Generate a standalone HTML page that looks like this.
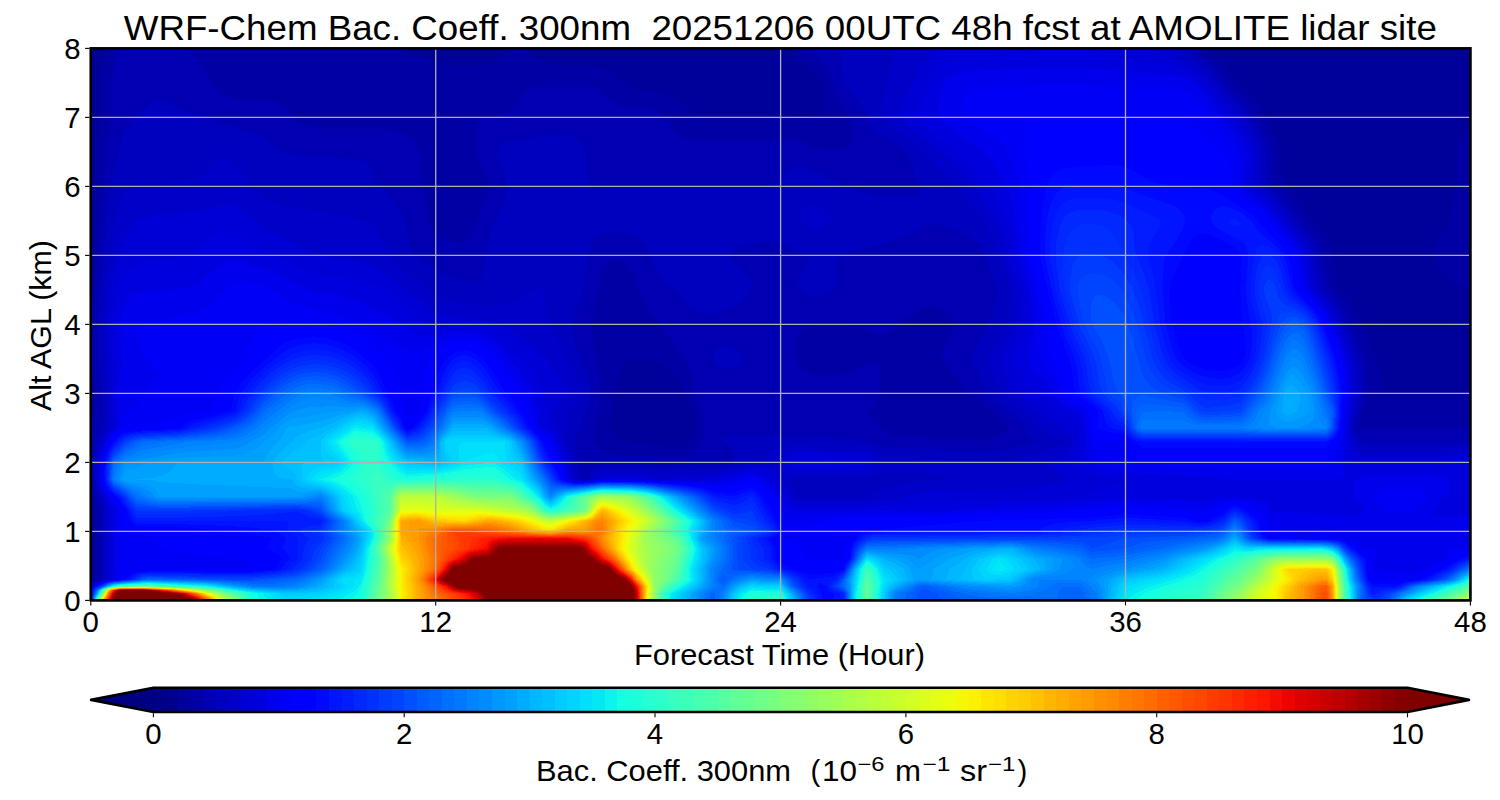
<!DOCTYPE html>
<html><head><meta charset="utf-8"><title>WRF-Chem Bac. Coeff. 300nm</title>
<style>
html,body{margin:0;padding:0;background:#fff;}
body{width:1500px;height:800px;overflow:hidden;}
svg{display:block;}
text{font-family:"Liberation Sans",sans-serif;fill:#000;}
</style></head>
<body>
<svg width="1500" height="800" viewBox="0 0 1500 800">
<rect x="0" y="0" width="1500" height="800" fill="#fff"/>
<g shape-rendering="crispEdges">
<rect x="90.8" y="48.4" width="1379.6" height="552.0" fill="#000080"/>
<path fill="#000084" d="M96.5 600.4l1373.9 0 0-552-1379.6 0 0 552z"/>
<path fill="#00008d" d="M96.5 600.4l1373.9 0 0-552-1379.6 0 0 552z"/>
<path fill="#00009b" d="M96.5 600.4l1373.9 0 0-552-1379.6 0 0 552z"/>
<path fill="#0000a4" d="M96.5 600.4l1373.9 0 0-208.1-74.7-.4-5.8-1-5.7-3.7-5.8-12.9-1.5-8.5-7-24.2-4.8-10.3-3.9-7-6.7-17.1-1.6-3.5-5.2-6.9-3.8-3.7-5.4-6.7-1.5-3.4-5.7-34.5-1.9-6.9-1.6-3.4-3.8-7-14.6-14.8-9.9-16.2-13-16.3-2.2-4.4-1.9-6.9-4.4-27.6-2.2-6.9-4.5-10.3-7.8-13.6-3.4-7.2-4.3-6.9-6.5-6.9-8.8-6.7-5.8-6-8.6-14.9-3-3.4-3.8-3.5-11-6.9-4.4-3.4-410.1 0 2.3 6.9 2.2 3.4 5.3 5.6 11.6 8.2 5.4 6.9 1.3 3.5 1.1 6.9 .2 6.9-.7 10.3-.8 3.5-.9 1.7-2 1.7-3.7 1.7-5.8 .7-40.2-1.8-57.5-.1-11.5-.7-5.7-1.5-5.8-3.3-11.5-9.7-5.7-3.4-5.8-2.2-11.5-1.9-17.2-1.3-5.8-1.5-5.7-3-13.7-13.4-3.5-2.4-5.8-2.4-11.5-1.8-28.7-.4-11.5-1.2-5.8-1.5-7.6-4.1-7.4-6.9-2-3.4-21.4 0-2.4 3.4-5.2 5.5-5.7 3.9-2.3 1-3.5 1.4-5.7 1.2-17.3 .8-17.2-.5-11.5-2.2-10.5-4.2-20-10.3-301.9 0-3 31-.7 38-5.5 82.8-3.3 64.3 0 232.4 3.8 13.8 0 69-3.8 1.1 0 19.6zM657 445.2l-32.8-3.5-4.6-2.2-5.7-4.6-4.6-7 1.7-17.3 5.2-17.2 2.3-17.2 1.8-7 5.1-7.5 5.7-2.3 11.5-.6 5.8 .6 5.7 1.4 5.8 2.5 5.7 3.5 5.8 4.8 5.7 5.9 5.8 9.1 3.7 10.2 7.5 13.8 2.6 17.3-3.4 6.9-4.7 5.6-5.7 4.8-5.8 1.5-17.2-1.3zM1470.4 290.4l0-163.6-6.5 7.8-5 9.3-1.4 4.5-1.6 10.4-.7 31-1.2 10.4-2.5 13.8-4.1 10.1-10.4 17.5-2.7 6.9-.9 6.9 1.3 6.9 1.6 3.4 5.4 7.6 5.7 4.7 5.8 3.4 16.6 8.5z"/>
<path fill="#0000b2" d="M96.5 600.4l1373.9 0 0-172.5-115 0 4.5-3.5 .9-13.8 .4-1.2 3-2.2 1.7-3.4 1.5-7 .5-3.4-.2-10.4-2.1-20.7-2.5-10.3-3.5-10.4-13.8-31-4-6.9-10.9-13.8-3.4-6.9-.9-3.5-3-24.1-1.9-6.9-2.7-6.9-1.9-3.4-5-7-8.4-8.9-3.5-4.9-10.6-17.2-9.4-10.4-5.1-6.8-1.7-7-1-20.7-2-10.3-2.5-6.9-3.4-6.9-14.2-24.2-5.4-6.9-10.2-9.2-5.7-6.1-7.8-12.3-5.6-6.9-4.1-3.4-11.3-7.7-6.1-6.1-384.3 0 2.5 3.5 8.5 7.8 5.8 6.9 4.1 9.4 3.8 13.8 2.5 6.9 4 6.9 7 10.3 2.7 6.9 .9 6.9 .2 6.9-.3 6.9-.8 3.5-1.1 1.7-2.4 1.7-3.4 1.2-5.7 .9-11.5-.2-5.8-1-5.7-1.8-13.1-6-4.2-1.4-5.7-1.2-5.8-.2-17.2 1.4-17.2 .4-51.8-.2-11.5-1.1-5.7-1.9-5.8-3.6-4.8-6-6.6-10.3-5.8-4.7-5.8-2.2-5.7-.9-17.3-1.2-5.7-1-5.8-1.8-9.4-5.5-7.8-6.8-5.7-3.8-5.8-1.8-11.5-1-34.5-.1-11.5 .9-5.7 2.1-3.9 3.6-7.6 11.9-5.8 5.4-5.7 2.1-19.7 4.8-5.8 3.5-2 3.4-.6 6.9 0 10.3 1.3 13.8 2.1 6.9 8 17.3 1.3 6.9-.3 3.4-1.6 5.1-7 15.6-4.5 14.7-5.7 12.3-5.8 4.8-5.7 .7-5.8-1.2-5.7-2-5.8-2.9-5.7-4.6-5.6-8-3-10.3-4.3-24.2-1-10.3-.6-20.7-1.2-6.9-3.2-6.9-2.9-3.5-4-3.4-5.9-3.5-8.5-3.2-11.5-2-11.5-.6-51.8-.2-11.5-1.6-5.7-2.2-5.8-3.8-11.5-11.9-5.7-4.4-5.8-2.5-5.7-1.3-5.8-.5-22.9-1.1-11.5-2.5-5.8-2.6-6-4.4-5.5-7-11.5-19.2-12.8-15.2-69.7 0-3.7 16.8-2.6 17.7-.9 34.5-4.2 34.5-4.9 51.7-3.3 51.8-3.8 37.9-2.2 31.1-.7 27.6 .2 13.8 4.1 27.6-.4 10.4-1.4 13.8-.5 3.4-2.4 6.9 0 51.7 1.8 10.4 5.9 20.7 0 69-7.7 2.3 0 18.4zM624.2 455.5l-10.3-1.7-5.7-1.8-5.8-2.5-5.7-4.3-2.9-3.5 .6-13.8 7.1-34.5-1.5-13.8-5.5-24.2-4-27.6 .4-7 3.4-13.6 3.9-20.8 4.2-15.3 5.8-8.7 5.7-2.4 5.7 0 5.8 2.5 5.7 7.3 5.8 13.7 4.5 13.3 5.1 10.4 18.1 24.1 14.1 17.2 6.5 10.4 3.3 6.9 2.4 6.9 1.8 10.3 .7 10.4 1 2.5 3.7 4.4 1.3 3.5 5.3 24.1-2 10.3-2.6 6.9-2.1 3.5-3.6 3.4-5.8 3-5.7 1.6-5.8 .6-51.7-1.6zM981.8 441.7l-86.2-6.4-5.8-1.9-10-5.5-1.5-2.5-7-7.8-3.6-7 4.2-3.4 3-3.4 3.4-5.3 2.2-5.1 .5-10.4-.3-10.3-1.3-6.9-1.1-2.5-5.7-.9-5.8 1.8-17.2 7.4-11.5 3.3-5.8 .6-11.5 .1-11.5-1.9-7-4.5-2.9-3.4-1.8-3.5-1.1-3.4-.9-6.9-.1-10.4 .8-6.9 1.5-2.8 5.8-2.9 5.7-1.1 11.5-.8 17.3-.2 17.2 1.1 16.5 3.3 6.5 2.1 5.8 .5 5.7-2.5 11.5-7.5 17.3-13.9 5.7-3.6 5.8-1.1 5.7 1 5.8 2.3 5.7 3.7 4.4 5.2 1.7 3.5 .4 3.4-.3 3.4-1.2 3.5-5 10.1-4.6 7.1-1.2 3.5-.5 3.4 1.2 3.5 2.2 3.4 8.6 9.2 14.7 21.9 19.8 13.7 6.7 3.5 8.1 10.4 3.4 3.4 4.8 3.5-5.7 4.6-5.8 3.3-5.7 2.4-11.5 3.5z"/>
<path fill="#0000bf" d="M96.5 600.4l1373.9 0 0-158.7-109.2 0-1.4-3.5-2.6-3.4-1.8-1.2-1.8-5.7 1.8-9.4 1.8-4.4 5.8-20.7-.9-13.8-2.9-20.7-5.4-17.3-12.2-27.6-6-10.3-8.9-11.2-3.5-6.1-2.1-6.9-3.1-24.1-3.7-10.4-1.7-3.4-4.8-6.9-11.8-13.8-11-17.3-5.9-6.9-7.1-6.9-2.9-3.4-1.8-3.5-1.1-6.9 .6-17.2-1.2-10.4-2.4-6.9-3.2-6.9-12.5-20.7-7.7-10.3-10.8-10.7-5.6-6.6-6.8-10.3-4.9-6-5-4.4-14.4-10.3-6.2-6.9-346.6 0 1.9 10.3 2.1 20.7 1 3.5 3.9 6.9 9.3 10.3 3.4 4.7 3.1 5.7 4.5 10.3 4.4 6.9 3.3 3.5 4.4 3.4 14.8 8.6 5.7 4.1 4.5 4.6 2.3 3.4 5.5 17.3 5.7 13.8 .5 3.5-1.2 3.8-5.8 3.1-11.5 .5-11.5-.7-17.2-2.5-17.3-3.7-11.5-4.3-17.2-9.6-5.8-2.7-11.5-3.9-5.7-1.4-5.8-.6-5.7 1-5.8 3.2-11.4 9.3-5.8 2.9-5.7 1.4-5.8 .5-138 .2-17.2-.6-5.7-1-5.2-1.9-3.1-3.4-.9-3.5-.9-17.2-1.4-7.8-2.8-6-2.7-3.5-6-4-5.8-1.7-5.7-.7-11.5-.1-11.5 1.3-28.8 4.7-5.7 1.7-3.4 2.3-2.4 2.4-1.4 4.5 .1 3.4 1.3 4.9 4.2 8.9 3.7 10.4 .8 6.9-.8 6.9-3.7 10.3-9.9 21.1-6 23.8-3.4 20.7-2 6.9-3.4 3.4-2.5 1.4-5.7 .6-11.9-2-11.1-3.9-5.8-2.8-21.6-14-4.1-3.4-3-3.4-3.1-7-5.1-24.1-4-10.4-5-8.3-4.8-5.5-14.6-13.8-2.4-3.4-1.2-3.5-2.5-10.3-2.5-3.5-6.5-2.1-7.4-1.3-44.4-2.8-17.2-2.2-5.8-1.9-5.7-2.8-17-11-7.4-3.5-27.3-8.2-17.3-6.2-19.4-6.3-16.5-6.9-4.3-2.7-3-.7-2.8-2-5.7-1-5.8 .6-2.7 2.4-3 1-1.8 2.4-4 2.3-.6 1.2-5.1 4.1-2 2.8-3.8 3.6-5.7 8.9-5.8 15.5-.6 3-5.1 24.6-6.2 37.5-3.9 44.9-3.8 34.5-2.2 34.5 .8 41.4 3.8 27.6 1 34.5-4 3.5-2.4 3.4-1.4 3.4-2 10.4-1.5 13.8 1 17.2 .6 3.5 1.9 6.9 3 6.9 3.8 13.8 0 69-5.8 1-5.7 2.5 0 17.2zM581.3 479.6l-2.9-10.3-2.3-20.7-1.5-6.9 3.2-10.3 11-27.6 2.3-10.4-.8-6.9-1.6-6.9-10.7-27.6-5.8-20.7-.6-6.9 1.5-6.9 6.3-14.7 2.9-9.5 1.8-10.3 2.5-24.2 2.3-10.3 3.3-6.9 4.5-4.7 5.7-2.8 5.8-1.2 5.7-.4 11.5 .5 5.7 1.1 5.8 2.5 5.7 4.7 2.8 3.7 5.1 10.4 3.6 10.3 5.8 11.6 5.7 6.6 10.3 6 4.2 3.4 10.7 13.9 3.6 3 5.7 2.6 5.8 .9 5.7-.2 5.8-1 5.7-1.8 5.8-2.3 9.1-4.7 9.4-6.9 3.1-3.5 1.8-3.4 .5-3.5-.6-3.4-3.7-6.9-6.3-6.9-11.7-10.4-1.8-3.4 1.3-3.5 5.2-3.4 9.6-3.5 7.1-1.7 11.5-2.1 5.7-.3 5.8 .4 5.7 1.4 5.7 2.2 13.1 7 4.9 3.5 3.1 3.4 .3 3.5-7.4 13.8-2.1 6.9 .1 3.4 1.4 3.5 3.9 4 5.7 2.5 5.8 .5 5.7-.9 7.3-2.7 5.1-3.4 2.9-3.5 1.3-3.4 .3-3.5-2.6-13.8 .3-3.4 2.8-3.5 5.5-3.4 7.7-3.5 10.3-3.4 33.9-8.3 11.5-4.8 17.2-9.6 5.8-1.5 5.7 .1 5.8 1.3 17.2 5.7 5.7 2.3 5.8 3.1 5.7 4.5 5.8 6.9 2 3.7 3.7 8.9 3.4 11.8 5.3 13.8 1.1 6.9-1 6.9-3 12.4-2.7 8.4-3.1 6.6-8.5 14-4.5 10.4-1 6.9 1.2 6.9 2.8 6.9 10.2 20.7 7.3 6.9 15.1 10.3 14.8 17.3 2.9 6.9 3.3 3.4 2.4 1.5 5.8 2-28.8 6.9-28.7 2.9-97.7-4.5-17.3-5.3-28.7-3.5-17.3-1.3-40.2-2.1-51.7 0-5.8 3.4 0 3.5 5.8 3.5 2.4 3.4 2.3 6.9 1 6.9-11.5 2-57.5 1.4-28.7-.9-34.5 0-6.6 .9-4.9 3-2.2 4-1.4 6.8-2.1 .3zM723.1 368.6l5.8 0 5.7-1.6 2.6-1.2 4.8-3.5 1.8-3.4-.7-3.5-2.7-3.4-5.8-3.7-5.7-2-5.8-.4-5.7 2-.8 .6-2.4 3.5-1 3.4 .2 3.5 1.5 3.4 2.9 3.5z"/>
<path fill="#0000c8" d="M96.5 600.4l1373.9 0 0-153.5-28.7 1.7-80.5 0-6.3-10.4-1.4-3.4-1.7-6.9 .9-6.9 6.3-27.6-2.2-24.2-2.7-13.8-2.1-6.9-4-10.3-12.6-27.6-4.4-6.9-10.1-12.9-2.2-4.4-1.9-6.9-2.6-20.7-3.1-10.3-6.3-10.3-12.6-15.3-11.5-17.1-4.8-5.6-11-10.4-2.7-3.4-1.5-3.5-.7-3.4 1.6-20.7-.4-6.9-.7-3.5-4.4-10.3-14.9-24.1-5.5-7-13-13.8-11-15.4-4.7-5.3-6.8-5.4-12.4-8.4-8.5-6.9-3.2-3.4-281.4 0-4.9 23.4-4.4 14.5-2.4 10.4-.7 6.9 0 6.9 1.8 6.9 2 3.4 3.7 4.1 18.1 13.2 8.5 6.9 6.7 6.9 12.7 15.7 17.2 14.9 5.8 7.1 9.2 14 13.8 14.9 5.7 8.6 5.8 12.5 8.4 26.1 8.1 20.7 1.3 6.9-.2 6.9-1.7 10.4-2.3 10.4-2.7 6.8-13.2 24.2-1.6 6.9 .1 3.4 1.5 6.9 7.7 20.7 1.7 3.5 4.4 3.9 5.7 4.3 9.5 5.6 4.7 3.4 14.6 17.3 12.3 6.9 16.4 6.9-15.7 6.9-13 4.9-28.8 8.9-126.4-5.1-5.8-3-5.7-4-5.8-2.7-69-2.4-5.7 .2-5.8 1-15.3 5.6-7.6 4.6-5.8 5.8-17.2 2.7-17.3 3.4-11.5 1.4-46 2.6-28.7-2.7-34.5 0-5.7 2.1-.9 .9-2.7 3.4-1.6 3.4-6.3 .7-11.5-.7-.5-17.2-2.4-10.4-4.4-10.3-.6-13.8 1.9-10.3 2.5-7 9.2-6.8 1.9-3.5 2.4-6.9-2-6.9-2.3-5.3-8.4-12-4-6.9-10.6-23.1-8.1-14.8-2-6.9-1.3-24.2-1.3-3.4-4.5-2.2-3 2.2-2.8 .7-3.7 2.7-13 6.9-9.5 3.5-8.3 1.5-11.5 .3-11.5-1.1-23-3.6-11.5-3.3-5.7-2.8-5.7-3.8-13.1-11.4-17.1-13.8-7.4-6.9-5.3-6.9-8.9-19.9-3.1-4.2-3.6-3.5-6.4-3.4-9.9-2.7-69-11.7-11.5-3.2-5.7-2.7-5.8-3.7-8.4-7.1-6.4-6.9-8.1-12.7-5.8-7-5.7-3.5-5.8-1.1-1.7 .2-4 .8-4.9 2.6-3.3 3.5-4.6 6.9-3.4 3.4-6.8 3.1-11.5 1.6-40.3 3.1-5.7 1.3-5.8 2.8-5.7 5.4-5.8 10.1-4 14-1.7 8.1-3 26.4-3.4 20.7-2.6 20.7-1.8 24.2-.2 17.2 1.3 31.1 2.8 27.6 1.1 34.5-3.4 3.5-6.1 10.3-1.8 6.9-2.2 13.8 .6 17.2 2.8 10.4 1.6 3.4 2.8 3.5 2.9 13.8 0 69-8.7 1.6-5.7 3 0 16.1zM797.8 496.9l-2.6-6.9-4.3-6.9-3.1-3.5 4.3-1.7 5.7-.7 69-.4 5.8-.9 11.5-4 28.7 1.2 17.3 1.4 11.5 1.7 11.4 3.4-34.4 2.3-23 3.1-11.5 2.8-5.8 2-5.7 2.9-5.8 4.2-69 0zM809.3 226.6l5.8 .9 5.7-.9 5.9-2.3 3.5-3.4-.3-3.5-2.7-3.4-6.4-5.3-5.7-3.2-5.8-.4-5.7 4.2-.9 1.2-1.6 3.5-.6 3.4 1 3.5 3.2 3.4z"/>
<path fill="#0000d6" d="M96.5 600.4l1373.9 0 0-148.4-28.7 3.5-80.5 0-4-3.5-2-3.4-3.4-10.4-1.8-10.3 .6-6.9 4.7-27.6-2.4-27.6-1.4-6.9-3.1-10.4-7-17.2-7.8-17.3-4-6.8-10.7-13.9-4.2-6.9-1.8-6.9-2.6-20.7-2-6.9-3.4-6.9-4.9-6.8-11.3-13.9-12.2-17.2-6.7-6.9-11.3-10.4-2.5-3.4-1.3-3.5-.5-3.4 2.2-17.3 .3-6.9-1.2-6.9-2.9-6.9-17.7-27.6-15.6-17.2-12.5-17.3-6.6-6.2-17.2-10.7-11.5-5.7-5.8-1.9-25.6-6.5-196.5 0-7.8 4.8-5.7 4.3-7.7 8.1-6 10.4-13.3 27.6-2.4 6.9-.1 3.4 1 3.5 2.3 3.4 3.5 3.5 25.7 20.7 32.7 31 5.8 6.9 15.9 21.5 5.8 8.8 2.1 4.2 5.2 13.8 8.1 31.1 7.8 20.7 1.7 6.9 .7 6.9-.5 17.2-1.4 10.4-2.3 6.9-8.7 17.2-2.8 6.9-.6 6.9 1.4 6.9 6.5 18.1 4.5 6.1 12.2 6.9 5 3.4 7.1 6.7 21.5 17.5 7.2 3.5 3 3.4 2.8 6.9-2.2 6.9-3.6 6.9-19.1 6.9 5.9 6.9 3.6 3.5 9.6 6.8-11.5 3.9-17.2 4.8-51.8 2-63.2 1.4-23 5.9-34.5 3.9-69 0-5.7-2.3-1.9-2.3-3.9-8.1-8.9-9.2-.7-6.8-1.6-3.5-6-2.1-17.2-.7-40.3 8.4-46 4.4-5.7-.4-11.5-2.5-11.5-1.7-34.5 0-5.7 3.6-.9 1.3-10.6 1.1-11.5-.6-1.8-.5-1.8-13.8-4.1-13.8-4.2-10.3-1.5-6.9-1.4-3.4-2.5-3.5-3.9-17.3 5.6-6.9 11.5-10.3-26.7-38-7-6.9-17.3-13.7-8.2-5.7-5.7-3-11.5-3.7-17.3-3-28.7-3.3-5.8-1.4-5.7-2.4-11.5-7.5-34.5-28.5-11.5-8-5.7-2.9-11.5-3.4-40.3-6.5-12.3-3.6-7.2-3.4-11.5-6.9-20.7-10.9-4.5-2.9-7-5.5-11.5-10.5-5.7-4.1-5.8-2.4-5.7-.8-5.8 .6-23 5.3-40.2 4.9-17.3 3-5.7 2.1-5.8 4.6-5.7 11.4-3.3 12.1-8.2 25.6-3.4 19.2-2.4 22-.4 16 3.2 62.1 .1 34.5-5.6 6.9-4.8 10.4-2.1 6.8-1.6 10.4 .2 17.2 .7 3.5 2.4 6.9 4.4 6.9 3.5 13.8 0 69-11.5 2.3-2.6 1.2-3.1 2.2 0 15zM786.3 470.5l5.8 1.4 5.7 .4 69-1.3 5.8-3 2.4-2.2 2.6-3.4-5-5-5.8-3.9-57.5-2.4-11.5-.2-5.7 1-6 3.6-3.3 3.4-2.2 3.5 1 3.4 2.6 3.5z"/>
<path fill="#0000df" d="M96.5 600.4l1373.9 0 0-143.2-17.2 2.8-11.5 2.4-86.3 0-2.3-3.5-2.4-6.9-2-13.8-.5-10.3 .4-6.9 3.4-27.6-2.2-27.6-2.3-10.4-2.2-6.9-9.9-24.1-4.9-10.4-6.7-10.3-8.6-10.4-4-6.9-1.9-6.9-2.6-20.7-2.3-6.9-1.6-3.4-4.6-6.9-11.7-14.5-12.2-16.6-6.4-6.9-12.1-10.3-3.2-3.5-2.2-3.4-1.2-3.5-.4-3.4 2.8-20.7-.4-6.9-1-3.5-3.3-6.9-15.9-24.1-15.4-17.3-9.9-13.8-5.5-6.3-5.7-4.4-11.5-5.9-5.8-2.2-11.5-2.9-40.2-4.8-23-3.9-16.5-4.1-11.2-3.4-25.5 0-18.1 3.5-14.9 2-51.8 5.4-11.4 2.6-5.8 2.4-7.2 4.8-4.3 4.4-4.2 5.9-3.2 6.9-8.1 20.7-1 3.5-.2 3.4 .9 3.5 2.2 3.4 3.3 3.5 29.9 24.1 11.7 10.4 10.2 10.3 8 10.4 9.3 13.8 4.4 7.4 4.6 9.8 2.3 6.9 2.6 10.4 4.8 27.6 9.2 27.6 1.7 6.9 1 6.9 1.2 20.7-.7 10.3-3.1 10.4-5.7 13.8-1.6 6.9 1 6.9 3 6.9 4.3 6.9 6.3 6.9 20.9 16.6 3.9 4.1 24.8 18.4 .7 2.3-1.4 20.7-1.2 6.9-2.4 6.9 3 3.4 7.1 5.2 5.7 2.6 5.8 1.7 28.7 4.3-5.7 3.3-17.3 7.6-20.1 6.4-43.1 2.5-86.3 2.1-28.7 0-23 2.6-34.5 2-69 0-5.7-1.1-1.3-1.2-3-3.4-7.2-10.4-9.6-10.4-2.4-3.4-5.2-3.6-5.8-1.8-5.7-1-17.3 3.8-23 6.2-46 .5-63.2-.7-17.2 1.5-11.5-.5-3.6-1-1.2-6.8-1.9-7-9.7-27.6-1.8-3.4-2.7-3.4-5-3.5-1.9-6.9-1.8-10.4-.4-10.3-1-6.9-6.9-17.2-4.5-7-15.1-15.2-9.7-12.4-7.6-6.3-5.7-3-5.8-2.1-11.5-2.5-11.5-1.3-23 .2-5.7-.4-5.7-1.5-7.1-3.7-38.9-29.7-5.8-4.1-5.7-3.2-5.8-2.2-5.7-1.6-40.3-5.6-11.5-2.3-5.7-1.7-11.5-4.7-21.7-10.5-12.1-6.9-17.9-13.2-5.8-2.9-5.7-1.1-5.8 1-5.7 2.7-23 16.6-7.5 3.8-9.8 3.1-5.7 1.2-28.8 4.8-5.7 1.5-5.8 2.7-5.7 5.5-5.8 11.2-4.6 21.8-1.9 17.2 1.8 41.4-1 62.1-5.8 6.9-3.8 6.9-3.6 10.3-2.2 10.4-.1 17.2 .9 3.5 4.8 10.3 2.6 3.5 1.9 6.9 2.9 6.9 0 69-9.1 1.4-5.8 1.6-5.7 3.9 0 13.8zM792.1 466l5.7 1.3 11.5 0 57.5-2 3.6-2.9-3.6-3-57.5-2.6-11.5-.2-5.7 1.9-4.3 3.9 4.1 3.4z"/>
<path fill="#0000ed" d="M96.5 600.4l1373.9 0 0-84.5-28.7 0-5.8-2.2-3.8-3 5.6-6.9 4-6.9 5.7 0 1.4-3.5 0-13.8-7.1-2.4-11.5-2.8-5.8-.5-40.2 0-17.3 2.9-11.5 2.8 0 17.3 9.6 13.8-3.8 3-5.8 2.2-86.2-5.2-1.3-6.9-2.6-3.4-1.8-.9-5.8-1.1-23-1-34.5 2.6-17.2-.9-57.5-.2-86.2 5.5-46 2.4-40.3 3.9-160.9 0-5.8-4.8-8.2-12.5-9.3-10.3-8.7-6.9-8.2-3.1-28.8 7.4-5.7 1.1-5.8 .3-80.5-1.9-28.7 0-17.2 1.5-11.5-.4-5.4-1.5-2.7-10.3-3-6.9-4.5-13.8-4.7-10.4-2.7-3.5-4.1-3.3-7.4-3.5-1.1-13.8-1.4-6.9-5.9-17.3-2.9-6.9-4.3-6.8-13.2-15.6-8.5-12.1-3.1-3.4-5.6-4.7-5.8-3.2-5.7-2.2-5.8-1.6-11.5-1.5-11.5 .6-22.9 4.3-5.8-.2-5.7-1.6-5.8-3.1-11.5-7.5-28.7-16.4-11.5-5.8-17.3-5.5-34.5-7.1-11.5-4.4-17.2-9-11.5-5.1-23-8-5.7-1.5-5.8-.8-5.7 .6-5.8 2.2-8.3 5.6-14.7 12.3-5.7 3.6-3.3 1.3-8.2 2.2-5.8 .6-28.7 1.1-5.8 .5-5.7 1.3-5.8 3.4-5.7 8.5-4 13.5-1.2 6.9-.1 10.3 1.8 31.1-2.8 20.7-2 27.6-.3 13.8-6.4 6.9-4.2 6.9-2.6 6.9-3.6 13.8-.3 17.2 4 10.4 2 3.4 3.1 3.5 2.3 6.9 3.9 6.9 0 69-6.9 .6-5.7 1.2-5.8 1.8-4.7 3.3-1 1.5 0 12.3zM1200.2 476.4l40.3 3.2 97.7 0 5.7-3.4 0-13.8 1.2-20.7 .9-6.9 .5-13.8 2.7-27.6-2-27.6-2.5-10.4-3.6-10.3-11.6-27.6-6.2-10.3-11.4-13.9-4.1-6.9-1.8-6.9-2.9-20.7-2.4-6.9-1.8-3.4-4.8-6.9-24.6-31.1-6-5.8-13.5-11.4-3-3.4-2-3.5-1.2-3.5-.3-6.9 2.1-13.8 .4-6.9-.5-3.4-3.1-6.9-18.8-27.6-15.6-17.3-7.8-10.8-2.7-3-3-3-5.8-3.6-5.7-2.3-11.5-2.7-57.5-4.1-40.2-3.7-17.3-.2-80.5 4-11.5 1.1-5.7 1.3-5.8 2.3-5.5 4-4.5 6.9-2.3 6.9-3.1 13.8-.2 6.9 1.3 3.5 2.4 3.4 3.6 3.5 28.9 20.7 8.5 6.9 5.4 5.2 4.5 5.1 4.8 6.9 5.8 10.4 4.9 10.3 3 8.2 3.1 12.5 2.1 13.8 3.6 31.1 9.5 31 4.8 31.1 .5 6.9-.3 6.9-5.4 24.1 0 3.5 .7 3.4 1.6 3.5 4.8 6.9 15.3 16.4 7.6 11.2 3.3 3.5 5.4 3.4 10.8 3.4 1.6 1.2 4.2 9.2 1.6 6.9 0 13.8 .7 6.9 1.2 6.9 2.4 6.9 7.2 4.3 28.7 6.1 71.9 3.4z"/>
<path fill="#0000f6" d="M96.5 600.4l1373.9 0 0-51.8-23 0-1 3.5 0 6.9-4.7 2.6-5.8 1.3-4.6 3-2.8 3.5-4.1 1.1-5.7 .4-5.8 1.3-40.2-2.6 3.3-3.7 .5-10.3 0-3.5-3.8-3.5-11.5 0-1.1-3.4-2.8-3.4-1.9-1.1-5.7-1.6-8.4-.8-12.2-3.5-8.2-.9-51.7-2.5 0-10.4-1.3-3.4-2-3.4-6.1-7-5.5-3.4-8.1-2.7-5.7-1.2-5.8-.5-5.8 1-17.2 4.8-5.7 3.1-5.8 1.1-6.2-2.2-11-2.3-57.5-2.1-34.5 3.1-74.7 5.1-63.3 2.4-86.2 .8-34.5 1.3-25.8 2.1-20.2 3.4-1.6-10.3-11.5-17.3-6.2-6.8-3.8-3.5-5.6-4-5.7-2.7-23 6.1-11.5 1.7-23-1.7-51.8-1.9-40.2-.2-17.2 1.5-11.5-.3-5.8-1.5-1.4-.5-3.3-10.3-3.2-6.9-3.6-10.5-4.5-10.2-2.4-3.5-3.5-3.4-4.5-3.4-2.3-1.2-2.4-2.3-1.9-10.3-4.8-13.8-8.2-17-25.2-34.8-3.5-3.7-5.8-4.5-5.7-3.1-7.6-2.5-9.7-1.5-5.7 .2-5.8 .9-5.7 1.8-23 11.3-5.7 1.6-5.8-.1-5.7-1.9-5.8-3.1-25.5-16.1-9-4.5-40.2-15.7-28.8-6.1-5.7-2.3-4.2-2.5-13.1-9.5-5.7-3.3-11.5-3.9-11.5-1.7-5.7 0-5.8 1-5.7 2.6-5.8 4.8-11.5 13.7-5.7 4.4-5.8 2.8-11.5 3.2-39.4 6.7-6.6 2.5-4.1 4.3-1.1 3.5 0 3.4 1.5 6.9 3.7 12.4 3.6 4.9 2.2 4.3 3.3 2.6 2.4 3.9 4.2 3 .9 3.5-2.6 3.4-2.5 1.1-1.1 2.3-4.6 4-1.5 2.9-2.7 3.5-1.6 .6-5.7 5.7-6.8 10.9-4.7 4.1-5.8 6.3 0 6.9-5.7 5.5-3.7 4.8-3.8 7-1.3 3.4-3.5 13.8-.5 17.2 4 10.4 2.3 3.4 3.5 3.5 3 7.3 1.9 3 3.3 3.5 0 69-11 .9-5.7 1.4-5.8 2-3.8 2.6-1.9 3 0 10.8zM1384.2 510.7l28.7 0 3.2-3.5 8.3-5.8 3.8-4.5-1.7-3.5-2.1-2.8-5.7-2.3-34.5 0-5.8 4.3-3.8 4.3 7.2 10.3zM1125.5 465.8l115 2.4 86.2 0 2.9-2.4 6.2-6.9 3.2-6.9 2.2-10.3 1.6-3.5 1.4-6.8 .8-20.8 1.4-6.8 .9-10.4-1.8-20.7-2.5-13.8-3.2-10.4-9.7-24.1-7.2-13.8-5.2-6.9-9.1-10.4-4.2-6.9-1.8-6.9-2.9-20.7-1.7-4.9-2.9-5.4-27.3-34.5-4.3-4.5-19.2-16.2-4.7-6.9-1.2-3.5-.6-6.9 1.1-13.8-.1-6.9-2.6-6.9-11-13.8-7.7-12.5-3.7-4.7-25.1-25-5.7-3.3-5.8-1.5-5.7-.8-97.7-1.8-69 .9-23 1.7-11.5 2.4-4.3 3.2-1.5 1.8-1.9 5.1-1.6 6.9 0 3.5 1.1 3.4 2.4 3.5 4.4 3.4 24.4 15.2 5.7 4.9 3.8 4.1 2.5 3.4 5.2 9.7 6.6 17.9 2.4 10.4 1.8 13.8 2.9 51.7 2.2 10.4 7.2 24.1 6.8 34.6 1 10.3-.8 20.7 1 6.9 1.4 3.4 10.9 17.3 2.6 4.6 3.5 9.2 2.3 3.4 3.2 3.5 4.8 3.5 15.2 6.8 1.7 7 1.3 13.8 1.4 6.8 3.3 10.4 3.6 6.9 8.6 3.4 5.7 3.5 14.4 3.4z"/>
<path fill="#0000ff" d="M96.5 600.4l1373.9 0 0-49.7-11.5 1.9-5.3 3-2.4 3.4-13.5 6.9-4.1 3.5-3.4 1.6-11.5 3.5-3 1.7-2.8 3.5-40.2 0-2.3-10.3 2.3-10.4-1.5-3.4-4.3-3.5-5.7-1.4-2.4-2.1-3.4-4.6-3.9-2.2-7.6-2.3-5.7-.7-15.9-.5-53.1-3.5-2.5-3.4-.8-10.4-2.4-3.9-2.7-2.9-9.6-7-6.3-3.4-4.4-1.5-5.8-.9-5.7 1.6-5.8 3.5-5.7 2-11.5 5.4-5.8 .9-17.2-4.1-28.8-2.3-28.7-1.6-34.5 3.9-46 2.1-92 3.4-86.2 1.4-11.5 .7-28.7 2.7-40.3 10.4-6.2-20.7-8.8-13.8-9.3-10.3-4.4-3.5-5.7-3.4-17.3 5.2-5.7 1-11.5 .9-23-3.1-51.8-2.6-40.2-.3-17.2 1.5-11.5-.2-9-2.5-3.7-10.3-3.5-6.9-7-17.2-1.9-3.5-6.2-6.9-3.2-2.3-4.8-4.6-3-10.3-9.9-20.8-28.3-40.6-5.8-5.8-5.7-4-5.8-2.7-5.7-1.7-5.8-.7-5.7 .3-5.8 1.4-5.7 2.5-4.8 3-7.9 6.9-5.4 6.9-2 3.5-1.1 3.4-3.1 24.2-1.4 6.9-.9 10.3-2.1 2.4-5.8 2.3-2.5 2.3-3.2 10.3-1-10.3-.6-3.5-1.4-3.5-.8-6.8-2.9-10.4-3.6-17.2-2.3-7-1.7-3.4-2.6-3.4-9.6-10.4-6.9-6.9-6.9-5.7-5.7-3.6-5.8-2.7-11.5-4.2-17.2-4.6-11.5-1.7-11.5-.3-17.3 .9-11.5 1.8-5.7 1.6-5.8 2.6-5.7 4.1-3.9 4.9-7.8 17.2-5.5 6.4-11.7 10.9-5.3 6.9-3.4 6.9-3.5 10.3-7.4 13.8-3.2 .9-17.3 1.5-5.1 1.1-6.4 3.1-17.2 4.8-5.8 2.4-5.7 3.5-23 1.3-5.8 1-5.7 6-5.8 8.8-2.8 7-1.7 6.9-.7 3.5-.5 17.2 1 3.5 3 6.9 2.6 3.4 4 3.5 3.4 6.9 5.3 6.9 1.1 10.3 .9 3.5 1.9 3.4 5.5 2.4 12.4 1.1 16.4 14.3 4.6 2.9 6.9 2.2 11.5 2.5 17.2 2.3 49.1 3.4-1 10.4-99.8 .3-17.3 .6-5.7 1.3-1.3 1.2-1.8 3.4-.7 3.5-13.5 1.2-8 2.3-3.5 1.4-2.8 2-2.6 3.4-.3 10.4zM803.6 559l0-10.4-11.5-6.8-11.5-3.1-.2-.4 5.7-3.5 .2-3.4 5.8 2.9 17.2 1 34.5 .3 5.8 1.1 1.3 1.6-1.3 2.8-3.9 4.1-1.9 3.4 0 10.4-40.2 0zM1142.7 459.4l184 0 4.4-3.9 2.4-3.5 1.7-3.4 2.3-6.9 2.7-3.5 1.5-3.4 1.5-6.9 .1-17.3 2.2-17.2-2.3-20.7-2.6-13.8-4.7-13.8-6.7-17.3-4.7-10.3-6.9-10.3-12.4-13.9-4-6.9-1.8-6.9-2.4-17.2-2-6.9-1.6-3.5-6.9-9.7-23-27.6-5.8-5.3-15.8-12.6-6.2-6.8-2-3.5-2.2-6.9-2.5-18.6-3.1-5.6-2.7-3.1-10.4-7.2-3.9-3.5-8.7-11.9-5.7-5.3-5.8-2.3-5.7-1.2-57.5-4.2-74.7 .8-11.5 .9-5.8 1.3-3.1 1.2-3.6 3.5-1 3.4-.5 10.4 .3 10.3 3 24.2 .9 13.8-.4 51.8 .4 13.7 1.1 6.9 6.7 24.2 8.9 38 3.4 24.1 2.3 10.3 8.5 20.8 5 17.2 2.8 3.4 4.1 3.5 13 6.9 4.5 3.4 .9 7 .3 10.3 1.9 6.9 3.9 6.9 28.7 0 1.2 6.9 1.2 3.4 2.4 3.5 7.7 3.4z"/>
<path fill="#0000ff" d="M96.5 600.4l1373.9 0 0-47.6-9.6 2.8-4.8 3.4-7 3.4-11.3 7-7.5 3.6-8.3 3.2-5 3.5-21.2 2.3-23 0-1.9-2.3-2.6-10.3 1.6-10.4-2.9-3.4-5.7-2.8-7.9-7.6-5.9-3.4-9.2-2.3-5.8-.5-63.2-.7-5-6.9-1.7-10.4-2.7-3.4-4-3.4-10.4-7-4.9-2.6-5.8-1.3-5.7 2.4-2.4 1.5-3.4 3.5-10 3.5-7.2 4.3-5.8 1.2-5.7-2.3-11.5-3.2-57.5-3.5-34.5 3.5-23 .9-92 3.2-109.2 2.7-40.2 10.4 23 1.9 2.4 1.5 1.8 3.5-2.4 3.5-1.8 5.5-1.1 1.3-1.9 10.4-2.2 3.4-.6 2.4-2 1.1-3.7 3.5-34.5 0-11.5-6.9-11.9-3.5 0-10.4-3.2-6.8-2.4-3.5 7.3-3.5 2.3-3.4-2.4-6.9-4.2-10.3-10.4-17.3-6.1-6.9-9.2-6.8-17.3 5.5-5.7 .6-11.5 .2-17.3-3.8-23-2.2-28.7-1.8-17.3-.5-28.7-.1-17.2 1.6-11.5-.1-10.8-3-4-10.3-3.9-6.9-4.2-10.4-3.5-6.8-4.4-7-10.9-10.3-3.8-10.3-4.4-7-5.5-10.3-13.6-18.1-8.1-13-7.6-10.3-7.3-6.7-5.8-3.4-5.7-2.1-5.8-.9-5.7 .5-5.8 1.8-5.7 3.5-7.3 7.3-4.2 6.9-2.6 6.9-4.6 20.7-2.4 6.9-1.7 10.3-5.9 6.5-4.8 3.9-2.4 3.4-1.5 3.5-2.8 1.4-1.4-1.4-2.1-10.3-1.4-3.5-2.8-3.5-1.7-6.8-2.9-7-2.1-3.4-7.4-20.7-4.2-6.9-12.9-13.8-7.1-6.5-5.8-3.8-11.5-5.2-17.2-4.6-11.5-1.2-5.8 0-11.5 .9-11.5 2.2-5.7 2.1-4.5 2.3-4.8 3.4-3.4 3.5-10.3 12.5-16.3 15.1-8.8 10.3-5.6 10.4-3 10.4-3.5 6.8-14.5 3.9-11.5 1.5-5.9 1.6-6.1 3.4-3.3 3.4-2 3.5-40.2 1.7-11.5 1.1-5.8 1.8-5.2 5.7-4.8 7-3 6.8-2.7 10.4-.6 17.2 2.5 7 4.7 6.8 4.5 3.5 1.8 3.5 7.3 10.3 2.2 10.3 2.4 3.5 2.4 1.9 5.8 2.1 51.3 2.9 11.9 3.8 13.2 3.1 15.6 5.1 23 5.5 11.4 6.1 11.3 4-5.7 3.4-3.5 3.5-2.3 3.5-11.2 1.1-103.5 0-11.5 .7-5.8 1.1-1.4 .5-4.2 3.4-1.7 3.5-15.7 1.5-6.5 2-6.9 3.4-3 3.4-.8 10.4zM1142.7 453.5l184 0 3.9-4.9 3.3-6.9 4.3-4.1 1.5-2.8 2.1-6.9 .5-17.3 1.3-17.2-3.1-24.2-3.3-13.8-10.4-27.6-4.7-10.3-6.9-10-13.3-14.2-4-6.9-1.7-6.9-2.6-17.2-2.2-6.9-4.9-8.1-23-27.1-6.1-6.2-18.1-13.8-7.8-6.9-5.4-6.9-2.9-5.8-5.7-8.2-5.8-3.3-11.5-2.1-28.7-2.4-11.5-2.3-5.8-2.3-5.7-3.1-11.5-7.9-5.8-3.3-5.7-2.2-5.7-1.1-5.8-.3-11.5 .5-17.2 1.9-17.3 2-11.5 2.2-5.7 2.2-5.2 4.4-2.1 3.5-2.4 6.9-2.4 13.8-2.9 31-1.4 31.1 .5 13.8 11.6 48.3 4.8 17.3 4.7 20.6 9.5 27.6 5 24.2 3.3 3.4 11.5 7 8.8 6.8-.2 17.3 2.9 6.9 11.5 2 17.2 1.4 4.8 3.5 3.6 6.9 4.1 3.4zM1215.2 362.3l-9.2-1.9-4.4-1.5-5.8-3.5-3-3.4-4.1-8.3-5.7-15.9-1.8-10.3-.8-13.8 .3-10.4 1.8-6.9 7.4-13.8 4.6-13.6 1.7-3.6 4-5.7 2.1-1.2 3.7-1.6 5.7 0 5.8 1.3 8 3.7 4.3 3.5 1.8 3.4 .8 3.5-.3 6.9-2.5 20.7 .3 24.1 1 10.4 4.4 17.2 1.1 6.9 0 3.5-1.7 5-1.9 1.9-3.8 2.3-5.8 1.3-5.7 .1z"/>
<path fill="#0008ff" d="M96.5 600.4l1373.9 0 0-45.5-5.7 1.9-11.5 5.5-11.3 7.1-20.9 10.3-13.8 1.6-11.5 3-23 0-3.9-4.6-1.9-7.4-.4-2.9 .4-10.4-5.7-4.1-2.6-2.8-8.7-6.9-5.7-3.4-6-1.7-11.5-.9-57.5-.4-2.5-.5-5-6.9-2.6-10.4-1.4-1.6-6.6-5.2-10.2-7-6.2-1.9-5.7 3.1-5.8 4.9-10 4.3-5.1 3.4-2.1 .7-5.8 .5-7.2-1.2-10-3.4-57.5-3.4-34.5 3.4-112.1 3.4-60.3 4.9-57.5 6.1-3.7 2.8-.7 3.5-3.2 3.5-1.8 3.4-1.1 3.4-1.1 10.4-3.8 3.4-1.9 7.2-11.5 3.4-23 1.3-15.8-4.9-5.5-3.5-7.4-2.8-4.2-4.1 0-10.4-5.6-10.3 7.6-3.5 3.6-3.4-2.9-6.9-4.2-8.3-5.8-9-5.7-10.3-5.8-6-5.7-4.3-17.3 5.9-5.7 .2-11.5-.6-17.3-5-23-2.8-28.7-2.1-17.3-.6-28.7-.1-17.2 1.6-11.5 0-5.8-1.2-6.7-2.3-2.7-6.9-6-10.3-9.3-20.7-9.2-10.3-4.4-3.5-4.6-10.3-5.3-7-6.4-10.3-8.9-10.4-15.9-24.1-6.1-6.9-6.5-4.9-5.7-2.6-5.8-1-5.7 .7-5.8 2.4-6.3 5.4-4.8 6.9-3 6.9-5.8 20.7-3.6 6.9-2.9 10.3-1.9 3.5-9.7 10.3-2.2 3.5-5.7 2.8-2.7-2.8-3.2-10.3-2.2-3.5-3.7-3.5-1.5-6.8-1.5-3.5-4.9-6.9-7.1-17.2-4.4-7-6.2-6.9-14.4-12.5-5.7-3.6-5.8-2.8-5.7-2.1-11.5-3-11.5-1.1-11.5 .6-11.5 2.3-5.8 2.2-5.7 3.4-3.5 2.8-10.8 10.4-15.9 13.8-9.2 10.3-6.8 10.4-3.6 17.2-24.9 6.7-11.5 2.3-5.8 2.3-3.5 2.5-3.2 3.5-4.8 1.1-34.5 1.4-17.2 1.9-5.8 2.5-8.4 10.4-3.3 6.8-3 10.4-.8 17.2 2.8 7 2.2 3.4 3 3.4 5 3.5 4.1 6.9 5.1 6.9 2 6.9 1.6 3.4 3.9 3.5 3.1 1.5 51.3 1.9 34.9 2.5 9.9 1 18.9 3.7 22.5 3.2-4.8 3.5-1.7 3.4-.9 3.4 7.8 3.5 4.6 3.5 3.1 3.4-3.1 3.4-4.6 6.8-22.9 2.4-103.5-.2-11.5 1.1-5.8 1.8-2.7 1.9-2.4 3.5-17.9 1.8-5.2 1.7-6.3 2.7-4.3 4.1-1.4 10.4zM1142.7 447.6l184 0 3.6-5.9 5.2-3.5 2.4-3.4 2.6-6.9 1.4-34.5-3-20.7-4.1-17.3-10.1-27.6-4.9-10.3-4.7-6.9-5.7-6.2-7.9-7.6-5.3-6.9-2.5-6.9-3.7-20.7-2.4-6.9-2-3.5-4.9-6.3-13.9-14.4-9.1-11-5.7-5.5-11.5-8.2-23-14.2-5.8-2.3-5.7-.9-11.5-.6-34.5-4.5-5.8-1.7-5.7-2.4-17.3-10.1-5.7-2.5-5.7-1.5-5.8-.7-11.5 .2-28.7 2-11.5 2-5.8 2.6-5.7 6.2-4.6 11.7-3 13.8-2.2 17.3-1.5 24.1 .3 10.4 9.3 41.4 10.6 37.9 10.4 27.6 2.1 10.4 1.8 13.8 1.6 6.9 15.4 11.2 7.3 6 .3 7-.9 6.8-.9 3.5 11.5 3.9 17.2 3 3 3.4 6.6 3.5 1.9 2.9 1 .6zM1204.8 369.2l-10.3-3.6-5.8-3.3-5.7-5.8-2.4-4.5-3.4-9-5.7-21.7-1.7-28 1.1-10.3 2.1-6.9 15.7-32 5.8-7.5 5.7-3.2 5.8 .3 5.7 2 19.9 9.3 4.9 3.5 2.8 3.4 1.6 3.5 .8 6.9-1.6 31 1.4 17.3 3.3 24.2 1 13.7-.8 6.9-1.3 3.5-3.2 4.8-5.8 4.4-5.7 2.2-5.8 .8-5.7 0-11.5-1.5z"/>
<path fill="#0014ff" d="M96.5 600.4l726.5 0-1.8-6.9-1.7-3.5-3.9-3.4 3.9-3.4 1.3-.4 5.8 3.7 .7 3.5 5 3.1 1.7 .4 0 6.9 636.4 0 0-43.5-14.2 5.5-10.1 7-8.3 3.4-12.8 6.9-17.8 2.4-4 1.1-7.5 3.4-23 0-5.8-6.9-2.8-20.7-2.9-2.1-4.6-4.8-5-3.5-3.6-3.4-4.1-2.5-5.7-2-11.5-1-57.5-.5-5-.9-5.1-6.9-3.3-10.4-8.4-6.8-6.9-4.8-5.8-2.1-5.7 3.7-5.8 4.9-10 5.1-7.2 2.3-5.8 .4-17.2-2.7-57.5-3.4-34.5 3.4-23 1.2-11.5 1.3-5.7 1.2-5.8 2.1-2 1.1-3.7 3.5-86.3 0-80.4 1.3-5.8 .7-3.9 1.4-1.8 1.4-1.4 2.1-4.2 3.5-2.2 3.4-1.4 3.4-1.6 10.4-3.3 3.4-3.2 8.3-11.5 5.9-23 2.6-11.6-6.4-5.6-2-6.3-1.4-5.2-2.5-7.5-7.9 0-10.4-4-7.2-2.8-3.1 8.9-3.5 4.6-3.4-3.4-6.9-9.2-13.8-7.6-13.8-7.7-6.8-17.3 6.2-5.7-.1-11.5-1.5-17.3-6.1-11-2-12-1.5-28.7-2.4-17.3-.7-28.7-.1-17.2 1.6-11.5 .1-11.5-2.7-2.7-1.3-4.7-10.3-4.9-6.9-5-10.7-3.7-10-7.8-9.1-6.2-4.7-5.4-10.3-6.1-7-5.3-7.9-9-9.3-16.2-24.2-3.5-4.2-5.8-5.3-5.7-3.2-5.8-1.2-5.7 .9-4.9 2.7-6.4 6.9-5.2 10.4-5.4 17.2-4.1 6.9-2.7 5.9-1.4 4.4-3.9 7-9.1 10.3-8.6 4.1-4.1-4.1-1.7-5.4-2.5-4.9-5.5-7-2.4-6.8-4.1-7-3.4-3.4-3-6.9-5.5-10.3-8.1-9.7-11.5-9.5-11.5-6.9-5.7-2.4-11.5-3.3-11.5-1.1-11.5 .9-11.5 3.2-5.8 3-5.7 4-18.6 14.8-10.7 10.4-10.2 13.8-2.8 6.9-1.8 10.3-1.9 1.5-40.2 11-5.8 3.1-1.9 1.7-9.6 2.2-34.5 1.4-17.2 2.4-5.8 3.2-6.8 8.1-3.7 6.8-3.3 10.4-.8 17.2 1.3 3.5 4 6.9 3.6 3.6 5.2 3.3 4.1 6.9 5.3 6.9 2.6 6.9 2.3 3.4 3.5 2.5 51.7 1 40.3 1.5 26.4 1.9 19.5 2.9 5.8 3 5.8 4.5-3.9 10.3 3.9 3.5 3.9 6.9-4 3.5-5.7 6.9-5.8 1.2-17.2 1.6-5.7 .6-23 .1-80.5-.7-7.1 .6-4.4 1-5.6 2.4-3.4 3.5-19.8 2.1-4.3 1.4-7.2 3.4-3.8 3.4-1.7 10.4zM1142.7 441.7l184 0 6.6-3.5 3-3.4 2.9-6.9 1-17.3-.1-17.2-2.7-17.2-3.8-17.3-11.1-31.1-5-10.3-8.1-10.1-11.5-10.6-3.1-3.5-2-3.4-2.4-6.9-4-20.7-3-6.9-2.1-3.5-6.3-6.9-13-10.3-3.4-3.5-7.4-10.3-5-4.6-5.7-3.9-5.8-2.9-5.7-2-5.8-.8-5.7 1.4-3.4 2.4-2.4 3.5-.9 3.4 .7 3.5 2 3.4 3.6 3.5 4.9 3.4 20.6 10.4 3.6 4.5 1.6 5.8 .3 6.9-2.2 31.1 1.3 13.8 4.3 24.1 .2 17.3-1.1 10.3-1 3.5-3.4 6.6-5.7 6.8-5.8 3.6-5.7 1.9-5.8 .8-5.7 0-11.5-1.5-5.8-1.6-11.5-5.8-5.7-4-5.8-6-2.4-4.3-2.7-6.9-6.5-24.1-3.2-34.5 .5-20.7 1.8-10.4 3.6-6.9 8.9-13.2 5.8-10.9 2-6.9-.3-3.5-1.7-3.4-2.8-3.5-3-2.5-5.7-3.2-23-7.3-17.3-7.3-11.4-3.7-5.8-1-11.5-.6-23 .1-11.5 1.1-5.7 1.9-5.8 4.6-2.5 4.1-3.2 7.1-2.7 10.2-1.7 10.3-1.6 17.3-.3 10.3 1.3 10.4 8.4 37.9 10.4 34.5 8.9 20.7 2.2 6.9 4.3 27.6 1 3.5 13.6 10.4 7.9 6.8 2.9 10.4 2.9 4.6 2.8 2.3 14.4 3.4 2.2 3.5 3.9 3.4 5.4 2.6 5.7 .9z"/>
<path fill="#001cff" d="M96.5 600.4l723 0-2.1-6.9-3.1-3.5-6-3.4-1.6-3.4-7-7-7.6-3.6-5.8-2-6.8-1.2-9.4-10.4 0-10.4-1-1.7-5.1-5.1-2.7-3.5 7.8-2.2 5.8-2.7 2.7-2-2.7-5.2-9.3-12-9.8-17.3-3.9-3.4-9.4 3.4-7.9 3.9-17.2-3.4-11.5-5.4-5.8-2-11.5-2.5-11.5-1.6-28.7-2.8-17.3-.7-28.7-.2-17.2 1.7-11.5 .2-11.5-2.4-4.4-2.1-5.1-10.3-5.3-6.9-2.5-5.3-4.2-11.9-1.5-3.5-2.4-3.5-6.9-6.8-4.9-3.5-6.2-10.3-6.7-7-7.4-9.2-8.9-8-8.4-13.5-8.5-10.7-3-3-5.7-3.9-5.8-1.4-5.7 1.2-5.8 4.4-2.2 2.7-5.8 10.4-5.1 13.8-6 10.4-4.9 10.3-4.7 7.5-5.7 6.3-5.8 3.5-5.7 2-5.4-5.5-2.9-6.9-7.4-10.4-2.8-6.8-1.9-3.5-6.5-6.9-5.7-10.4-4.6-6.8-6.6-7-8-6.3-5.7-3.6-11.5-5.5-11.5-3.4-11.5-1.1-11.5 1.2-11.5 3.7-11.5 6.7-11.6 8.3-8.1 7-6.4 6.8-5.1 6.9-6.4 10.4-3.4 10.3-5 3.8-34.4 10-8 3.5-15.1 3.3-34.5 1.4-5.7 .5-11.5 2.3-4.5 2.8-7 7.6-3.6 6.2-3.5 10.4-1 17.2 2.3 5.2 3.5 5.2 2.3 2.4 7 4.5 4.3 6.9 5.4 6.9 3.4 6.9 2.9 3.4 149.4 .1 2.2 3.4 0 6.9 9.6 6.9-.1 20.7-5.9 4.6-5.7 5.8-11.6 2.4-10.6 1-18.1 1.2-97.7-1-5.8 .5-8.4 2.7-4.3 3.5-16 1.4-5.8 1-3.3 1.1-8.2 3.8-3.3 3-2 10.4zM843.8 600.4l626.6 0 0-41.4-5.7 1.5-5.8 2.2-9.6 6.7-8.1 3.4-12.2 6.9-21.8 3.2-11.5 4.6-11.5 .9-8.6 1.6-2.9 3.5-.4-3.5-1.5-3.4-3.9-4.6-1-2.3-2.1-13.8-.9-3.5-1.7-3.4-5.8-6.3-5.7-3.8-3.5-3.7-6.6-3.4-7.2-1.3-11.5-.6-51.7-.3-7.5-1.3-5.1-6.9-4.2-10.4-3.7-3.4-8.2-6-5.8-2.3-7.1 4.9-4.4 4.3-5 2.5-10.8 3.5-7.2 .8-17.2-1.7-57.5-2.6-46 4.7-12.5 2.2-10.5 3.5-17.2 1.4-86.3 .2-80.4 1.1-3.8 .7-2 .6-5.7 3.7-3.5 2.7-2.3 2.7-2.1 4.1-2.1 10.4-4.8 6.9-1 3.5-1.5 2.5-2 .9-12.8 10.4-.5 3.4 2.4 3.4 9.4 3.5 0 6.9zM1137 439.4l5.7 1 184 .2 4.4-2.4 3.6-3.4 3.3-6.9 1.2-17.3-.6-13.8-3.9-24.1-2.5-10.4-3.2-10.3-8.6-24.2-3.2-6.8-2-3.5-5.8-7.1-15.6-13.6-2.7-3.5-3.1-6.9-4.7-20.7-2.4-6.9-5.9-7.7-5.8-4.2-5.7-2-5.8 2-2.2 5-.8 3.5-2.7 15.7-1.5 11.9 0 10.3 1.7 10.4 4.2 17.3 .9 6.8-1.7 24.2-1.5 6.9-2.1 5.3-5.8 9.5-5.7 6.5-5.8 3.3-5.7 1.7-5.8 .6-11.5-.3-5.7-.9-5.8-1.6-5.7-3.1-11.5-7.4-5.8-4.8-4.7-5.4-2.2-3.4-2.9-6.9-2.1-6.9-5.1-20.7-6.1-44.9-5.9-24.1 .2-6.9 1-3.5 3.2-6.8 7.2-10.4 1.2-3.5-.8-3.4-3.6-3.5-6.7-3.4-24-10.4-6.1-2.2-11.5-2.6-17.3-.9-17.2 .7-6 1.6-5.5 3.3-3 3.6-3.8 6.9-2.8 10.3-2.7 20.7-.3 6.9 .5 6.9 5.5 31.1 2.7 10.3 9.6 31.1 11.9 27.6 1.5 6.9 2.3 17.2 1.5 6.9 1.1 3.5 13 10.4 7.4 6.8 3.3 7 2.6 3.4 4.3 3.4 8.6 3.5 1.7 3.5 2.7 3.4 4.7 3.4zM1234.7 226.1l5.8-1.2 .2-.6-2.4-3.4-3.6-2-5.7 1.1-.5 .9 .5 1.1 2 2.3z"/>
<path fill="#0028ff" d="M96.5 600.4l720.4 0-3.2-6.9-8.8-6.9-4.2-6.9-2.9-2.3-8.7-4.6-12.9-3.4-7.1-7.9-4.8-2.5 0-10.4-3.3-3.4-4.7-6.9 12.8-3.6 6.3-3.3-5.1-6.9-4-3.5-2.6-3.4-11.8-20.6-5.8 3.6-11.5 5-17.2-5.2-11.5-6.7-5.8-2.3-11.5-2.8-11.5-1.9-23-2.6-17.2-1.1-34.5-.4-17.2 1.7-11.5 .3-11.5-2.1-6-2.9-5.5-10.3-5.8-6.9-7.2-20.7-2.5-3.5-7.3-6.8-5.2-3.5-4.1-6.9-2.8-3.4-7.4-7-5.9-6.8-11.4-10.4-6.7-10.4-8.5-10.1-5.7-4.2-5.8-1.3-5.7 1.4-5.8 4.5-5.7 9.8-4.5 10.3-8.2 13.8-5.3 10.4-5 7.2-2.9 3.1-4.8 3.5-9.5 3.4-6.7-6.9-3.5-6.9-7.1-9.8-3.1-7.4-2.4-3.5-7.3-6.9-9.1-13.8-6.8-7-11.5-8.1-11.5-5.3-11.5-3.3-11.5-1.1-11.5 1.3-11.5 3.7-11.5 6.3-9.4 6.6-11.2 10.3-5.5 6.9-7.1 10.4-4.8 10.3-8 6-11.5 3.2-23.9 8.1-16.9 3.5-5.2 .9-34.5 1.4-8.3 1.1-8.9 2.2-5.8 4.7-5.7 6.2-2.4 4.1-3.7 10.4-.9 13.8-.2 3.4 3.5 7 3.7 4.5 8.7 5.8 4.4 6.9 5.7 6.9 4.2 6.9 46 0 51.7-1.4 36.7-2 26.5-3 11.5 6 11.5 1.8 2.3 2-2.3 3.5-11.5 1.9-5.7 2-4.3 3 10.5 6.9-3 3.5-1.7 3.4-1.2 3.4-1.2 10.4-4.9 5.4-5.5 5-17.5 3.6-22.9 2.1-103.5-1.2-5.8 .6-5.7 1.9-5.1 3.3-17.9 1.6-5.8 1.1-11.5 5.1-2.8 2.5-2.3 10.4zM849.6 600.4l620.8 0 0-40.4-5.7 1.7-5.8 2.6-6.9 5.1-10.3 4.8-9.4 5.5-22.8 3.5-2.3 .6-5.8 2.9-5.7 1.8-11.5 1.7-11.5 4.9-1.5-1.6-.7-3.5-1.7-3.4-1.9-2.3-2-4.6-2.5-13.8-2.7-6.9-4.3-4.7-5.7-4.1-5.3-5-6.2-3.2-5.8-1-11.5-.6-51.7-.3-10.1-1.8-5-6.9-4.4-10.4-9.2-7.5-5.8-2.3-5.7 4-5.8 5.8-11.5 4.1-5.7 1.3-5.8 .4-74.7-2.3-34.5 3.4-23 4.2-28.7 2.2-86.3 .3-80.4 .9-5.8 1.9-5.7 3.3-4.6 4.5-2 3.4-1.2 3.5-1.4 6.9-4.7 6.9-3.2 6.9-4.5 3.4-1.4 2.1-5.5 4.9-2.1 3.4 3.8 3.4 9.5 3.4 .1 7zM1142.7 439.2l184 .2 2.2-1.2 4.2-3.4 2.3-3.4 1.6-3.5 1.1-17.3-1.7-17.2-3.1-17.2-3.4-13.9-13.1-37.9-1.8-3.4-5.6-7.5-5.7-5.3-10.7-8-3.5-3.4-3.9-6.9-4.9-18.7-3.7-8.9-2-3.7-5.8-4.2-5.7 .6-2.7 3.8-3.1 7.7-2 9.6-1.2 10.3 .2 6.9 2.1 10.4 4.9 17.3 .4 3.4-.1 6.9-2.7 20.7-1.6 7.5-5.7 12.8-5.8 8.7-5.7 7.3-5.8 2.7-5.7 1.4-5.8 .6-11.5-.2-11.5-2.2-23-16.2-5.6-5.2-2.9-3.4-4.2-6.9-2.6-6.9-6.3-24.2-7.1-39.7-3.7-12-8.5-20.7-1.5-6.9-1.5-13.8-1.7-6.9-1.9-3.5-3-3.4-4.5-3.5-6.4-3.4-7.5-2.6-11.5-1.6-17.3 .2-5.7 1-5.8 2.5-3.9 3.9-1.8 2.5-1.8 4.4-4 18.1-.9 13 .9 10.2 2.9 20.8 2.2 10.4 9.5 31 2.8 6.9 8.2 17.3 2.6 6.9 1.5 6.9 2.4 17.2 3.1 10.4 16.6 14.4 2.7 2.8 4.6 7 4.2 3.4 5.7 3.1 1.4 3.8 4.3 6.1 5.8 4 1.2 .2z"/>
<path fill="#0030ff" d="M96.5 600.4l717.8 0-4.2-6.9-3.1-3.5-4.6-3.4-4.6-6.9-12-6.9-12.9-3.4-3.8-4.2-6.5-2.8-5.3-3.4 0-10.4-2.4-3.4-3.6-6.9 17.8-5 3.7-1.9-3.7-4.7-7.6-5.7-9.6-17.1-7.5 3.3-9.8 3.1-17.2-6.9-5.8-3.4-3.3-3.1-6.6-3.5-11.4-3.4-13.2-2.5-28.7-3.4-17.3-.9-28.7-.2-17.2 1.7-11.5 .4-11.5-1.8-5.8-2.2-1.8-1.5-3.9-7.4-7.2-9.8-7.2-20.7-2.7-3.5-5.9-5.5-7.2-4.8-4.3-6.6-3.2-3.7-8.3-7-5.8-6.2-5.7-4.9-6.1-6.1-5.4-7.4-5.8-6.6-5.7-4.2-5.8-1.2-5.7 1.5-5.8 4.5-7.2 13.4-6.7 10.4-9 16.4-2.9 4.2-2.9 3.5-5.7 4.6-5.8 2.3-5.7 1.4-8.1-8.3-1.7-3.5-7.5-10.9-5.7-10.8-5.5-5.9-4.7-3.4-7.1-9.8-7.5-7.4-9.7-7-11.5-5.3-11.5-3.2-11.5-.9-11.5 1.3-11.5 3.6-9 4.5-8.3 5.4-9.5 8.4-6.1 6.9-10 13.9-3.5 6.8-5.3 4.5-5.8 3.6-27.8 9.2-23.9 4.5-5.8 1-34.5 1.4-5.7 .7-11.5 3.1-3.8 3.1-7.7 8.3-2.8 5.5-2.4 6.9-1.1 17.2 1.6 3.5 4.7 6.7 5.7 3.4 4.7 3.7 4.6 6.9 5.9 6.9 2.1 3.5 46 0 58.9-3.5 56-1.1 7.9 1.1 5.1 3.5 10 2.7 4.6 4.1-4.6 6.9-10.7 3.5 10.9 6.9-5.4 3.5-3.5 3.4-2.3 3.4-2.4 10.4-9.4 10.4-11.7 2.8-11.5 2-22.9 2-23 .1-80.5-1.6-5.8 .7-5.7 2.3-3.1 2-19.9 1.8-5.8 1.2-11.5 5.2-2.3 2.1-2.6 10.4zM849.6 600.4l620.8 0 0-39.3-5.7 1.9-5.8 2.8-4.6 3.6-12.6 6.4-6.3 3.9-16.7 2.3-11.5 2.6-5.8 3-17.2 4.4-3.5 1.5-2.3 2.5-5.7 .7-2.9-3.2-5.9-13.8-1.8-10.3-3.8-10.4-3.2-3.4-5.4-4.2-6.6-6.2-4.9-2.6-11.5-1.6-57.5-.4-12.6-2.3-4.6-6.4-5-10.9-6.5-5.5-5.8-2.5-5.7 4.3-5.8 5.7-5.7 2.5-5.8 1.4-11.5 1.5-17.2 .4-57.5-.9-34.5 3.5-17.2 2.4-34.5 1.9-166.7 1.2-5.8 2.1-5 2.8-3.7 3.4-2.8 4.4-2.6 9.4-4.7 6.9-3.3 6.9-.9 1.3-2.8 2.1-2.9 4.3-3.1 2.7-2.6 3.4 5.1 3.4 6.3 2.5 .7 1 0 6.9zM1257.7 438.3l69-.1 5.7-4.4 3.5-5.9 1.2-17.3-1.2-10.3-3.3-17.3-5.9-23.9-10.6-31.3-3.6-6.8-3.1-4.3-5.7-5.4-16.1-11.1-2.9-3.4-1.8-3.5-7.9-22.9-5.8-5.5-5.7 4-2.6 7.2-1.7 6.9-.5 6.9 .3 3.4 1.6 6.9 5.6 17.3 .6 3.5 0 6.8-3.4 20.7-2.3 10.4-3.4 9.2-5.7 11.3-11.5 16.5-5.8 1.9-11.5 2-11.5 .5-5.7-.4-5.8-2.1-5.7-4-8.3-7.3-10.6-6.9-7.9-6.9-5.4-6.9-3.5-6.9-2.4-6.9-5.4-20.7-8.3-37.5-3.9-10.8-3.2-6.9-11.4-20.7-6.7-13.8-4.1-6.9-5.1-5.4-5.8-3.1-5.7-1.5-5.8-.5-5.7 .1-5.8 .9-5.7 2.7-2.7 3.3-3.1 4.8-3.9 12.5-1.2 6.9-.2 6.9 1.1 20.7 2.4 13.8 9.4 31 11.5 24.2 2.5 6.9 1.5 6.9 2.6 17.2 3.4 10.4 15.2 13.8 7.5 9 5.7 4.1 2.9 7.6 2.3 3.5 3.6 3.4 2.7 1.7 5.7 1.4 112.1 .3z"/>
<path fill="#003cff" d="M96.5 600.4l715.2 0-3.9-6.9-3.1-3.5-4.4-3.4-2.5-3.8-2.8-3.1-5-3.5-6.9-3.4-8.2-1.9-15.2-5-5.9-3.5-3.5-3.4 0-10.4-4-10.3 23.7-6.9-13.2-10.4-4.9-10.2-5.8 1.9-11.5 1.3-17.2-7.7-5.8-3.6-6.1-5.8-5.4-2.7-11.5-3.5-17.2-3.2-23-3-23-1-23-.2-17.2 1.8-11.5 .5-11.5-1.5-5.8-1.8-3.4-2.7-3.8-6.8-4.3-5.6-2.9-4.8-7.1-20.7-1.5-1.8-5.7-5.7-9.4-6.3-4.9-6.9-3-3.1-9.4-7.3-18-17.2-7.1-8.1-5.7-3.5-5.8-.8-5.7 1.4-5.8 3.8-4.2 7.2-7.3 10.4-11.4 20.3-2.9 3.8-3.6 3.5-5 3.4-11.5 2.8-9.4-9.7-7.9-12.2-6.8-11.9-4.7-5.1-7.7-5.3-3.8-5-5.7-5.9-5.8-4.8-5.7-4-11.5-5.4-11.5-3.1-11.5-1-5.8 .4-11.5 2.3-11.5 4.9-7.1 4.4-8.7 6.8-6.6 6.9-8.7 10.4-6.5 10.3-8.3 6.9-5.8 3.3-20.5 7.1-8.2 1.8-28.8 4.8-34.5 1.5-5.7 .7-11.5 3.4-11.5 11.9-1.8 3.5-2.5 6.9-1.2 17.2 1.7 3.5 3.8 5.4 5.7 3.4 6.3 5 5.2 7.5 5.8 6.3 46 0 114.9-2.3 5.8 .5 5.7 1.4 5.8 2.7 5.7 1.8 6.9 6.2-4 6.9-2.9 3.5 4.4 6.9-4.4 5.6-5.2 4.7-3.5 10.4-9.3 10.4-10.7 3.1-11.5 2.1-28.7 2.8-23 0-80.5-1.8-5 .6-7.7 3.5-21.8 2-6.2 1.5-11.1 5.2-1.8 1.6-2.9 10.4zM849.6 600.4l620.8 0 0-38.3-9.1 3.8-5 3.5-18.3 10.3-25.1 4-5.7 1.7-5.8 3-16.7 5.1-3.6 3.4-2.7 3.5-5.7-2.1-1.8-1.4-2.5-3.4-5.5-13.8-1.9-10.3-4.1-10.4-15-13.8-3.7-1.9-11.5-1.9-57.5-.4-15.1-2.7-2.1-3-7.4-14.3-4.1-3.5-5.8-2.8-3.8 2.9-7.7 7.3-5.7 2.7-11.5 1.9-23 1.9-57.5 0-46 4.4-34.5 1.3-172.4 1.2-5.8 1.9-2.8 1.6-4.3 3.4-2.6 3.4-1.8 3.7-1.9 6.7-4.5 6.9-3.4 6.9-1.7 2.5-4.2 4.4-1.5 2.9-3.7 4 5.6 3.4 3.8 1.6 1.3 1.9 0 6.9zM1137 435.1l5.7 1.6 97.8 0 28.7 .8 57.5-.4 3.2-2.3 2.5-2.8 2.5-4.1 1.1-17.3-1-6.8-8.3-36.4-11.5-36.1-5.2-10.3-6.3-6.6-5.7-3.7-14.3-7-5.3-6.9-3.4-11.7-5.8-6.4-3.4 4.3-1.5 3.4-.5 3.5 1.6 6.9 5.4 13.8 1.1 6.9-.3 6.9-7.4 34.5-6.5 16.6-5.7 10.6-11.5 16.2-11.5 3.1-11.5 1.6-11.5 .9-5.8-3.5-17.2-14.8-11.5-6.3-4.9-3.7-3.5-3.4-5.4-7-3.6-6.9-2.6-6.9-9.4-37.9-5.1-17.5-5.8-13.6-5.7-9.7-5.7-7.6-5.8-5.9-5.7-4.3-5.8-2.8-5.7-1.5-5.8-.6-5.7 .4-5.8 1.8-5.7 5.9-2.2 7.1-1.7 10.3-.1 6.9 .9 6.9 8.8 32.3 9.7 19.5 4.5 10.3 2.7 10.4 2.9 17.2 2 6.9 1.3 3.5 11.4 10.4 3.2 3.4 2.6 3.9 5.7 5.5 2.3 4.4 2 6.9 2.7 3.5 4.1 3.4z"/>
<path fill="#0044ff" d="M96.5 600.4l712.7 0-3.2-6.9-3.3-3.5-4.4-3.4-2.6-3.4-3.6-3.5-4.3-3.5-7.2-3.4-11.5-2.3-15.3-1.1-5.8-3.5-2.9-3.5-1.8-3.4 0-10.4-2-10.3 4.8-2 18.6-4.9-7.1-5.1-5.7-5.3-5.8-1.9-11.5-1.4-17.2-8.4-5.8-4-9-8.4-2.5-1.2-5.7-2.3-13.1-3.4-32.9-5-17.3-1-28.7-.3-17.2 1.8-11.5 .5-11.5-1.1-6.7-1.8-4-3.5-10.9-17.2-7.2-20.7-3-3.5-3.9-3.4-10.3-6.9-5.8-7.3-5.7-5-7.3-5-10-10.2-8.8-7-2.7-2.9-5.7-2.2-5.8-.6-5.7 1.2-5.8 2.8-11.5 15.9-11.4 20.3-3.4 3.5-2.4 2.2-5.7 3.5-11.5 1.8-10.8-11-15.1-24.1-2.9-3.2-10.9-7.2-6.3-6.4-5.8-4.7-5.7-4.1-11.5-5.8-11.5-3.2-11.5-.9-11.5 1.2-5.8 1.5-5.7 2.1-11.5 6.4-8.7 7-9.9 10.3-5.7 7-4.6 6.8-3.3 3.5-4.3 3.5-9.5 5.2-17.2 6.1-11.5 2.5-28.8 4.2-34.5 1.5-7.1 1.1-10.1 3.5-5.8 6.9-5.7 5.5-2.2 4.8-1.3 3.5-1.2 17.2 4.7 7.7 5.7 3.2 5.8 4.4 11.5 13.3 23 1.1 23 0 114.9-2 5.8 .4 5.7 1 11.5 4.1 9.2 8.2-3.4 6.9-2.5 3.5 5.1 6.9-8 10.3-4.4 10.4-9.4 10.4-9.6 3.5-11.5 2.2-11.5 1.5-22.9 1.9-23 .1-80.5-2.2-5.8 .9-4.9 2.4-23.8 2.3-5.8 1.3-11.5 5.5-1.3 1.2-2.5 6.9-.7 3.5zM849.6 600.4l524.5 0-5.4-3.5-1.8-3.4-1.9-6.9-3.1-6.9-2-10.3-4.5-10.4-14.7-13.8-2.5-1.3-5.8-1.4-5.7-.6-57.5-.5-17.2-3-9.7-17.4-1.8-1.6-5.8-2.9-11.5 10.4-5.7 2.7-34.5 4.1-57.5 1.1-34.5 3.5-5.7 .1-212.7 1.4-6.4 2-4.8 3.4-3 3.4-1.9 3.5-2.3 6.9-4.5 6.9-3.5 6.9-2.4 3.6-3.1 3.3-1.6 3.5-2.8 3.4 7.5 4 1.9 2.9 0 6.9zM1384.2 600.4l86.2 0 0-37.3-6.7 2.8-23.3 13.8-22.3 3.5-10.9 3-5.8 3-12.6 4.3-4.4 3.4-3.1 3.5zM1142.7 435.4l97.8 0 28.7 1 28.8 0 28.7-.4 1.6-1.2 3.4-3.4 2.2-3.5 1.1-17.3-2.1-10.3-2.3-6.9-7.8-31.1-8.9-27.6-4.5-10.6-5.7-6.5-5.7-3.5-5.8-2-5.7-.7-5.8 1.8-.7 .8-2.8 7-5.9 20.6-4.3 17.3-3.5 10.6-5.8 13-4.2 7.4-10.1 13.8-2.9 5-7.2 1.9-27.3 1.9-6-1.9-2.8-3.4-7.1-6.9-7.1-5.8-11.5-4.6-6.3-3.4-4.6-3.5-3.5-3.4-5.1-6.9-3.5-6.9-2.5-6.9-9-34.7-4.6-13.6-6.9-14.9-5.7-8.7-5.8-6.1-5.7-4-5.8-2.3-5.7-1-5.8 .1-5.7 1.6-1.1 .8-4.7 4.7-1.7 5.6 0 7 1.3 6.8 4.6 20.8 1.6 5 10.2 19.1 4.4 10.3 8.4 37.2 .3 .8 8.5 6.9 3.1 3.5 3.4 6.8 3 3.5 1.9 3.5 2.7 10.3 5.8 5.7 3.5 1.2z"/>
<path fill="#0050ff" d="M96.5 600.4l711.1 0-3.5-6.9-3-3.5-4.9-3.4-5.7-6.9-4.7-3.5-5.2-2.5-11.5-2-31-2.3-.8-10.4 .2-10.4-1-10.3 3.9-2.3 3.2-1.2 14.8-3.4-6.5-5.2-17.3-4.7-11.5-7.1-5.7-2.5-5.8-3.9-11.9-11.1-8.8-3.5-13.7-3.4-28.8-4.5-17.3-1.1-28.7-.3-17.2 1.8-11.5 .6-11.5-.8-5.8-1-3.6-1.6-2.1-2.1-11.5-18.6-7.2-20.7-7.4-6.9-10.6-6.9-3.6-4.5-5.7-5.4-11-7.4-6-6.8-3.8-3.5-8-5.4-5.7-1-5.8-.2-5.7 .7-5.8 1.4-5.7 7-5.3 7.8-9.6 17.3-6.2 6.9-1.9 1.7-5.7 2.9-11.5 .9-12.1-12.4-12.8-20.7-3.9-4.7-14.9-9.1-13.2-10.4-6.4-3.8-11.5-4.7-11.5-2.1-5.7-.2-11.5 1.2-5.8 1.6-5.7 2.2-11.5 6.7-5.8 4.5-11.5 11.2-8.6 11-6.9 7-5.1 3.4-8.1 3.9-17.2 5.9-5.8 1.3-34.5 4.6-34.5 1.5-5.7 .9-7.9 2.6-3.6 2.6-5.8 6.6-5.7 5.3-2.6 6.2-1.3 17.2 3.9 6.4 5.7 3.1 5.9 4.3 11.4 12.3 23 2.2 137.9-1.8 11.9 1.1 5.4 1.2 5.7 2.3 5.8 5.9 5.7 4.4-2.9 6.9-2.1 3.5 5.8 6.9-7.8 10.3-4.5 11.1-8.7 9.7-14.3 5.2-5.7 1-17.3 2.3-22.9 1.8-23 0-46-1.8-34.5-.7-5.8 1.1-3 1.4-25.7 2.5-5.8 1.4-12.3 6.4-2.8 6.9-.7 3.5zM849.6 600.4l520.2 0-3.2-3.5-2.5-10.3-3.2-6.9-2.2-10.3-3.3-7.8-1.4-2.6-14.5-13.8-7.1-2.2-5.7-.7-57.5-.4-17.2-2.8-2-.8-7.3-13.8-2.2-3-5.8-3.2-11.5 10.5-5.7 3-34.5 4.2-57.5 2.3-34.5 10.3-2.4-3.4-3.3-2.1-5.8-1.4-17.2-.7-51.8-1.5-137.9 1.8-5.8 1.3-3.7 2.6-3.4 3.4-2.1 3.5-2.6 6.9-4.6 6.9-5.6 10.3-3 3.5-1.3 3.5-2.2 3.4 5.5 3.1 2.4 3.8 0 6.9zM1384.2 600.4l86.2 0 0-36.2-5.7 2.5-21.8 13-30 5.1-4.9 1.8-6.6 3.4-9.5 3.5-7.7 6.9zM1257.7 434.9l40.3 .4 28.7-.5 3.7-3.4 2.5-3.5 1-17.3-1.5-6.6-3.9-10.6-7.6-29.2-10.7-32.9-1.6-3.5-4.9-6.6-5.7-3.6-5.8-1.2-5.7 1.2-3.4 3.4-2.4 3.7-2.6 6.6-3.6 10.3-5.7 20.7-5.3 14.4-4.5 9.8-3.7 6.9-8.2 10.4-4.4 6.8-2.2 2.3-11.9 1.2-22.6 1.1-5.8-1.3-4.7-3.3-6.8-6.8-5.7-4.9-20.1-5.5-6.8-3.4-4.7-3.5-3.3-3.5-4.6-6.8-2.9-7-9.4-35.3-5.7-15.8-5.7-9.1-5.8-6.7-5.7-4.6-5.8-2.5-5.7 0-2 1.6-2.3 3.4-1 3.5-.7 6.9 .1 6.9 .6 3.5 2.8 6.8 6.3 10.4 5 10.3 5 17.3 3.6 17.2 4.8 10.4 4 3.4 2.5 4.1 2.4 9.7 3 7 1.8 10.3 3.3 3.5 1 .8 5.7 2 97.8 0 14.3 .6z"/>
<path fill="#005cff" d="M96.5 600.4l709.5 0-3.4-6.9-3.2-3.5-5.3-3.4-5.3-6.9-4.6-3.5-3.6-1.7-28.7-3-17.3-.4-2.9-1.7 1.3-10.4 .4-10.4-1.4-10.3 2.6-2.8 5.8-2.4 11.5-1.7-17.3-4.7-5.3-5.7-5.1-3.4-12.6-6.9-6.7-6.9-8-6.9-9.5-3.5-10.3-2.6-28.7-4.9-17.3-1.1-28.7-.4-28.7 2.6-17.3-1.1-5.7-2.3-13-21.2-7.2-20.7-2.8-3-5-3.9-10.8-6.9-7.2-7.5-11.5-7.9-11.5-11.3-5.8-2.9-11.5-.9-11.5 1.8-8.6 11.4-9.6 17.3-5.4 6.9-5.1 4.6-5.7 2.3-11.5 0-7.3-6.9-6.2-6.9-10.6-17.3-4.7-6.2-11.5-7.2-8-3.8-9.2-6.5-11.5-6.4-11.5-3.4-11.5-1.1-11.5 1.3-11.5 4-5.8 3.2-5.7 3.8-5.8 4.6-11.5 10.7-8.3 10.5-3.5 3.5-5.4 3.9-5.5 2.9-11.7 4.8-11.5 3.6-11.5 1.8-28.8 3.2-34.5 1.5-5.7 1-4.3 1.4-7.2 5.2-5.8 6.3-5.7 5.1-1.7 4.1-1.4 17.2 3.1 5.1 5.7 3.1 7.9 5.6 9.4 9.8 11.5 2.2 11.5 1.2 23 0 114.9-1.6 11.5 .7 11.5 2.2 1.8 2.8 3.3 3.5 8.7 6.8-4 10.4 6.4 6.9-7.8 10.3-4.5 10.4-3.9 5.8-4 4.6-19 6.9-17.2 2.3-28.7 2.5-103.5-3-6.8 1.6-27.7 2.7-5.8 1.5-11.5 5.9-3.3 7.1-.8 3.5zM849.6 600.4l67.5 0 0-6.9 5.1-3.5 2.1-2.1 5.8 3.2 6.6 2.4 2.8 3.4 4.2 3.5 421.8 0-1.1-3.5-1.3-10.3-3.2-6.9-2.3-10.3-2.9-7-2.1-3.4-2.9-2.5-3.5-4.4-7.9-6.9-5.9-1.7-5.7-.8-57.5-.3-17.2-2.6-3.8-1.5-7.7-14.2-5.8-4.1-11.5 10.8-5.7 3.3-34.5 4.2-28.8 2.5-17.2 3.4-5.8 1.8-5.7 2.6-34.5 3.5-5.7-4.3-5.8-2.8-17.2-1.6-46-2.7-143.7 2-5.8 1.1-5.7 4.8-2.5 3.5-2.8 6.9-4.7 6.9-5.4 10.3-2.8 3.5-2.7 6.9 3.6 2 3 4.9 0 6.9zM1389.9 600.4l80.5 0 0-35.2-11.5 5.9-13.5 8.6-26.7 4.4-9.2 2.5-6.3 3.4-8.6 3.5-7.6 6.9zM1142.7 432.9l97.8 0 28.7 1.4 57.5-.7 5.1-5.7 1-13.8-.4-5.4-2.5-4.9-2.5-7-6.5-24.2-11.5-36.2-2.3-5.1-3.4-5.8-5.7-4-5.8-.5-5.7 3.2-2.5 3.6-3.3 6.3-2.9 7.5-9.9 31.1-8.9 20.7-8.4 10.4-4.8 6.8-5.3 5.5-34.5 1.8-5.8-1.1-5.7-3.2-11.5-10.4-40.3-7.9-5.7 1.1-.5 .4-2.2 3.5-1.1 3.5-1.1 6.8 1.3 7 .7 10.3 2.9 2.9 1.4 .6z"/>
<path fill="#0064ff" d="M96.5 600.4l707.9 0-3-6.9-3.6-3.5-5.7-3.4-1.9-3.4-3-3.5-6.6-4.4-28.7-2.6-17.3 1.1-5.7-.3-1.4-.7-.5-3.4 2.7-10.4 .8-10.4-2.9-10.3 2.3-3.5 4.1-3.4-5.1-4.3-3.5-6.1-13.8-8.3-9.3-8.9-8.3-6.9-16.9-5.3-23-4.4-11.5-1.3-17.2-.9-23-.2-28.7 2.7-17.3-.3-5.7-.9-14.4-23.9-7.2-20.7-7.2-6.1-12.2-7.7-7.1-6.9-14.1-10.4-6.8-6.7-5.8-2.3-11.5-.7-11.5 1.6-8.5 11.6-9.5 17.3-6 6.8-4.7 4-5.7 1.5-11.5-.1-8.8-8.8-6-6.9-10.6-17.3-3.4-4.5-11.5-7-13.8-5.7-14.9-8.9-5.8-2.1-5.7-1.4-11.5-1.1-5.8 .2-5.7 1-11.5 4.4-5.8 3.4-5.7 3.8-11.5 10.5-5.8 4.3-5.7 7.5-6.3 6-5.5 3.4-16.9 7.4-11.5 2.9-11.5 1.5-28.8 2.7-34.5 1.5-6.4 1.3-5.1 4.4-5.7 3.4-5.8 6-5.7 4.8-.9 2.1-1.5 17.2 2.4 3.9 5.7 2.9 5.8 3.9 4.2 3.1 7.3 7.4 5.7 1.6 11.5 2.1 5.8 .7 23 0 114.9-1.4 11.5 .3 11.5 1.1 3.6 5.5 2.2 2.3 10.3 8-3 10.4 7 6.9-7.8 10.3-5 10.4-6.9 10.4-23.4 8.6-28.7 3.6-17.2 .8-40.3-2.1-63.2-1.4-3.8 .8-30.7 2.9-5.8 1.6-11.3 5.8-3.2 6.9-.9 3.5zM723.1 583.2l-2.5-3.5 2.5-5.7 3.4 2.2 .2 3.5-3.6 3.5zM849.6 600.4l61.9 0 0-6.9 5.4-3.5 3.3-3.4 4.1-.8 6.8 .8 7.3 3.4 12.3 3.5 5.6 3.4 8.5 3.5 114.7 0 0-6.9 0 6.9 281.7 0 1.1-3.5 .3-3.4-.5-6.9-3.3-6.9-2.3-10.3-1.4-3.5-1.5-3.5-2.5-3.4-9.2-10.4-3.7-2.8-5.8-1.8-5.7-.8-57.5-.4-17.2-2.3-5.6-2.2-5.9-11.5-5.8-4.9-11.5 11.1-5.7 3.4-46 6-17.3 3.5-10 2.7-18.7 3.5-34.5 3.5-5.7-4.1-5.8-3.2-5.7-1.1-17-2-46.3-3.8-114.9 2.7-23 .1-5.8 .8-4.3 3.6-2.8 3.5-3.2 6.9-6.7 10.4-3.2 6.8-2.7 3.5-1.7 6.9 1.6 .9 2 2.5 1.6 3.5 0 6.9zM1389.9 600.4l80.5 0 0-34.2-12.6 6.6-10.1 6.9-29 4.9-7.6 2-6.1 3.4-8.1 3.5-4.2 3.4-2.8 3.5zM1142.7 431.7l97.8 0 28.7 1.5 28.8 0 28.7-.7 4.1-4.6 0-17.3-4.5-10.3-5.4-19.3-11.5-36-5.7-13.8-5.7-5-5.8 .1-5.7 5.2-5.8 11.3-10 29.9-8.5 20.7-15.8 20.7-5.9 5.1-34.5 1.2-5.8-.8-5.7-2.4-4.6-3.1-6.9-6.7-28.8-3-11.5-.3-5.7 5.2-.9 4.8-.5 6.9 0 6.9 1.4 1.4 4.9 2.1z"/>
<path fill="#0070ff" d="M96.5 600.4l613.6 0 0-6.9 1.5-1.1 3.7 1.1-1.3 6.9 89 0-2.9-6.9-3.7-3.5-5.3-3.4-2.1-3.4-3.2-3.5-5.2-3.6-28.7-2.2-11.5 1.2-5.8 1.4-8.9 6.7-2.6 3.4-3.4-3.4-1.6-3.5 2.2-6.9 3.7-6.9 2.3-6.9 1.3-10.4-2.5-6.8-1.9-3.5 3.5-6.9-2.3-3.5-2.8-6.9-10-6.4-11.8-10.8-8.6-6.9-14.1-4.5-17.2-3.6-11.5-1.9-17.3-1.4-28.7-.3-28.7 2.8-11.5 .1-11.5 .8-12.2-19.6-3.6-6.9-7.2-20.7-5.8-4.8-14.5-9-7.7-6.9-9.8-6.9-8.2-7.7-5.8-1.6-5.7-.5-5.8 0-11.5 1.3-8.4 12-8.8 16.4-7.2 7.7-4.3 2.8-5.7 1.3-11.5-.3-16.1-17.6-12.7-20-11.5-7-17.2-6.1-11.5-6.3-5.8-2.2-5.7-1.3-11.5-1.2-5.8 .1-5.7 1-5.8 2.2-11.5 6.2-16.7 13.9-6.3 4.3-5.7 7.6-5.7 4.8-17.3 8.7-11.5 3.1-11.5 1.7-34.5 2.6-35.2 1.7-9.8 6.9-6.7 3.4-5.8 5.8-5.7 4.6-1.6 17.2 1.6 2.6 13.6 7.8 9.4 8.3 11.5 3.5 11.5 2 160.9-1.4 5.8 8.8 5.7 5.1 6.9 4.7-2.1 10.4 7.4 6.9-7.5 10.3-5.6 10.4-7.1 10.4-3.5 1.9-23 8.4-23 4.1-22.9 0-11.5-1.3-34.5-2-57.5-.8-34.5 3.2-5.8 1.6-11 5.5-3.3 6.9-.9 3.5zM849.6 600.4l56.3 0 0-6.9 6.8-3.5 3.7-3.4 2.2-.8 5.7-.9 15.2 1.7 13.5 4.6 23 5 17.3 2.5 17.2 1.6 46 .1 1.4-6.9 4.4-6.9 17.2 0 2.1 3.4 3.7 3.5 0 6.9 275.1 0 .8-6.9 0-6.9-3.4-6.9-3.5-13.8-1.7-3.5-5.3-6.8-6.2-7-2.9-2.2-5.8-1.9-11.5-1.2-51.7-.1-17.2-2-7-2.9-4.5-8.9-5.8-5.4-11.5 11.3-5.7 3.2-11.5 1.2-28.8 4.8-15.2 4.1-20.5 3.5-16 3.5-34.5 3.4-11.5-7.4-5.7-1.3-17.3-2.9-46-5.1-63.2 1.4-51.7 1.9-23 .1-5.8 .5-6 5.9-3.5 6.9-6.8 10.4-3 6.8-2.5 3.5-1 6.9 2.6 3.4 1.4 3.5 0 6.9zM1395.7 600.4l74.7 0 0-33.1-11.5 5.8-9.5 6.6-30.7 5.4-6 1.5-5.9 3.4-7.8 3.5-7.4 6.9zM1257.7 431.5l11.5 .6 28.8 0 28.7-.7 3.1-3.5-.1-6.9-1-6.9-3.8-10.3-9.7-32.8-5.8-17.2-5.7-14.6-5.7-6.8-5.8 .4-5.7 6.5-5.8 12.1-8.5 24.8-6.9 17.2-1.9 3.4-8.7 10.4-4.7 6.9-2.8 3.5-4.5 3.4-2.2 1.2-34.5 .7-5.8-.5-5.7-1.6-5.8-2.9-5.7-5.8-17.3-1-11.5 0-11.5 1-3.3 5.5-1.3 3.4-1.1 6.9 5.7 2.5 97.8 0 14.3 1z"/>
<path fill="#0078ff" d="M96.5 600.4l610.7 0 0-6.9 4.4-3 2.5-.5 3.3-2.3 .7-1.1-1.6-3.4-.9-3.5 .5-3.5 1.6-6.8 2.2-3.5 3.1-6.9 1.7-10.4-3.4-6.8-2.5-3.5 1.5-6.9-2.5-10.4-6.2-4.4-14.4-12.8-8.8-6.9-11.3-3.7-23-5-23-2.3-28.7-.4-5.7 .4-11.5 1.6-28.8 2.1-5.7 2-15.7-25.8-9-24.1-9.3-6.9-11.6-6.9-6.2-5.4-11.7-8.4-5.5-5.1-11.5-1.3-5.8 0-11.5 1-5.7 8-6.3 11.2-2.6 3.5-2.6 6.4-3.6 3.9-4.7 3.5-3.2 1.6-5.7 1-11.5-.5-17.5-19.4-11.3-18.3-11.5-6.9-5.7-2-11.5-2.7-11.5-5.5-5.8-2.2-11.5-2.2-5.7-.4-5.8 .1-5.7 1.1-9.9 4.5-30.4 23.3-3.4 4.3-3.8 3.4-11.2 7-7.7 3.4-8.3 2.2-8.4 1.2-14.6 1.3-41.7 2.2-21.6 3.9-11 6.4-6.2 2.6-8.6 7.8-2.9 8.6-.8 8.6 .8 1.3 16.3 9.1 9 6.9 9.2 3.2 11.5 2.3 137.9-.9 11.5-.4 11.5-1.4 3.2 4.1 3.9 6.9 8.3 6.9 5.3 3.4-1.1 10.4 6.8 6.9-3.4 6.4-5.2 7.4-3.8 6.9-7.5 10.4-6.5 3.6-18.1 6.7-4.9 2.3-23 4.6-22.9-1.4-11.5-1.8-23-1.9-23-.8-46-.7-34.5 3.1-5.8 1.7-10.7 5.2-1.2 3.5-2.1 3.4-1 3.5zM723.1 600.4l78.8 0-3.1-6.9-3.8-3.5-4.9-3.4-5.5-6.9-4-2.8-11.5-.1-17.2-1.8-11.5 1.9-5.8 2.3-5.7 3.5-9.2 10.8-1.6 6.9zM849.6 600.4l50.7 0 0-6.9 6.8-2.6 6.2-4.3 5.3-2 5.7-.7 23.6 2.7 10.9 3.3 5.7 1.2 23.5 2.4 22.5 3.4 17.3-1.8 11.5-2.7 5.4-2.4 6.1-4.7 5.7-1.9 5.8-.2 17.2 0 5.8 3.4 5.7 6.9 0 6.9 268.7 0 .5-13.8-3.5-6.9-2-10.3-1.3-3.5-6.9-10.3-6.3-7-2-1.5-5.8-2.1-11.5-1.3-51.7 0-17.2-1.8-5.8-1.9-2.5-1.7-3.2-6.2-5.8-6.1-11.5 11.6-5.7 2.2-30.6 5.4-21.2 5.2-26.2 5.2-14 3.4-17.2 2.1-17.3 3.1-5.7-5.8-5.8-3.4-5.7-1.6-23-4.7-17.3-2-11.5-2.3-11.5-1.2-63.2 1.7-51.7 2.2-28.8 .3-5.7 5.8-3 5.8-7 10.4-2.7 6.8-2.3 3.5-.6 6.9 3.1 6.9 0 6.9zM1395.7 600.4l74.7 0 0-32.1-11.5 5.9-7.7 5.5-36.6 6.9-6 3.4-7.6 3.5-4.5 3.4-3.3 3.5zM1142.7 429.2l97.8 0 28.7 1.9 28.8 0 28.7-.9 2-2.3-.5-6.9-1.5-6.3-3.3-7.5-3.6-13.8-4.6-14.5-11.4-30.4-5.8-8.2-5.8 .2-5.7 6.7-5.8 12.9-8.4 22.9-5.8 13.8-3 4.9-8.3 8.9-3.7 7-5.3 4.8-5.7 2.6-34.5 .4-10.9-1-6.4-1.5-5.7-3.4-40.3 .1-2.8 8.3z"/>
<path fill="#0084ff" d="M96.5 600.4l607.7 0 0-6.9 9.5-6.9-.4-6.9 .7-10.3 5.7-10.4 2-10.4-4.1-6.8-3.1-3.5 .9-6.9-.4-10.4-29.2-24.1-10.9-3.5-20.8-4.6-11.5-1.6-17.2-1.1-23-.2-17.2 2-23 1.8-5.8 1.1-5.7 3.4-15.5-24.9-3.2-6.9-7.6-20.7-9.7-6.9-12.1-6.9-8.6-6.9-9.8-6.9-2.5-2.5-17.3-.6-11.5 .8-5.7 8.3-4.3 7.8-3 3.5-1.9 3.4-2.3 6.9-3.8 3.5-7.7 3.9-5.7 .7-11.5-.6-19-21.3-9.8-16.3-5.7-3.8-5.8-3.3-5.7-1.9-11.5-1.4-5.8-1.8-11.5-4.8-11.5-2.2-11.5-.7-6.9 1.7-10.3 6.6-28.8 22.2-2 2.2-9 7-6.2 3.4-5.7 2.4-5.8 1.6-11.5 1.3-34.5 1.6-46 8.4-11.5 5.3-5.7 1.8-5.8 5.2-5.7 17.2 20 10.4 10.5 6.9 15.5 4.1 137.9-.6 11.5-.9 5.8-.9 5.7-1.7 5.3 6.9 3.6 6.9 8.4 6.8 5.7 3.5-.2 10.4 6.3 6.9-3.3 6.9-8.5 13.8-7.9 10.4-9.4 5.3-13.4 5-9.6 4.6-11.4 2.3-5.8 .4-28.7-.4-11.5-2.2-17.3-1.8-28.7-1.5-46-.9-33.4 3-6.9 1.9-10.4 4.9-1.1 3.5-2.2 3.4-1.1 3.5zM723.1 600.4l77.6 0-3.2-6.9-8.4-6.9-5.6-6.9-2.9-2-11.5 .4-17.2-1.9-11.5 2.4-5.8 2.4-3.6 2.2-3.8 3.4-2.3 3.4-4.3 10.4zM849.6 600.4l45.7 0 .3-7.1 9.1-3.3 8.1-4.6 5.8-2 5.7-.4 32 3.6 8.2 2.2 5.8 .7 40.2 3.9 5.8-.5 15-2.9 8-3.4 0-6.9 40.2 0 6.9 3.5 4.6 3.4 2.9 3.4 2.9 3.5 0 6.9 262.1 0 .4-13.8-3.6-6.9-1.7-10.3-1.4-3.5-4.4-6.9-5.5-6.9-4.5-4.4-5.8-2.3-11.5-1.3-51.7 .1-17.2-1.6-5.8-1.7-3.9-2.6-1.8-3.6-5.8-6.6-10 10.2-7.2 2.8-40.3 8.7-17.2 4.5-22 4.7-12.5 3.4-20.7 3.5-13.8 3.4-6.1-3.4-2.7-3.5-1.6-3.4-6.8-2.5-17.9-4.4-22.4-3.8-11.5-2.8-11.5-1.4-63.2 1.9-51.7 2.6-28.8 0-3.8 3.5-1.9 2.6-2.2 4.3-5 6.9-2.1 3.5-2.2 6.2-2.4 4.1-.3 6.9 2.3 6.9 0 6.9zM1395.7 600.4l74.7 0 0-31-7.5 3.4-10 6.9-5.5 1.5-30.8 5.4-15.2 7.8-3.4 2.5-3.1 3.5zM1246.2 428.4l23 1.6 28.8 0 28.7-1 1-1.1-1-7.4-2.6-2.9-1.6-3.5-7.3-27.6-11.5-28.9-5.7-8.7-5.8-.3-5.7 6.8-17.3 42.4-3.4 6-2.3 2.8-4.8 4-2.9 7-2.1 3.4-3.7 3.4-3.8 1.9-5.7 1.6z"/>
<path fill="#008cff" d="M96.5 600.4l604.8 0 0-6.9 8.9-6.9 .9-6.9-.2-10.3 5.6-10.4 2.3-10.4-5-6.8-3.7-3.5 1.5-6.9 .7-10.4-20.1-17.2-9.1-6.9-11.2-3.5-23.5-5.1-17.3-1.6-28.7-.4-40.2 4.2-5.8 1.5-2.7 1.4-3 3.5-8.1-13.8-5-6.9-4-6.9-10.9-27.6-12.3-8.3-10.2-5.5-7-5.5-7.9-4.8-3.6-2.9-17.3-.4-11.5 .6-8 13-3.5 3.5-2.1 3.4-1.5 3.4-2.1 7.6-5.7 3.6-5.8 2-5.7 .4-11.5-.7-20.4-23.2-8.4-13.9-3.9-3.4-7.6-4.3-5.7-1.7-11.5-.3-3.1-.5-14.2-3.6-11.5-1.6-11.5-.8-5.7 2-5.8 3.3-5.7 2.5-28.8 22.3-5.7 5-5.7 3.5-11.5 4.5-17.3 2.6-34.5 3.4-11.5 1.6-34.5 6.1-11.5 3.9-5.7 1.3-2.9 2.6-5.7 17.2 8.6 4.6 6.4 2.4 10.8 5 6.9 5.3 10.4 2.8 137.9-.5 11.5-1.2 11.5-2.7 2.6 1.6 2.6 3.5 5.4 10.3 6.7 5.4 7.5 4.9 1.3 10.4 5.6 6.9-2.9 6.9-5.8 10-2.4 3.8-8.3 10.4-12.3 7.1-8.7 3.2-6.2 3.5-7.9 3.4-11.7 1-11.5 .3-22.9-.8-34.5-4.5-23-1.2-46-.9-31.8 2.7-8.5 2.2-5.7 2.2-4.4 2.4-1.1 3.5-2.3 3.4-1.1 3.5zM728.9 600.4l70.7 0-3.3-6.9-8.2-6.9-5.8-6.9-1.7-1.2-11.5 .8-17.2-1.9-11.5 2.8-6.8 3-4.3 3.4-2.6 3.4-2 3.5-1.6 6.9zM855.3 600.4l38.4 0 0-6.9 1.9-1.6 5.7-2.1 11.5-5.8 5.8-1.8 5.7-.2 11.5 1.1 28.7 3.5 46 4.5 7.4-1.1 9.9-2.6 2.2-.8 1.3-6.9 2.2-1.2 18.7-2.3 15.8-3.9 6.5-2.9-2.5-10.4-15.5-4.2-23-4.6-3.5-1.6-8-1.9-11.5-1.7-86.2 3.3-6.3 .3-5.2 1.4-5.7 .7-11.5 .5-28.8-1.5-5.3 5.9-1.8 3.4-7.3 10.4-2.2 6.8-1.9 3.5 0 6.9 1.4 6.9 0 6.9zM1102.5 600.4l255.7 0 .1-13.8-3.4-6.9-1.6-10.3-5.9-10.4-5.4-6.9-3.8-3.8-5.8-2.4-11.5-1.4-51.7 .1-17.2-1.3-5.8-1.5-5.2-3.5-6.3-8.1-7.8 8.1-3.7 2.2-5.7 1.9-17.3 4.7-23.9 5-16.3 4.9-9.6 2-24.9 6.9-17.2 3.5-10.2 3.4-5.9 3.4-4.1 3.5 5.2 3.5 3.5 3.4 2.8 6.9-.4 6.9zM1401.4 600.4l69 0 0-30.3-5.7 2.7-11.5 7.3-11.5 2.7-23 3.8-17.3 8.9-5.2 4.9zM1257.7 428.1l11.5 .9 28.8 0 28.7-1.1-5.2-3.5-.6-1-1.8-5.8-.8-7-3.4-17.2-11.2-25.7-5.7-9.5-5.8-1-5.7 7.5-5.6 11.5-11.2 27.6-2.2 3.4-3.3 3.4-4 10.4-2.5 4-2.9 2.9z"/>
<path fill="#0098ff" d="M96.5 600.4l601.9 0 0-6.9 9.1-6.9 1.6-6.9-.3-10.3 4.7-10.4 2.4-10.4-4.3-5.3-5.8-5 2.2-3.5 1.3-3.4 .9-10.4-20.5-17.2-9-6.9-20.8-5.8-11.5-2.4-17.3-1.6-28.7-.5-40.2 4.7-6.2 2.1-5.3 4.6-1.6-1.1-5.8-10.3-5.3-7-4.6-7.4-12.4-30.5-10.6-7-11.5-5.9-5.7-4.5-11.5-6.5-28.8 .1-6 10-6.3 6.9-3 6.9-1.9 8.3-4.8 2-6.7 1.7-5.7 .2-11.5-.9-4.6-4.4-5-6.9-12.3-13.8-6.9-11.4-6.8-5.9-4.7-2.6-5.7-1.6-11.5 1-17.3-1.3-23 1.2-17.2 4.1-21.1 16.5-7.6 6.9-5.2 3.4-7.8 3.5-4.3 3-5.7 2.8-5.8 1.4-57.5 4.2-51.7 9.3-5.8 17.2 5.8 3.1 17.2 5 5.8 2.8 3.6 2.9 2.7 3.5 5.2 1.4 137.9-.2 5.8-.5 17.2-3.8 5.8 4 3.6 6 3 6.9 14.2 10.3 2.2 9.1 5.5 8.2-4.2 10.3-6.2 10.4-8.7 10.4-11.5 6.8-7.7 3.5-12.9 6.9-6.1 1.1-11.5 .9-11.5 0-22.9-1-34.2-4.4-17.6-1.2-51.7-1.2-30.1 2.4-4.4 .5-5.8 2-5.7 2.1-4.1 2.2-1.1 3.5-2.3 3.4-1.2 3.5zM728.9 600.4l69.5 0-3.4-6.9-7.9-6.9-6.5-7.3-11.5 1.1-17.2-1.9-11.5 3.1-5.8 2.5-3.3 2.5-5 6.9-1.7 6.9zM855.3 600.4l36.8 0 0-6.9 3.5-3.1 15.7-7.2 7.3-2.2 23 1.6 22.9 2.7 23.5 1.3 22.5 2.2 10.2-2.2 5.4-3.4 1.9-3.5 5.5-2.9 17.3-3.5 8.6-3.9 3.3-10.4-29.2-6.7-8.2-3.7-14.8-2.7-69.2 2.7-11.2 4-11.5 6-5.8-2.4-5.7-1.2-40.3-4.3-4.4 4.9-9.3 13.8-2.1 6.8-1.6 3.5 .9 20.7zM1102.5 600.4l254.9 0-.1-13.8-3.2-6.9-1.5-10.3-5.9-10.4-5.3-6.9-3.8-3.5-5.2-2.2-11.5-1.5-51.7 .1-17.2-1-5.8-1.3-1.8-.9-5-3.5-4.7-6-5.7 6.1-5.8 3.4-5.7 1.9-17.3 5.4-23 4.8-17.2 5.9-34.5 9.6-11.5 2.1-11.5 4.3-5.7 3.9 2.4 3.5 3.3 10.3-1 6.9zM1401.4 600.4l69 0 0-29.5-5.7 2.8-9.1 6-2.4 1-5.8 1.5-25.9 4.4-20.1 10-4 3.8zM1275 427.9l23 0 11.4-4.3 2.6-2.6 1.5-3.4 1.3-7-3.3-17.2-7.8-16.1-5.7-9-5.8-1.4-5.7 5.6-5.8 11.8-6.9 19.5-3.9 6.8-.7 13.8z"/>
<path fill="#00a0ff" d="M96.5 600.4l599 0 0-6.9 9.2-6.9 1.5-3.4 1-3.5-.6-10.3 4.3-10.4 2.1-10.4-10.1-10.3 4-6.9 1.4-10.4-29.9-24.1-18.5-5.3-11.5-2.4-17.3-1.7-28.7-.5-34.5 3.9-5.7 1.2-5.8 2.4-5.7 4.6-3.2-2.2-5.6-10.3-2.7-3.9-3.2-3.1-2.6-4.1-4.5-9.7-7-18.5-2.8-5.6-8.7-5.7-10.2-4.6-7-5.1-5.8-3-5.7-2.3-28.8 0-4 6.9-7.5 7.6-1.4 2.7-1.4 3.5-1.1 6.9-1.8 5.5-11.5 1.9-17.2-1.1-5.8-5.4-5.4-7.8-12.2-13.8-6.6-10.3-4.5-4.2-4.1-2.8-1.7-.9-5.7-1.4-5.8 .8-5.7 1.4-11.5 .9-11.5 1.6-34.5 5.8-5.8 2.9-7.6 6.2-5.4 6.9-4.2 3.6-5.7 3.3-2.6 3.5-3.2 2.9-5.7 3.3-5.8 2.1-5.7 1.4-5.8 .7-57.5 2.2-28.7 4.6-5.8 3.4-5.7 2.4-11.5 2.8-2.9 8.6 2.9 1.6 17.2 2.5 8.8 2.9 4.6 3.4 2.4 3.4 1.5 3.5 137.9 0 11.5-3.2 11.5-1.5 7.7 4.7 3.8 6.9 2.7 6.9 14.1 10.3 2.3 6.9 6.1 10.4-3.5 10.3-4.4 7.5-1.8 2.9-8.9 10.4-29.1 17.2-12 2.2-11.5 .7-34.4-1.3-34.5-4.6-11.5-1-51.8-1.5-11.5 .2-28.7 2.7-11.5 4-3.8 2-1.2 3.5-2.2 3.4-1.3 3.5zM728.9 600.4l68.3 0-3.5-6.9-7.4-6.6-5.7-6.6-11.5 1.1-17.2-1.7-11.5 3.2-7 3.7-5.5 6.9-1.9 6.9zM855.3 600.4l35.2 0 0-6.9 3.5-3.5 13.4-6.8 11.2-3.5 23 1.8 22.9 2.5 17.3 1.1 28.7 1.4 5.8-1.1 4.8-2.2 3.6-3.5 8.8-4.7 11.5-2.7 7.2-2.9 1.1-10.4-19.8-4.5-12.8-5.9-10.2-1.7-45.8 1.7-5.9 1.4-11.5 3.4-11.5 4.5-17.2 11.1-7-6.6-5.3-3.4-5-1.4-34.5-5.8-3.4 3.8-9.6 13.8-3.4 10.3 .5 20.7zM1108.3 600.4l248.4 0-.3-13.8-3-6.9-1.6-10.3-5.9-10.4-5.2-6.9-4.2-3.5-4.1-1.7-11.5-1.6-51.7 .2-17.2-.8-5.8-1.1-3.6-1.8-5-3.5-2.9-3.7-3.5 3.7-8 4.8-17.2 5.9-27.5 6.6-9.9 3.4-8.6 4.2-22 6.2-18.2 3.3-9.6 3.5-6.3 3.5 0 6.9 1.5 6.9-1.5 6.9zM1401.4 600.4l69 0 0-28.7-8.6 4.5-4.8 3.5-3.8 1.5-5.8 1.5-23 3.9-17.2 7.9-5.8 3.2-2.9 2.7zM1286.5 422.2l11.5-2.6 5.7-3.2 3-2.3 2.9-3.5-1.2-10.3-1.5-6.9-8.9-15.3-5.8-3.5-5.7 5.4-4.8 9.9-1.5 3.5-2.2 10.4-2.3 6.8 1.2 3.5 2.2 3.5 4.5 3.4z"/>
<path fill="#00acff" d="M96.5 600.4l595.9 0 .1-6.9 9.5-6.9 3.2-6.9-.7-10.3 4.3-10.4 1.3-10.4-10-10.3 4.4-6.9 1.9-10.4-30.4-24.1-16.1-4.7-11.5-2.5-17.3-1.8-28.7-.5-34.5 4.1-5.7 1.4-5.8 2.8-5.7 4.5-4.7-3.3-5.4-10.3-7.2-7.9-4.7-9.4-6.8-18.2-3.4-5.9-1.4-3.5-6.7-4.5-11.5-4.7-6.5-4.6-5-2.3-5.7-1.2-28.8 0-2 3.5-9.8 10.3-1.6 3.5-1.3 10.3-2.5 6.3-11.5 0-17.2-1.5-5.6-4.8-2.9-3.4-4.2-6.9-12.3-13.8-3.8-6.5-3.4-3.8-2.3-2.2-5.8-3.7-5.7-1.5-11.5 3-5.8 1-23 6.8-34.5 6.9-3 6.9-2.7 4-9 9.8-4.7 6.9-3.6 6.9-86.2 0-1.8 3.4-2.6 3.5-4.3 3.5-2.8 1.4-5.6 2-5.9 1.3-17.2 2.1 11.5 .4 5.7 .5 5.8 1.4 40.2 2.7 92 3.7 5.7 3.2 5.8 .3 17.2-1.2 5.4 2.8 4.9 3.5 3.3 6.9 2.4 6.9 10 6.9 4.1 3.4 3 6.9 2.8 3.5 3.2 6.9-3.1 10.3-1.5 3.1-5.7 9.2-7.8 8.5-17.1 10.3-3.9 3.8-5.2 3.1-12 2.6-11.5 1-11.5 .1-28.7-1.6-46-5.7-51.8-1.6-11.5 .1-28.7 2.7-11.5 4-3.5 1.8-1.2 3.5-2.3 3.4-1.3 3.5zM728.9 600.4l67.2 0-3.6-6.9-6.2-5.5-5.7-6.6-11.5 1-17.2-1.6-11.5 3.4-5.8 3.2-5.1 6.1-2.1 6.9zM855.3 600.4l33.8 0 0-6.9 2.9-3.5 11.6-6.8 9.4-3.5-2-10.3-3.9-3.6-5-3.4-7.4-3.4-10.6-1.9-5.8-2-11.5-2.3-12.4 16.6-3 10.3 .1 20.7zM1108.3 600.4l247.6 0-.5-13.8-2.7-6.9-1.6-10.3-3.7-7-4.7-6.8-4.5-5.3-2.9-1.7-2.9-1.2-5.7-1.2-5.8-.4-51.7 .1-17.2-.5-5.8-.9-5.3-2.7-5.1-3.5-1.1-1.4-5.7 4.4-5.8 3.1-17.2 6.2-17.3 4-11.5 3.4-2.8 1-8.7 5.2-5.7 2.5-9.6 2.7-24.9 4.1-8.4 2.7-6.5 3.5-1.9 3.5-1.2 3.4 .8 6.9-2 6.9zM1401.4 600.4l69 0 0-27.9-7 3.7-5.1 3.5-5.1 2-5.8 1.5-20.1 3.4-20.1 8.8-5.8 3.4-1.7 1.6zM976 583.5l34.5 1.3 5.8-1.7 10.6-6.9 6.6-3 12.8-3.8-2.3-10.4-10.5-2.4-11.1-4.5-6.5-3.5-5.4-.8-22.5 .8-12 1.7-5.7 1.4-21.2 7.3-15.6 10.4-1.5 10.3 38.5 3.5zM1286.5 415.8l5.7-2 5.6-3.2 1.8-6.9 .4-6.9-.4-3.4-1.8-3.5-5.6-5.6-5.7 3.2-2.7 5.9-2 17.2 2.6 3.5z"/>
<path fill="#00b8ff" d="M96.5 600.4l592.8 0 .3-6.9 9.6-6.9 4.1-6.9-.9-10.3 4.2-10.4 .6-10.4-7.1-7.6-1.3-2.7 1.3-3.8 2-3.1 2.4-10.4-30.9-24.1-13.7-4.1-12.6-2.8-16.2-1.7-28.7-.5-34.5 4.3-5.7 1.6-5.8 3.2-5.7 4.5-6.1-4.5-5.4-10.4-7.2-6.9-4.3-8.9-5.8-15.8-4.2-6.3-2.5-6.9-4.8-3.2-11.5-4.2-11.5-6.4-34.5 0-2.6 3.5-3.1 2.2-5.8 6-.9 2.1-1.2 13.8-1 3.4-2.6 3.5-5.7-1.2-23-2.6-4.3-3.1-3.5-3.5-3.7-5-2.8-5.3-12.2-13.8-4.5-6.9-3.4-3.4-5.9-3.5-5.7-1.5-5.8 1.2-11.5 3.8-11.5 5.8-11.5 4.5-12.7 3.5-7.6 3.4-4.9 3.4-11.7 10.4-6.2 6.9-4.8 6.9 1.7 10.3 2.1 3.5 3.9 2 11.5 1.4 2.4 3.5 3.3 3 5.8 2.1 17.2 .9 5.8 2.7 5.7 4 1.3 1.1 1.6 3.5 3.3 10.3 10.5 6.9 3.7 3.4 2.6 5.4 4.6 5 1.2 2.8 .9 4.1-2.7 10.3-4 8.2-3.4 5.6-6.6 7-17.2 10.3-2.3 3.5-4.3 3.4-6.4 1.9-8.7 1.5-20.1 1.5-34.4-2.3-46-5.8-51.8-1.7-11.5 .1-28.7 2.6-11.5 3.9-3.1 1.7-5 10.4zM728.9 600.4l66 0-3.7-6.9-4.9-4.4-5.7-6.5-11.5 .8-17.2-1.4-11.5 3.5-5.8 3.8-3.5 4.2-2.2 6.9zM855.3 600.4l32.4 0 0-6.9 2.2-3.5 9.9-6.8 8.2-3.5-4-10.3-4.9-3.5-6.6-3.5-14.2-5.7-11.5-2.8-11.7 15.5-2.7 10.3-.3 20.7zM1114 600.4l241.2 0-.6-13.8-2.7-6.9-1.5-10.3-3.7-7-4.5-6.8-4-4.6-4-2.4-7.5-1.9-5.8-.5-68.9-.1-6.3-.9-7.1-3.4-3.9-2.8-10.3 6.2-18.4 6.9-25.9 6.9-14.4 8.6-3.9 1.8-36.3 6.2-5.7 2.1-3.9 2-4.8 6.9 0 6.9-2.3 6.9zM1401.4 600.4l69 0 0-27.1-10.7 6.4-6.5 2.5-23 4.4-23 9.8-6.4 4zM947.3 579.8l40.2 3.3 23 .1 5.8-2.3 5.7-4.1 5.8-3 12.7-4.4-3.2-7-2.4-3.4-10.2-3.4-14.2-6.8-23 2.3-11.5 2.5-5.7 2.1-21.2 13.7-3.1 10.3z"/>
<path fill="#00c0ff" d="M96.5 600.4l588.3 0 1.6-6.9 10.1-6.9 4.9-6.9-1.1-10.3 4.2-10.4 .1-10.4-4.5-4.9-2.5-5.4 5-17.3-31.3-24.1-17.2-5.1-10.2-1.8-18.5-1.6-23-.3-5.7 .5-31.6 4.8-7.2 3.5-7.2 5.6-5.8-4.1-1.3-1.5-4.4-8.5-9.2-8.8-3.2-6.8-4.9-14.2-3.1-3.1-2.2-3.5-3.3-10.3-2.9-1.9-5.7-2.3-5.8-1.3-11.5-4.8-34.5 0-5.7 4.3-5.8 6 0 20.7-5.7 1.7-28.7-3.6-5.8-4.1-4.2-4.4-2.4-3.4-3.4-6.9-12.3-13.8-6.4-8.5-5.8-2.9-5.7-1.4-5.8 1-11.5 4.7-10.2 7.1-7 2.6-5.8 4.3-11.5 5.1-2.8 1.8-2.9 3.5-4.3 3.4-7.2 3.4-9.6 10.4 3.8 4.8 5.8 3.8 1.6 1.8 2 3.4 1.2 3.4 3.8 3.5 2.9 1.6 5.7 1.5 11.5 1.3 5.8 2.5 5.7 3.5 3.9 3.4 2.4 6.9 1.7 6.9 10.9 6.9 3.2 3.4 4.6 6.9 4.2 3.5 .5 6.9-2.6 12.1-5.8 12.3-2.1 3.2-3.3 3.5-6.1 2.7-12.4 7.6-1.2 3.5-2.3 3.4-7.1 2.5-5.7 1.2-11.5 1.3-17.3 .9-34.4-2.8-46-5.8-51.8-1.9-11.5 0-28.7 2.6-11.5 3.9-2.8 1.5-5.1 10.4zM734.6 600.4l59.1 0-3.7-6.9-3.9-3.5-5.5-6.2-11.5 .6-17.2-1.2-10.8 3.4-5.1 3.4-3.3 3.5-2.4 6.9zM855.3 600.4l31 0 0-6.9 3.5-5.6 6.1-4.7 7.1-3.5-3.5-6.9-2.5-3.4-5.9-3.5-7-3.1-4.2-3.8-7.3-2.8-5.8-1.3-10.9 14.5-2.5 10.3-.7 20.7zM1114 600.4l240.4 0-.5-13.8-2.7-6.9-1.5-10.3-8.1-13.8-3.4-3.9-5.2-3.1-6.3-1.5-5.8-.5-51.7 .2-11.5-.4-5.7 .4-5.8-.5-3-1.1-8.5-4.5-7.4 4.5-17.2 6.9-24.2 6.9-17.3 10.4-2.9 1-5.7 1.5-34.5 5.7-4.8 2.1-6 6.9-.7 6.9-2.6 6.9zM1407.2 600.4l63.2 0 0-26.3-11.5 6.6-11.5 3.4-14.4 2.5-25.8 10.7-5 3.1zM964.5 580.1l23 1.9 23-.5 3.9-1.8 7.6-5.3 12.7-5-7-10.4-17.2-7.3-11.5-.1-5.7 .8-11.5 2.6-10.1 4-7.1 10.4-4.6 10.3z"/>
<path fill="#00ccff" d="M96.5 600.4l584.1 0 2.6-6.9 10.5-6.9 3.4-3.4 2.3-3.5-1.3-10.3 4.3-10.4-.2-10.4-2.1-2.3-3.8-8 1.2-6.9 3.2-10.4-31.7-24.1-14.9-4.5-11.5-2.1-17.2-1.5-23-.3-5.7 .4-29.3 4.5-8.1 3.5-3.7 3.5-4.9 3.2-5.8-4.1-2.3-2.6-3.4-6.6-11.2-10.7-3-6.8-3.1-10.4-4.5-3.5-2.3-3.4-2.5-6.9-1.2-6.9-1-.6-5.7-2.2-5.8-.9-11.5-3.2-34.5 0-5.7 2.9-3.8 4 1.5 13.8 2.3 6.9-11.5 3.4-23-2.4-5.7-1-5.5-3.5-3.8-3.4-5-6.9-3-6.9-12.4-13.8-4.8-6.5-5.8-2.4-5.7-1.3-5.8 .7-11.5 5.7-5.7 4.6-11.5 6.1-3.6 3.4-2.2 3.5 0 17.2 5.8 3.5 5.7 0-28.7 0-1.9 3.4 0 13.8 1.9 1.5 5.7 2.6 11.5 2.2 5.8 2.2 8.6 5.3 3.5 3.5 3.4 13.8 7.5 3.9 3.9 3 7.6 9.9 5.3 3.9-.9 6.9-4.4 17.7-5.8 13-5.7 3.1-5.8 2-9 5.6-.4 6.9-13.6 4.7-11.5 1.2-23 1-34.4-3.3-46-5.9-51.8-2.1-11.5 .1-23 1.7-5.7 .8-11.5 3.9-2.5 1.3-5.3 10.4zM734.6 600.4l57.9 0-3.8-6.9-8.1-8.6-11.5 .5-17.2-1.1-7.2 2.3-6.4 3.4-4 3.5-2.6 6.9zM855.3 600.4l29.6 0 0-6.9 3.8-6.9 3.4-3.4 5.9-3.5-4.7-6.9-3.3-3.4-5.9-3-3.2-4-2.6-2.1-1.8-1.3-3.9-1.5-5.8-1.6-10 13.5-2.3 10.3-1.2 13.8 0 6.9zM1114 600.4l239.7 0-.6-13.8-2.7-6.9-1.3-10.3-8.1-13.8-2.8-3.3-5.8-3.4-5.7-1.3-5.8-.6-74.7 .2-11.5-4.8-5.7 3.4-14.7 6.3-8.3 3-14.4 3.9-17.2 10.4-8.7 3.2-5.7 1.4-34.5 5.7-4.1 3.5-3.1 3.4-1.4 6.9-2.9 6.9zM1407.2 600.4l63.2 0 0-25.5-11.5 6.4-5.7 2-17.3 3.3-28.7 11.7-3.5 2.1zM976 579.9l11.5 .9 23-1 4.1-3.6 5.7-3.4 8.5-3.4-8.1-10.4-10.2-4.3-5.7-.9-5.8-.3-5.7 1.1-14.6 4.4-7 10.4 1.1 6.8 1.2 3.5z"/>
<path fill="#00d4ff" d="M96.5 600.4l580.4 0 3.2-6.9 10.9-6.9 3.4-3 3.1-3.9-1.5-10.3 4.3-10.4-.3-10.4-4.9-10.3 0-6.9 3.7-10.4-14.3-10.3-17.7-13.8-12.7-4-11.5-2.2-17.2-1.5-23-.3-5.7 .4-28.8 4.6-7.2 3-4.3 4.2-5.7 3.6-5.8-4.1-3.3-3.7-2.4-4.7-13.3-12.6-4-11.4-7.2-5.8-2.2-3.5-1.2-3.4-2.8-13.8-3.8-1.4-17.3-2.1-34.5 0-5.7 1.5-1.9 2 1.9 10.3 2.9 3.5 2.8 6.9-10 3.4-7.2 1.8-28.7-2.3-8.5-6.4-3.4-3.4-4.3-6.9-2.5-6.9-12.6-13.8-3.2-4.3-5.8-2.1-5.7-1.1-5.8 .3-7 3.7-16 10.4-5.7 4.3-2.2 2.6 2.2 7.8 1.4 2.5 10.8 10.4-6.5 3.3-11.5 1-7.2 2.6-4.3 3.9-2.8 6.4 8.5 3.5 5.8 1.3 6.4 2.2 6.6 3.4 4.3 3.3 3.2 3.6 2.5 13.8 8 3.5 3.9 3.4 5.4 7.6 7.1 6.2-.9 6.9-3.3 10.3-2.9 15.2-2.1 5.6-3.7 3.3-11.5 3.5-5.7 3.5 .9 3.5 1.8 3.4-8.5 3.7-11.5 3.3-34.5 3.3-5.7-3.4-28.7-2.7-46-6.1-51.8-2.2-11.5 0-23 1.7-5.7 .9-11.5 3.7-2.2 1.2-5.4 10.4zM734.6 600.4l56.6 0-3.7-6.9-6.9-7.4-11.5 .4-17.2-1.1-11.5 4.8-4.1 3.3-3.1 6.9zM855.3 600.4l28.2 0 0-6.9 2.8-6.9 2.2-3.4 4.5-3.5-3.2-4.1-5.7-5.4-2.6-4.3-3.4-3.5-4.9-3.4-6.4-2-9.1 12.4-2.2 10.3-1.6 13.8 0 6.9zM1119.8 600.4l233.2 0-.7-13.8-2.6-6.9-1.2-10.3-8.1-13.8-2.2-2.6-5.8-3.5-5.7-1.5-5.8-.6-63.2 .1-5.7 .7-5.8-.1-11.5-4.1-5.7 3.3-11.5 5.2-11.5 4.1-8.6 2.4-17.3 10.4-8.3 3.4-11.8 3.2-22 3.7-12.5 3.5-3.6 3.4-5 13.8zM1407.2 600.4l63.2 0 0-24.7-11.5 6.2-5.7 1.9-14.4 2.8-31.6 12.6-1.9 1.2zM987.5 579.4l11.5-1.1 10-2.1 1.5-.4 5.8-3.8 6.5-2.6-9.1-10.4-8.9-2.9-5.8-.7-13.3 3.6-7 10.4 1.8 3.4 2.8 3.4z"/>
<path fill="#00e0fb" d="M96.5 600.4l577.4 0 3-6.9 11.7-7.2 3.9-3.1 3-3.5-1.5-10.3 4.1-10.4 .6-10.4-4.9-10.3-.7-6.9 3.8-10.4-14.6-10.3-17.4-13.8-10.8-3.5-11.5-2.2-17.2-1.6-23-.4-5.7 .5-28.8 4.8-5.7 2.4-5.8 5.6-5.7 3.3-5.8-4-4.3-4.9-1.4-2.8-15.3-14.5-2-5.7-14.3-11.5-1.9-10.4-1-10.3-40.3 0-5.7 3.5 0 17.2-11.5 4.3-11.5 2.6-28.7-1.1-11.4-9.2-2.9-3.5-3-5.2-2.9-8.6-14.3-16-11.5-2.5-5.8-.1-23 14.8-4.3 3.8 3.6 6.9 6.5 7.5 4.3 6.3-4.3 4.1-5.8 2.5-11.5 2-3.2 1.8-4 3.4-2.3 3.4 15.3 4.8 5.7 2.4 5.8 3.7 5.7 6.4 4.6 13.8 6.9 3.9 2.6 3 3.2 5.2 8.7 8.6-.8 6.9-3.7 10.3-4.2 23.2-5.8 4.4-11.5 2-2.4 1.5 2.4 4 3.5 2.9-9.2 4.6-17.3 5.8-34.5 3.4-6.9-3.5-4.6-3.4-22.9-2.2-46-6.2-51.8-2.3-11.5 0-23 1.6-5.7 .9-11.5 3.7-1.9 1-5.5 10.4zM734.6 600.4l55.4 0-3.7-6.9-5.7-6.1-11.5 .4-17.2-1.2-8 3.4-5.6 3.5-3.7 6.9zM855.3 600.4l26.9 0 0-6.9 1.9-7.4 1.1-2.9 2.8-3.5-3.9-4.2-2.2-6.1-2.7-3.5-3.6-3.5-3-2-5.8-2.4-8.2 11.4-2.2 10.3-1.9 13.8 0 6.9zM1119.8 600.4l232.4 0-.7-13.8-2.4-6.9-1.2-10.3-8.1-13.8-1.6-1.9-5.8-3.7-5.7-1.6-5.8-.6-63.2 .3-5.7 .9-5.8 0-11.5-3.3-11.9 6.4-8.8 3.5-11 3.4-17.1 10.4-8.7 3.9-11.5 3.6-15.3 2.8-24.9 6.9-5.7 13.8zM1407.2 600.4l63.2 0 0-23.9-11.5 6-5.7 1.8-11.5 2.3-34.9 13.8zM993.3 574.2l5.7 1 9-2.4 7.2-3.4-8.5-10.4-7.7-1.7-6.3 1.7-7 10.4 3.8 3.4z"/>
<path fill="#02e8f4" d="M96.5 600.4l181.1 0-5.3-3.5-3.5-3.4-17-1.6-46-6.4-57.5-2.6-28.8 1.7-11.5 2.5-7.3 2.9-5.6 10.4zM326.5 600.4l344.6 0 2.8-6.9 6.5-3.5 8.2-5.5 5-4.8-1.4-10.3 3.8-10.4 1.3-10.4-4.8-10.3-1.3-6.9 3.8-10.4-14.8-10.3-16.9-13.8-14.9-4.4-17.3-2.2-28.7-.7-5.7 .5-28.8 5-4.3 1.8-2.9 3.5-4.2 3.4-5.8 3.1-5.8-4-8.3-9.5-20.4-19.1-6-5-9.8-6.9-3.6-6.9-3.6-3.5-11.5 2.6-5.8 1.9-5.7 2.4-11.5 6.4-13.4 4-9.6 1.7-28.7 0-7.2-5.2-7.2-6.9-4.1-6.9-3.1-10.3-7.2-8-3-2.3-2.7-3.5-17.3-2.4-23.7 16.2 14.4 20.7-3 3.4-4.9 4.2-5.8 2.4-11.5 2.9-4.8 4.3 12.3 3.5 8 3.5 4.8 3.4 7.3 6.9 4.6 13.8 4.8 3.5 2.3 3.4 1.4 3.4 9.9 10.4-.6 6.9-4.2 10.3-3.2 20.8-2.3 7.7-5.8 2.6-1.6 3.5 0 3.4-4.1 2.9-5.8 2.8-11.5 4.7-11.2 3.4zM740.4 600.4l48.3 0-3.7-6.9-4.4-4.8-11.5 .4-17.2-1.1-11.5 5.5-3.9 6.9zM855.3 600.4l25.6 0 0-6.9 1.1-3.5 1.7-10.3-3.7-10.3-2.9-3.5-3.9-3.5-6.4-3.3-7.3 10.3-4.4 24.1 0 6.9zM1125.5 600.4l226 0-.8-13.8-2.2-6.9-1.2-10.3-5.6-10.4-2.4-3.4-1.1-1.3-5.8-3.7-5.7-1.7-5.8-.6-63.2 .3-5.7 1.3-5.8 .3-11.5-2.8-11.5 6.4-14.8 5.2-19.7 12-5.7 2.8-11.5 3.9-8.9 2-25.6 7.3-6.2 3-5.3 3.5-2.9 6.9zM1412.9 600.4l57.5 0 0-23.1-5.7 3.4-5.8 2.5-14.5 3.4-35.5 13.8zM993.3 569.8l5.7 2.3 8.4-2.7-8.4-9.5-6.3 9.5z"/>
<path fill="#0cf4eb" d="M96.5 600.4l172.3 0-3.5-3.5-2.3-3.4-11.2-1.1-46-6.5-57.5-2.8-28.8 1.6-11.5 2.5-7 2.8-5.7 10.4zM338 600.4l331.9 0 1.2-6.9 6.7-3.5 10.2-6.8 3.6-3.5-1.2-10.3 3.6-10.4 2-10.4-4.7-10.3-2-6.9 3.8-10.4-15-10.3-16.4-13.8-1.8-.7-11.5-3.2-17.3-2.3-28.7-.7-5.7 .4-28.8 5.3-2.9 1.2-2.8 3.7-3.6 3.2-7.9 4.2-5.8-4-5.7-6.5-17.3-16.1-5.7-1.8-11.5-9.5-11.5-7.7-28.8 3.4-9.5 3.5-13.5 2.7-5.7 .8-28.7 1.1-5.8-3.5-5.4-4.6-6.1-6.8-3.3-7-2.4-10.3-5.8-6.4-5.7-4.8-17.3-2.6-19.9 13.8 14.2 20.7-5.8 6.9-4.6 3.5-18.4 6.8 11.5 2.7 5.8 2.5 11.5 8.6 3.4 3.5 4.6 13.8 3.5 3.9 2.2 6.4 6.9 6.9 2.6 3.5-.2 6.9-4.8 10.3-2.7 20.8-4 13.8-5.8 7.6-11.5 6-9.4 3.6zM740.4 600.4l47.1 0-3.7-6.9-3.2-3.4-11.5 .4-17.2-1.1-8.7 4.1-2.8 3.4-2 3.5zM861.1 600.4l18.5 0 0-6.9 1.7-6.9 .5-6.9-3.7-10.3-5.5-5.7-5.8-3.3-6.4 9-4.4 24.1 0 6.9zM1131.2 600.4l219.6 0-.9-13.8-1.9-6.9-1.3-10.3-5.5-10.4-3-4-5.8-3.9-5.7-1.6-5.8-.8-63.2 .9-5.7 1.3-5.8 .4-11.5-2-5.7 3.7-5.6 2.6-9.8 3.4-19.1 12.3-5.8 3.1-5.7 2.3-32.6 9.9-7.7 2.9-7.9 4-9.3 6.9zM1412.9 600.4l57.5 0 0-22.3-9.7 5.1-13.6 3.4-16.9 6.9-19 6.9z"/>
<path fill="#16ffe1" d="M96.5 600.4l163.6 0-2.9-6.9-39.9-5.9-11.5-1.3-57.5-2.9-28.8 1.5-11.5 2.4-6.6 2.7-5.9 10.4zM349.5 600.4l319.1 0 1.1-6.9 16-10.3 4-3.5-1.1-10.3 4.6-13.8 1.5-7-7.3-17.2 3.8-10.4-15-10.3-16.3-13.9-11.5-3.4-17.3-2.4-28.7-.7-5.7 .5-17.3 2.9-11.5 2.6-1.4 .6-2.4 3.5-3.5 3.4-4.2 2.8-5.7 2.6-5.8-4.1-5.7-6.4-2.9-1.8-14.4-13.7-11.5-3.6-8.5-6.8-8.7-6.1-28.8 2.6-11.5 3-11.5 1.6-34.4 2.9-5.8-3.1-5.7-4.2-6.5-7.1-3.6-6.9-1.4-5.2-1.5-8.6-4.3-4.8-3.9-2.1-1.8-1.6-17.3-2.5-16.1 11 14 20.7-3.6 5.8-4.6 4.6-6.9 4.1-7.7 2.7 7.7 2.3 8.1 4.7 4.8 3.4 6.6 6.9 6.2 17.3 1.3 6.8 6.9 6.9 1.9 3.5-.3 6.9-4.5 10.3-.8 10.4-1.6 10.4-4.7 17.2-.9 2-1.5 1.4-1.4 3.5-2.9 3.1-8 3.8zM740.4 600.4l45.9 0-3.8-6.9-1.9-2.1-11.5 .5-17.2-1.2-5.8 2.8-5.7 6.9zM861.1 600.4l17.2 0 0-6.9 1.7-6.9-.1-6.9-3.4-10.3-3.9-4-5.8-3.7-5.5 7.7-4.4 24.1 0 6.9zM1137 600.4l213.1 0-.9-13.8-1.8-6.9-1.3-10.3-5.4-10.4-2.5-3.3-5.8-4-5.7-1.7-5.8-.7-57.4 .9-5.8 .3-5.7 1.3-5.8 .6-11.5-.7-6.8 3.9-9 3.4-24.4 16.2-20.1 8-14.4 4.2-11.5 4.1-4.3 2-9.4 6.9zM1418.7 600.4l51.7 0 0-21.5-7.9 4.3-12.8 3.4-16.7 6.9-19.5 6.9z"/>
<path fill="#1cffdb" d="M96.5 600.4l155.2 0-.1-6.9-11.3-2.1-23-3.5-11.5-1.2-57.5-3.1-28.8 1.5-11.5 2.3-6.3 2.6-6 10.4zM361 600.4l306.4 0 .8-6.9 19.6-13.8-.3-10.3 1.1-5.7 4.7-15.1-5.8-13.8-2-3.4 3.8-10.4-14.9-10.3-15.8-13.8-10.2-3-17.3-2.5-28.7-.7-5.7 .5-17.3 3-11.5 2.7-2.1 3.5-3.6 3.9-5.8 3.7-5.7 2.3-5.8-4-5.7-6.4-4.7-3-12.6-11.9-5.7-2.4-11.5-3-11.5-8.6-28.8 1.8-11.5 1.9-28.7 2.5-17.2 2.4-5.8-2.6-5.7-3.6-4.7-4.1-3-3.5-2.4-3.4-2.4-6.9-1.9-13.8-2.9-3.2-5.7-2.7-17.3-2.4-12 8.3 13.5 20.7-3.4 6.9-2.7 3.5-4 3.4-6.7 3.4 7.6 3.5 5.3 3.5 3.9 3.4 4.3 5.1 1.1 1.8 4.6 13.8 0 10.3 5.8 5.5 2.3 4.9-.2 6.9-4.3 10.3-.5 10.4-1.6 10.4-4.6 17.2-1.4 3.4-1.2 7-3.3 3.4zM746.1 600.4l38.9 0-4.4-7.6-11.5 .5-17.2-1.2-2.9 1.4-5.8 6.9zM861.1 600.4l16.1 0 0-6.9 1.5-6.9-.6-6.9-3.3-10.3-3.6-3.5-4.4-2.9-4.6 6.4-4.3 24.1 0 6.9zM1148.5 600.4l200.8 0-.7-13.8-1.8-6.9-1.2-10.3-5.4-10.4-2-2.7-5.8-4.1-5.7-1.6-5.8-.7-51.7 .8-11.5 .8-11.5 2-11.5 .7-10.5 4.8-11.4 6.9-5 3.5-7.6 7-17.2 7.9-23 6.7-6.5 2.5-9.3 6.9zM1418.7 600.4l51.7 0 0-20.7-6.2 3.5-11.9 3.4-16.4 6.9-20.1 6.9z"/>
<path fill="#26ffd1" d="M96.5 600.4l153.9 0-1.3-6.9-8.8-1.7-23-3.6-11.5-1.2-57.5-3.1-28.8 1.4-11.5 2.2-6 2.5-6.1 10.4zM366.7 600.4l299.4 0 .7-6.9 19-13.8 .6-10.3 1.3-7 4.3-13.8-6-13.8-2.4-3.4 3.8-10.4-14.8-10.3-15.6-13.8-8.6-2.5-17.3-2.6-28.7-.7-5.7 .5-26.9 5.3-5 6.9-2.6 2.3-5.8 3.3-5.7 1.6-5.8-3.6-5.7-6.3-6.6-4.2-10.7-10.2-8.7-3.6-14.3-3.5-5.7-4.3-28.8 .9-28.7 1.7-14.4 1.7-14.3 .9-7.2-.9-6-3.4-4.3-3.4-3.2-3.5-4.5-6.9-1.2-6.9-.9-13.8-1.5-1.6-5.7-1.7-17.3-2.2-8 5.5 8 12.2 1.6 1.6 2.1 3.4 1.4 3.5-2.2 6.9-1.7 3.5-2.6 3.4-4.3 3.4 5.7 3.4 4.3 3.6 3 3.4 4.2 6.9 3.3 13.8-1 10.3 3.6 3.5 3.3 6.9-.3 6.9-4.1 10.3-.1 10.4-1.6 10.4-7.9 31zM746.1 600.4l37.7 0-3.2-5.8-11.5 1.9-17.2-3-5.8 6.9zM861.1 600.4l14.9 0 0-6.9 1.3-6.9-.8-6.9-3.3-10.3-6.4-5.1-3.6 5.1-4.3 24.1 0 6.9zM1154.2 600.4l194.5 0-.8-13.8-1.7-6.9-1.2-10.3-5.3-10.4-1.5-2-5.8-4.3-5.7-1.5-5.8-.7-51.7 .9-11.5 1-5.7 1.3-13.9 1.9-8.7 3.4-17 10.4-12.2 12.1-2.8 1.7-7.7 3.4-6.7 2.3-19.1 4.6-3.9 2.1-6.5 4.8zM1418.7 600.4l51.7 0 0-19.7-5.7 3-9.8 2.9-16.1 6.9-20.7 6.9z"/>
<path fill="#2cffca" d="M96.5 600.4l152.7 0-.9-3.5-1.7-3.4-29.3-5.1-11.5-1.2-57.5-3-28.8 1.3-11.5 2.1-5.7 2.4-6.2 10.4zM366.7 600.4l298.3 0 .6-7.1 18.3-13.6 3.3-20.7 3.5-10.4-4.4-10.3-1.8-3.5-2.8-3.4 3.8-10.4-14.7-10.3-15.4-13.8-7-2.1-11.5-1.8-11.5-1.1-23-.5-5.7 .5-25 5-4.8 6.9-3.7 3.4-6.5 3.5-6 .8-2.7-.8-3.1-2.2-5.7-6.2-8.5-5.4-8.8-8.4-5.7-3-5.8-1.9-17.2-4-57.5 0-28.7 1.8-11.5-1.2-2.9-.6-2.9-1.9-5.3-4.9-2.6-3.5-3.6-6.9-11.5 0-4 10.4-3.6 6.8 4.2 3.5 2.9 3.5 3.3 6.8 3.7 17.3-1.9 10.3 2.9 3.5 2.7 6.9-.2 6.9-4 10.3 .3 10.4-1.6 10.4-7.8 31zM751.9 600.4l30.6 0-1.9-3.5-11.5 3-17.2-3-2.9 3.5zM861.1 600.4l13.7 0 0-6.9 1.2-6.9-1.2-6.9-3.2-10.3-4.8-3.8-2.7 3.8-2.8 13.8-1.4 10.3 0 6.9zM1165.7 600.4l182.3 0-.7-13.8-1.6-6.9-1.3-10.3-5.2-10.4-3.5-3.4-3.3-2.3-5.7-1.6-5.8-.6-45.9 .6-17.3 1.7-17.2 3.2-11.5 5.5-11.9 7.3-6.8 6.8-10.1 11.6-5.7 2.5-11.5 3.2-19.1 6.9zM1424.4 600.4l46 0 0-18.7-5.7 2.8-7.2 2.1-15.8 6.9-21.3 6.9zM366.7 462.4l5.8 0 5.7-3.5 0-17.2-23-2.8-4 2.8 4 6.1 2.1 .8 4.2 3.4 3.1 3.5 1.4 3.4z"/>
<path fill="#36ffc1" d="M96.5 600.4l151.5 0-1.3-3.5-2.4-3.4-27-4.8-17.3-1.6-51.7-2.7-28.8 1.3-11.5 2-5.5 2.3-6.2 10.4zM366.7 600.4l297.3 0 .4-6.9 1.2-1.6 16.4-12.2 1.8-6.9 2.2-13.8 3.3-10.4-4.3-10.3-2.1-3.5-3.1-3.4 3.8-10.4-14.5-10.3-15.3-13.8-5.4-1.6-11.5-1.9-11.5-1.2-23-.4-5.7 .5-23.1 4.6-4.4 6.9-3.3 3.4-3.7 2.6-1.8 .9-9.7 1.3-4.3-1.3-1.5-1-5.7-6.3-4.2-3-6.1-3.5-7.4-6.9-5.3-3.1-5.8-1.9-17.2-3.6-57.5-.8-28.7 1.6-5.8-.6-11.5 .3-5.7-3.5-5.8-7.4-5.7 3.7-3.9 4.9 2.2 3.5 1.4 3.5 1.7 6.8 2.5 17.3-2.8 10.3 2.3 3.5 2.1 6.9-.2 6.9-4 10.3 .8 10.4-1.6 10.4-7.6 31zM780.6 600.4l.7 0-.7-1.2-3.8 1.2zM861.1 600.4l12.6 0 0-6.9 1-6.9-.7-3.4-4.1-13.8-3.1-2.5-1.8 2.5-3.4 17.2-.8 6.9 0 6.9zM1188.7 600.4l158.6 0-.7-13.8-1.5-6.9-1.3-10.3-5.1-10.4-6.3-5.2-5.7-1.5-5.8-.6-45.9 .6-17.3 2-17.2 3.9-18.7 11.2-10.4 10.3-5.4 8.2-5.8 6.6-17.2 5.9zM1424.4 600.4l46 0 0-17.7-5.7 2.5-5.8 1.9-14.4 6.4-21.8 6.9z"/>
<path fill="#3cffba" d="M96.5 600.4l150.2 0-1.6-3.5-3.2-3.4-24.6-4.5-17.3-1.7-23-.7-28.7-1.9-28.8 1.2-11.5 1.9-5.3 2.2-6.2 10.4zM372.5 600.4l290.5 0 .3-6.9 2.3-2.9 14.6-10.9 2.7-8.5 1.9-12.2 3.2-10.4-4.2-10.3-5.9-6.9 3.8-10.4-14.3-10.3-15.2-13.8-9.6-2.2-11.5-1.7-28.7-.8-5.7 .5-21.2 4.2-3.8 6.9-3 3.4-4.5 3.5-13.5 1.9-5.9-1.9-6.6-6.9-4.8-3.5-6.4-3.4-5.1-4.9-5.7-3.6-5.8-2.1-17.2-3.2-17.3 0-40.2-1.5-28.7 1.5-5.8-.6-5.7 .4-5.8 2.7-5.7 0-5.8 1 0 10.3 1.5 13.8-3.8 10.3 2.5 6.9 .6 3.5-.2 6.9-4 10.3 1.4 10.4-3 17.2-6.1 24.2zM866.8 600.4l5.7 0 0-6.9 .8-6.9-5-17.2-1.5-1.2-.8 1.2-3.5 17.2-.7 13.8zM1206 600.4l140.6 0-.7-6.9 0-6.9-1.4-6.9-1.2-10.3-5.1-10.4-5.8-4.6-5.7-1.6-5.8-.5-45.9 .6-17.3 2.3-15.3 3.8-7.7 5.5-8.2 4.9-7.6 6.8-6 7-6.9 10.6-5.1 6.6zM1430.2 600.4l40.2 0 0-16.8-11.5 4.5-11.5 5.4-22.3 6.9z"/>
<path fill="#46ffb1" d="M102.3 600.4l143.2 0-2-3.5-4-3.4-22.2-4.2-17.3-1.8-26.9-.9-24.8-1.6-28.8 1.1-11.5 1.8-5 2.1-1.7 3.5-4.6 6.9zM372.5 600.4l289.5 0 .2-6.9 3.4-4.2 12.7-9.6 3.5-10.3 1.8-10.4 3.1-10.4-4.3-10.3-6.7-6.9 4.1-10.4-14.2-10.3-14.9-13.8-19.6-3.5-28.7-.9-5.7 .6-19.4 3.8-3.6 7.7-2 2.6-3.8 3.5-17.2 2.4-7-2.4-4.5-4.9-5.8-4.5-8.2-4.4-3.7-3.5-5.1-3.4-6-2.4-17.2-2.8-17.3 0-40.2-2.3-28.7 1.5-5.8-.6-5.7 .9-4 2.3-1.8 2.8-1.6 .6-4.4 3.4-1.7 3.5 .9 13.8-4.7 10.3 1.8 10.4-.1 6.9-4 10.3 2 10.4-3 17.2-6 24.2zM866.8 600.4l4.5 0 .7-13.8-5.2-16.7-3.4 16.7-.5 13.8zM1206 600.4l139.9 0-.7-6.9 .4-3.5-.3-3.4-2.5-17.2-4.6-9.4-5.8-5.1-5.7-1.5-5.8-.5-45.9 .6-14.4 2.1-14.4 3.4-5.7 4.4-9.4 6-11.4 10.3-8.3 10.3-2.3 3.5-3.3 6.9zM1430.2 600.4l40.2 0 0-15.8-11.5 4.5-11.5 5.4-19.6 5.9z"/>
<path fill="#4dffaa" d="M102.3 600.4l142 0-2.3-3.5-4.8-3.4-19.9-3.9-17.3-1.9-30.9-1.1-20.8-1.4-28.8 1.1-11.5 1.7-4.8 2-1.6 3.5-4.7 6.9zM372.5 600.4l288.5 0 .1-6.9 4.5-5.6 11-8.2 3.7-10.3 1.9-10.4 3.1-10.4-4.7-10.3-3.5-3.8-4-3.1 4.8-10.4-14-10.3-14.8-13.8-12.2-2.3-11.5-1.2-23-.5-5.7 .5-17.5 3.5-2.5 6.9-2 3.4-3.1 3.5-20.9 2.9-5.8-1.7-2.3-1.2-3.4-3.7-5.8-4.7-10.1-5.4-7.1-5.6-5.8-2.4-17.2-2.3-17.3 0-17.2-1.8-23-1.3-28.7 1.3-5.8-.5-5.7 1.4-1.6 .9-3 3.4-1.2 3.2-3.8 3.7 .2 13.8-2.3 3.5-3.3 6.8 .4 17.3-4 10.3 2.2 10.4-.9 8.1-2.4 12.6-5.2 20.7zM866.8 600.4l3.4 0 .5-13.8-3.9-11.5-2.5 11.5-.4 13.8zM1211.7 600.4l133.5 0-.7-6.9 .4-3.5-2.6-20.6-4.1-8.4-1.4-2-4.4-3.5-5.7-1.5-5.8-.5-45.9 .6-11.5 1.7-13.5 3.2-15.3 11.2-10.8 9.5-11.7 13.8-3.5 6.9zM1435.9 600.4l34.5 0 0-14.8-11.3 4.4-11.7 5.4-16.8 5z"/>
<path fill="#56ffa0" d="M102.3 600.4l140.9 0-2.9-3.6-5.5-3.3-17.5-3.6-23-2.3-29.1-1-16.9-1.1-28.8 1-11.5 1.6-4.6 1.9-1.5 3.5-4.8 6.9zM372.5 600.4l287.5 0 0-6.9 5.6-6.9 9.2-6.9 3.9-10.3 1.8-10.4 3.5-10.4-5.1-10.3-1.8-1.9-6.5-5 5.4-10.4-13.8-10.3-15.1-13.8-16-2.7-5.7-.4-23-.5-5.7 .5-15.6 3.1-1.9 6.9-3.8 6.9-24.7 3.4-5.8-1.6-3.4-1.8-8.1-7.4-11.5-6.1-5.7-4.4-5.8-2.5-17.2-2-17.3 0-17.2-2.2-23-1.7-28.7 1.3-5.8-.5-5.7 1.8-3.2 3-1.6 3.4-1 3.5-.3 13.8-2.7 3.5-3.9 6.8-.8 17.3-4 10.3 2.2 10.4-1 10.4-1.6 10.3-5.3 20.7zM866.8 600.4l2.2 0 .3-13.8-2.5-6.5-1.6 6.5-.3 13.8zM1211.7 600.4l132.8 0-.6-6.9 .4-3.5-2.5-20.6-3.6-7.4-2-3-3.8-3-5.7-1.5-5.8-.4-45.9 .6-11.5 1.9-9.6 2.4-17.9 13.8-8 6.9-12.8 13.8-3.7 6.9zM1435.9 600.4l34.5 0 0-13.8-9.1 3.4-13.9 6.4-13.5 4z"/>
<path fill="#60ff97" d="M102.3 600.4l139.7 0-3.2-3.5-6.3-3.4-16.4-3.5-21.8-2.3-51.8-2-23 .9-5.7 .4-5.8 1.2-4.4 1.8-1.5 3.5-4.7 6.9zM378.2 600.4l281.1 0 0-6.9 .6-1.5 5.7-7.1 7.5-5.2 2.2-6.9 1.8-3.4 1.7-10.4 3.8-10.4-5.5-10.3-9.2-6.9 3.5-4.9 2.7-5.5-13.6-10.3-15.6-13.8-13.8-2.3-5.7-.5-23-.5-5.7 .6-13.7 2.7-1.3 6.9-2.6 6.9-28.4 3.9-5.8-1.5-4.5-2.4-7-6.4-11.5-5.9-5.7-4.2-5.8-2.6-17.2-1.6-17.3 0-17.2-2.6-23-2-28.7 1.2-5.8-.5-5.7 2.3-1.7 1.6-2.1 3.4-1.2 3.5-.1 13.8-.7 3.2-4.6 7.1-1.6 6.9-.4 10.4-4.2 10.3 2.4 10.4-.9 10.4-2.2 14.7-4.1 16.3zM866.8 600.4l1 0 .2-13.8-1.2-3.1-.8 3.1-.1 13.8zM1217.5 600.4l126.4 0-.4-13.8-2.2-17.2-3.1-6.4-2.7-4-3.1-2.4-5.7-1.5-5.8-.3-40.2 .2-11.5 1.2-11.5 2.8-11.5 8.5-14 12.2-14 13.8-4 6.9zM1441.7 600.4l28.7 0 0-12.9-23 9.9-10.3 3z"/>
<path fill="#66ff90" d="M102.3 600.4l138.5 0-3.6-3.5-7.1-3.4-16.3-3.5-25.3-2.4-46-1.6-23 .7-5.7 .4-5.8 1.1-4.1 1.8-1.5 3.5-4.8 6.9zM378.2 600.4l280.4 0 0-6.9 1.3-3.2 5.7-7.1 5.8-3.5 1.5-6.9 7.6-24.2-3.4-6.4-2.8-3.9-9.1-6.9 2.9-3.5 4.1-6.9-13.5-10.3-10.3-9.4-5.7-4.4-17.3-2.4-23-.5-11.5 1.7-6 1.2-2 13.8-32.2 4.4-5.8-1.4-5.6-3-5.9-5.4-11.5-5.7-5.7-3.9-5.8-2.8-17.2-1.2-17.3 0-17.2-3.1-23-2.2-28.7 1-5.8-.4-5.7 2.8-2.8 3.6-1.4 3.5-.1 13.8-1.5 6.8-4 7-1.5 6.9-.1 6.9-4.3 10.3 2.5 10.4-.7 10.4-1.9 13.8-3.9 17.2zM1217.5 600.4l125.9 0-.3-13.8-2.3-17.2-2.6-5.4-3.4-5-2.4-1.9-5.7-1.5-5.8-.2-40.2 .1-11.5 1.4-8.6 2.1-13.2 10.4-18.1 17.2-6.1 4.9-2 2-4.2 6.9zM1441.7 600.4l28.7 0 0-12.1-19.5 8.6-10.5 3.5z"/>
<path fill="#70ff87" d="M102.3 600.4l137.3 0-5.1-4.1-5.7-2.5-11.5-2.9-5.8-.9-23-2.3-46-1.5-23 .6-5.7 .4-5.8 1.1-3.9 1.7-1.5 3.5-4.8 6.9zM378.2 600.4l279.7 0 0-6.9 2-5 3.8-5.3 4.8-3.5 5.8-20.7 4.2-10.4-7.1-10.3-5.4-3.5-3.6-3.4 3.3-3.5 4.6-6.9-13.4-10.3-8.5-7.7-8-6.1-15-2-23-.5-5.7 .5-9.9 2-1.6 14-34.5 4.7-5.8-1.3-5.7-3-5.8-5-11.5-5.5-11.5-6.6-17.2-.8-17.3 0-17.2-3.5-23-2.6-28.7 1-5.8-.4-4.2 2.1-3.3 3.4-1.6 3.5-.2 13.8-2.2 10.3-2.3 3.5-1.3 3.4-.8 3.5-.1 6.9-4.6 10.3 2.8 10.4-.5 10.4-1.2 10.3-4.1 20.7zM1223.2 600.4l119.8 0-.1-10.4-1.6-13.8-1-6.8-1.7-3.5-1.9-3.5-2.6-3.4-1.7-1.3-5.7-1.5-5.8-.2-40.2 .1-5.7 .5-11.5 2.4-16.6 13.8-6.4 6.9-7.5 6.9-8.8 6.9-4.4 6.9zM1447.4 600.4l23 0 0-11.2-17.2 7.8-9.5 3.4z"/>
<path fill="#77ff80" d="M102.3 600.4l136.1 0-3.9-3.2-5.7-2.6-11.5-3.3-5.8-1-23-2.4-46-1.4-23 .3-5.7 .5-5.8 1.1-3.7 1.6-1.6 3.5-4.7 6.9zM384 600.4l273.2 0 0-6.9 1.2-3.5 3.4-6.8 3.8-3.5 1.8-10.3 6.4-17.3 1.9-3.5-8.4-10.3-4.6-3.5-2.9-3.4 3.5-3.5 5.1-6.9-13.3-10.3-12.1-10.3-5-3.5-12.6-1.6-23-.5-13.7 2.1-1.9 6.9-.7 6.9-.9 .6-34.5 4.9-7.4-2-6.2-3.5-3.7-3.4-5.7-3-5.8-2.3-11.5-6.4-34.5-.4-17.2-4-23-2.9-28.7 .8-5.8-.3-5.7 3.7-2.6 4.4-.2 13.8-1.2 3.5-1.8 9.3-2.3 4.4-1.1 3.5-.1 6.9-4.7 10.3 2.9 10.4-.3 10.4-1.1 10.3-3.7 20.7zM1223.2 600.4l119.4 0-.4-13.8-2.4-17.2-3.7-7-3.7-4.2-5.7-1.4-5.8-.2-40.2 .1-5.7 .5-8.7 1.8-4.9 3.4-3.7 4.4-7.5 6-13.5 13.8-9.5 6.9-4.6 6.9zM1447.4 600.4l23 0 0-10.4-23.4 10.4z"/>
<path fill="#80ff77" d="M102.3 600.4l134.9 0-2.7-2.2-5.7-2.9-11.5-3.6-5.8-1.1-23-2.6-46-1.4-23 .3-5.7 .4-5.8 1.2-3.5 1.5-1.6 3.5-4.7 6.9zM384 600.4l272.6 0 0-6.9 1.8-6.9 1.5-3.4 2.9-3.5 .5-10.3 8.1-20.8-8.2-10.3-3.3-3-2.4-3.9 6.5-6.9 2.5-3.5-23.9-19.3-7-4.8-10.2-1.2-23-.6-11.8 1.8-1.9 3.5-.9 3.4-1 6.9-1.6 1-34.5 5-5.8-1.3-3-1.2-5.9-3.5-2.6-2.4-5.7-3-5.8-2-11.5-6.4-34.5 0-17.2-4.4-23-3.3-28.7 .8-5.8-.3-5.3 3.7-2.2 3.5-.2 13.8-2.3 6.9-1.5 8.3-2.3 5.5-.1 6.9-4.9 10.3 2.8 10.4-.1 10.4-1.1 12.5-3.1 18.5zM1229 600.4l113.2 0-.5-13.8-2.4-17.2-3.7-7-3.2-3.7-5.7-1.4-5.8-.1-40.2 .1-11.5 1.7-5.7 3.6-3.3 3.3-2.5 3.5-11.5 10.3-5.7 6.9-10.2 6.9-4.9 6.9zM1453.2 600.4l17.2 0 0-9.5-20.8 9.5z"/>
<path fill="#87ff70" d="M102.3 600.4l133.7 0-7.2-4.4-11.5-4-5.8-1.1-23-2.7-46-1.5-23 .3-5.7 .4-5.8 1.2-3.2 1.4-1.7 3.5-4.7 6.9zM384 600.4l271.9 0 0-6.9 .9-3.5 .2-3.4 1-3.4 1.9-3.5-.6-10.3 7.3-20.8-10-13.8-1.3-3.4 9.3-10.4-22-17.7-9.4-6.4-7.8-.8-23-.6-10 1.4-2.3 3.5-1.3 3.4-1.3 6.9-2.3 1.5-34.5 5-5.8-1.2-4.3-1.8-7.2-4.9-5.7-3-7.4-2.5-9.9-5.1-34.5-.7-18.8-4.6-21.4-3.2-34.5 .4-4.1 2.8-2.6 3.5-.2 13.8-2.6 6.9-2 10.8-1.3 3 0 6.9-5.1 10.3 2.7 10.4 .1 10.4-2.1 24.1-1.4 6.9zM1229 600.4l112.7 0-.4-13.8-2.5-17.2-3.8-7-2.6-3-5.7-1.5-5.8-.1-40.2 0-8.6 1.2-6.2 3.4-2.4 2-5.8 7.5-11.5 10.4-3.6 4.3-9.3 6.9-5.1 6.9zM1453.2 600.4l17.2 0 0-8.6-18.3 8.6z"/>
<path fill="#90ff66" d="M102.3 600.4l132.5 0-5.7-3.5-11.8-4.5-17.3-3-17.2-1.5-40.3-1.1-23 .2-5.7 .5-5.8 1.2-3 1.3-1.7 3.5-4.7 6.9zM389.7 600.4l265.5 0 0-6.9 .8-3.5-.4-3.4 1.4-6.9-1.7-10.3 6.5-20.8-6.8-10.3-1.8-6.9 9.5-10.4-20.1-16.1-11.5-7.8-5.7-.7-23-.5-8.1 1-3.4 4.3-2.8 9.5-2.9 1.9-34.5 5.1-5.8-1.1-5.7-2.5-11.5-6.8-5.8-1.6-11.5-5.2-34.5-1.3-23-5.3-17.2-2.7-34.5 .3-2.8 1.9-3.1 3.5-.3 13.8-1.7 3.5-1.9 6.8-1.9 10.4-.1 6.9-5.2 10.3 2.7 10.4 .2 10.4-1.7 24.1-1.1 6.9zM1234.7 600.4l106.6 0-.4-13.8-2.6-17.2-1.7-3.5-4.2-5.8-5.7-1.7-5.8 0-40.2 0-5.7 .6-5.8 2.8-5.4 4.1-3 3.5-3.1 5.1-9.8 8.7-6.8 6.8-4.8 3.5-5.3 6.9zM1458.9 600.4l11.5 0 0-7.8-16.1 7.8z"/>
<path fill="#97ff60" d="M102.3 600.4l131.3 0-4.8-2.9-11.5-4.8-17.3-3.1-17.2-1.5-40.3-1.3-23 .3-5.7 .4-5.8 1.3-2.8 1.2-1.7 3.5-4.7 6.9zM389.7 600.4l264.8 0 0-6.9 .7-3.5-1.1-3.4-.2-10.4-1.3-6.8 .8-7 3.6-13.8-6.1-10.3 .4-6.9 9.5-10.4-9.2-6.8-9-7.6-11.5-7.9-5.7-1.9-23-.6-6.2 .7-3.7 3.5-1.7 3.4-2 6.9-3.6 2.3-34.5 5.2-5.8-1-5.7-2.4-11.5-6.5-5.8-1.4-11.5-4.6-34.5-1.9-23-5.4-17.2-2.9-34.5 .3-5 4.5-.5 13.8-1.8 3.5-2.1 6.8-1.6 10.4 0 6.9-5.1 10.3 2.6 10.4 .4 10.4-1.4 17.2 .1 6.9-1 6.9zM1234.7 600.4l106.2 0-.5-13.8-2.5-17.2-1.8-3.5-3.7-5.2-5.7-1.7-46 0-5.7 1.1-4.6 2.3-4.8 3.5-3.2 3.5-4.7 7.7-7.4 6.1-6.8 6.8-4.3 3.5-5.5 6.9zM1458.9 600.4l11.5 0 0-6.9-14.1 6.9z"/>
<path fill="#a0ff56" d="M102.3 600.4l130.1 0-13.8-6.9-7.1-1.8-11.5-1.8-17.2-1.7-40.3-1.3-23 .2-5.7 .5-5.8 1.3-2.6 1.1-6.4 10.4zM389.7 600.4l264.1 0 0-6.9 .6-3.5-.8-3.4-.8-10.4-.8-3.4-1.5-3.4-.7-10.4 2.4-10.4-5.5-10.3 1.7-3 1-3.9 9.4-10.4-9.3-6.8-8.1-7-10.3-6.9-5.7-2.3-5.8-.6-17.2-.8-3 .3-2.7 .8-3.1 2.7-2 3.4-2.1 6.9-4.3 2.8-34.5 5.2-6.3-1.1-5.2-2.1-11.5-6.2-8.8-2.1-8.5-3.1-17.2-1.7-17.3-.9-11.5-2.2-17.2-4.3-11.5-1.9-34.5 .2-4 3.6-.9 13.8-1.8 3.5-2.3 6.8-1.4 10.4 0 6.9-4.9 10.3 2.6 10.4 .6 10.4-1.3 17.2 .5 6.9-.9 6.9zM1240.5 600.4l100 0-.5-13.8-2.6-17.2-5-8-5.7-1.8-40.2 .1-5.8 .2-5.7 1.4-5.8 3.3-5.3 4.8-3.5 6.8-2.7 3.5-5.7 4.1-10.1 9.7-5.4 6.9zM1458.9 600.4l11.5 0 0-5.9-12.1 5.9z"/>
<path fill="#aaff4d" d="M102.3 600.4l128.8 0-13.6-6.9-17.5-3.4-17.2-1.8-40.3-1.3-23 .2-5.7 .5-5.8 1.3-2.3 1-6.4 10.4zM389.7 600.4l263.5 0 0-6.9 .6-3.5-1.4-10.3-1.8-6.9-2.2-3.4-1.7-10.4 .7-10.4-4.8-10.3 3.4-3.5 1.5-3.4 2.7-3.5 6.5-6.9-17.4-13.8-8.2-5.3-5.7-2.4-23-2.5-5.7 1.7-1.9 1.7-2.3 3.4-2.3 6.9-5 3.2-34.5 5.3-8.1-1.6-14.9-7.3-5.8-1-11.5-3.4-40.2-4.1-11.5-2.4-7.9-2.5-15.1-2.9-34.5 .2-3 2.7-1.4 13.8-3.2 6.9-1 3.4-1.3 10.4 .1 6.9-1.7 4.7-2.9 5.6 2.5 10.4 .8 10.4-1.2 17.2 .8 6.9-.7 6.9zM1240.5 600.4l99.5 0-.5-13.8-2.5-17.2-4.6-7.3-5.7-1.9-40.2 .2-5.8 .4-5.7 1.6-5.7 3.5-3.9 3.5-1.9 4.9-3.4 5.4-8.9 6.9-6.6 6.9-5.3 6.9zM1464.7 600.4l5.7 0 0-4.9-10.1 4.9z"/>
<path fill="#b1ff46" d="M102.3 600.4l127.6 0-13.5-6.9-16.4-3.2-17.2-1.9-40.3-1.4-23 .3-5.7 .5-5.8 1.3-2.1 .9-6.4 10.4zM395.5 600.4l257 0 0-6.9 .6-3.5-.9-6.8-1.5-7-3.7-6.8-2.7-10.4-3.4-20.7 7.3-10.4 6.4-6.9-6.2-4.4-11.2-9.4-6.1-3.7-5.7-2.5-3-.6-20-2.6-6.5 2.6-2.6 3.4-2.4 6.9-5.7 3.6-34.5 5.4-5.8-.8-4.1-1.3-13.1-6.3-5.8-.8-17.2-3.8-40.3-4.5-11.5-2.6-7.1-2.7-10.1-1.9-34.5 .1-2 1.8-1.8 13.8-4.4 10.3-1.1 10.4 .1 6.9-4.3 10.3 2.5 10.4 .9 10.4-1.1 17.2 1.2 6.9-.6 6.9zM1246.2 600.4l93.4 0-.5-13.8-2.5-17.2-4.2-6.6-5.7-2-40.2 .3-5.8 .6-5.7 1.8-8 5.9-2.6 6.8-1.9 3.5-9.1 6.9-6.2 6.9-5.3 6.9zM1464.7 600.4l5.7 0 0-3.9-8 3.9z"/>
<path fill="#baff3c" d="M102.3 600.4l126.3 0-13.3-6.9-15.3-3.1-17.2-1.8-40.3-1.5-23 .2-5.7 .5-5.8 1.4-1.9 .8-6.4 10.4zM395.5 600.4l256.3 0 0-6.9 .7-3.5-.9-6.8-2-7-4.1-6.8-3.4-10.4-2.9-20.7 6.9-10.4 6.2-6.9-15.4-12.5-5.8-3.4-5.7-2.7-5.8-1.3-17.2-2.5-5.7 2.1-2.6 3.1-2.7 6.9-6.2 4.1-34.5 5.5-5.8-.8-5.7-1.8-11.5-5.4-12.1-1.6-17.4-3.5-28-2.9-11.5-1.7-9.6-2.2-8.4-3.5-5-1-34.5 .1-1 .9-2.3 13.8-4.5 10.3-.9 10.4 .1 6.9-4 10.3 2.4 10.4 1.1 10.4-1 17.2 1.5 6.9-.4 6.9zM1246.2 600.4l93 0-.5-13.8-2.6-17.2-3.7-5.9-5.7-2.1-40.2 .4-5.8 .7-5.7 2.2-6.5 4.7-2.1 6.8-1.6 3.5-9.2 6.9-11 13.8zM1464.7 600.4l5.7 0 0-3-6 3z"/>
<path fill="#c1ff36" d="M102.3 600.4l125.1 0-13.2-6.9-14.2-2.9-17.2-1.9-40.3-1.5-23 .2-5.7 .5-5.8 1.4-1.7 .7-6.4 10.4zM395.5 600.4l255.6 0 0-6.9 .8-3.5-1-6.8-2.5-7.2-1.6-3.2-2.7-3.4-3.8-10.4-2.1-10.4-.7-10.3 6.6-10.4 5.8-6.9-13-10.9-11.5-6.2-11.5-2.8-11.5-1.7-5.7 2.4-3.6 5.4-1.1 3.5-1.1 1.1-5.7 3.4-34.5 5.6-5.8-.7-5.7-1.7-11.5-5.1-19.6-2.6-14.9-2.8-28.8-2.9-11.5-1.7-10.5-2.9-6.7-3.5-34.5 0-1.8 6.9-.9 6.9-4.6 10.3-.8 10.4 .2 6.9-3.8 10.3 2.3 10.4 1.3 10.4-.9 17.2 1.8 6.9-.3 6.9zM1252 600.4l86.8 0-.6-13.8-2.5-17.2-3.3-5.2-5.7-2.2-40.2 .4-5.8 1-5.7 2.4-4.9 3.6-2.9 10.3-9.5 6.9-10.5 13.8zM1470.4 600.4l0-2-4 2z"/>
<path fill="#caff2c" d="M102.3 600.4l123.8 0-13-6.9-13.1-2.7-11.5-1.5-17.2-1.2-28.8-.9-23 .3-5.7 .5-5.8 1.4-1.4 .6-6.5 10.4zM395.5 600.4l255 0 0-6.9 .8-3.5-1-6.8-2.7-7-2-3.4-3-3.4-4-10.4-2.7-10.4-.2-10.3 6.3-10.4 5.5-6.9-12.2-10.3-9.9-5.3-11.5-3.3-11.5-1.8-5.7 2.5-2.9 4.4-1.3 3.5-1.6 1.7-5.7 3.2-23 3.6-11.5 2.3-5.8-.8-5.7-1.6-11.5-4.8-5.8-1-40.2-5.4-28.8-2.8-11.5-2.5-5.7-2.2-17.2-.7-17.3 0-2.2 11-4.7 10.3-.4 17.3-3.6 10.3 2.3 10.4 1.5 10.4-.7 17.2 2.1 6.9-.2 6.9zM1252 600.4l86.3 0-.4-13.8-2.6-17.2-2.9-4.5-5.7-2.2-40.2 .4-5.8 1.2-3.8 1.6-5.3 3.5-2 10.3-9.2 6.9-10.6 13.8zM1470.4 600.4l0-1-2 1z"/>
<path fill="#d1ff26" d="M102.3 600.4l122.6 0-12.9-6.9-12-2.5-11.5-1.5-17.2-1.3-28.8-.9-23 .2-5.7 .6-5.8 1.4-1.2 .5-6.5 10.4zM401.2 600.4l248.6 0 0-6.9 .8-3.5 0-3.4-.9-3.4-3.1-7-2.1-3.4-3.3-3.4-4.3-10.4-3.2-10.4 .3-10.3 5.9-10.4 5.2-6.9-12.5-10.3-7.2-3.9-11.5-3.6-11.5-2.1-5.7 2.7-2.3 3.4-1.4 3.5-2.1 2.3-5.7 3.1-30.6 4.9-3.9 1.6-11.5-2.8-11.5-4.5-11.5-2-40.3-4.9-28.7-2.1-11.5-2.5-17.2-1.4-17.3 0-1.6 8.3-4.9 10.3-.2 17.3-3.3 10.3 3.9 20.8-.6 17.2 1.8 6.9 0 6.9zM1257.7 600.4l80.3 0-.5-13.8-2.7-17.2-2.4-3.8-5.7-2.3-40.2 .5-7.5 2.1-5.8 3.5-1.3 10.3-8.8 6.9-2.1 3.4-3.3 3.5-5.2 6.9z"/>
<path fill="#dbff1c" d="M102.3 600.4l121.3 0-12.7-6.9-10.9-2.3-11.5-1.6-17.2-1.3-28.8-.9-23 .2-5.7 .5-5.8 1.5-1 .4-6.5 10.4zM401.2 600.4l247.9 0 0-6.9 .9-3.5 .1-3.4-1.1-3.4-3.3-7-2.3-3.4-3.6-3.4-4.6-10.4-3.7-10.4 .8-10.3 1.4-3.5 9-13.8-12.9-10.3-4.4-2.4-11.5-4.1-11.5-2.3-5.7 2.9-3.1 5.9-2.7 2.9-5.7 2.9-28 4.5-6.5 2.6-5.8-1-17.2-6.3-17.3-2.9-34.5-3.8-34.5-1.6-22.9-2.8-17.3 0-1.1 5.5-5 10.3 0 17.3-3 10.3 4 20.8-.5 17.2 1.6 6.9 0 6.9zM1257.7 600.4l79.9 0-.4-13.8-2.8-17.2-2-3.1-5.7-2.4-40.2 .6-5.8 1.6-6 3.3-.4 10.3-8.5 6.9-4.3 6.9-3.8 3.4-2.6 3.5z"/>
<path fill="#e4ff13" d="M102.3 600.4l120.2 0-12.5-6.9-10-2.1-11.5-1.6-17.2-1.4-28.8-1-23 .3-5.7 .5-5.8 1.5-.8 .3-6.5 10.4zM401.2 600.4l247.2 0 0-6.9 1-3.5 .2-3.4-1.2-3.4-3.6-7-2.2-3-4.3-3.8-9.1-20.8 1.4-10.3 1.1-3.5 1.5-3.4 7.1-10.4-14.9-11.2-11.5-4.5-11.5-2.6-5.7 3.1-2.6 4.9-3.2 3.4-5.7 2.8-25.3 4.1-9.2 3.6-5.8-.9-17.2-6.4-11.5-2.3-17.3-2.1-23-2.2-40.2 0-17.2-2.8-17.3 0-.5 2.8-5.2 10.3 .2 17.3-2.7 10.3 4.3 20.8-.4 17.2 1.2 6.9 0 6.9zM1263.5 600.4l73.8 0-.5-13.8-2.8-17.2-1.6-2.5-5.7-2.4-40.2 .7-5.8 1.8-4.3 2.4 .4 10.3-8.2 6.9-1.4 3.4-3.7 5.9-5.8 4.5z"/>
<path fill="#ebff0c" d="M102.3 600.4l119.2 0-12.5-6.9-9-1.9-17.2-2.3-11.5-.8-28.8-1-23 .2-5.7 .6-5.8 1.5-7.1 10.6zM401.2 600.4l246.8 0 0-6.9 1.1-6.9-1.3-3.4-5.2-8.7-5.7-5.1-2.7-7-2.5-3.4-2.5-6.9-2.2-3.5 1.8-10.3 2.1-6.9 7-10.4-13.5-10.3-10.5-4.4-11.5-2.8-5.7 3.4-2.1 3.8-3.7 4-5.7 2.7-22.6 3.6-11.9 4.7-5.8-1-9-3.7-11-3.4-14.5-2.6-17.2-2-17.3-1.1-11.5 .5-28.7-.4-17.2-1.3-17.3 0-5.2 10.3 .3 17.3-2.4 10.3 4.5 20.8-.3 17.2 .9 6.9 0 6.9zM1269.2 600.4l67.7 0-.4-13.8-3-17.2-1.1-1.8-5.7-2.5-40.2 .8-8.5 3.5 1.4 10.3-8.1 6.9-2.2 6.9-1.9 3.4-3.2 3.5z"/>
<path fill="#f4f802" d="M102.3 600.4l118.2 0-5.4-3.5-7-3.4-8.1-1.7-17.2-2.4-11.5-.8-28.8-1.1-23 .3-5.7 .6-5.8 1.5-6.9 10.5zM401.2 600.4l246.5 0 0-6.9 .9-6.9-1.4-3.4-4.6-7.4-2.5-3-4.1-3.4-3.1-7-2.6-3.4-2.9-6.9-2.5-3.5 3.6-17.2 6.8-10.4-13.6-10.3-8.2-3.5-11.1-2.9-5.7 3.6-1.5 2.8-4.3 4.6-5.1 2.3-20.6 3.4-14.5 5.7-5.8-.9-11.7-4.8-11.3-3.1-11.5-2.1-17.2-2-17.3-.7-11.5 1.1-28.7-.9-17.2-1.7-17.3 .1-4.7 9.3 .3 17.3-2 10.3 4.7 20.8-.1 17.2 .5 13.8zM1275 600.4l61.5 0-.4-13.8-3-17.2-.7-1.1-5.7-2.6-40.2 .9-6.9 2.8 2.4 10.3-8 6.9-1.1 6.9-2.5 6.9z"/>
<path fill="#fbf100" d="M102.3 600.4l117.2 0-5.2-3.5-7.2-3.4-7.1-1.5-12.8-2-15.9-1.3-28.8-1.1-23 .2-5.7 .6-5.8 1.6-6.6 10.4zM401.2 600.4l246.1 0 0-6.9 .8-6.9-1.5-3.4-4.5-7-7-6.8-1.5-3.5-10.3-17.3 2.1-10.3 .7-6.9 6.5-10.4-13.5-10.3-8.6-3.5-8.1-2.1-5.7 3.8-3.6 5.3-2.2 1.7-3.8 1.7-19.2 3.4-17.2 6.7-5.8-.8-14.7-5.9-8.3-2.2-11.5-2.2-17.2-2-17.3-.3-11.5 1.6-28.7-1.3-17.2-2.2-17.3 .3-4.1 8.3 .2 17.3-1.6 10.3 5 20.8 .1 31zM1280.7 600.4l55.5 0-.4-13.8-3.1-17.2-6-3.1-40.2 1-5.2 2.1 3.4 10.3-8 6.9-1.1 13.8z"/>
<path fill="#ffe600" d="M102.3 600.4l116.2 0-5-3.5-7.4-3.4-6.1-1.4-13.9-2.1-14.8-1.2-28.8-1.1-23 .2-5.7 .6-5.6 1.5-4 6.9-2.6 3.5zM407 600.4l239.9 0 .7-13.8-1.5-3.4-4.9-7-7.1-6.8-9.9-17.3-2.6-3.5 2.1-17.2 6.1-10.4-13.1-10.3-8.5-3.2-5.8-1.6-5.7 4-2.9 4.3-2.9 2.3-2.5 1.1-3.2 1.1-14.6 2.3-19.9 7.8-5.8-.8-17.8-7-5.2-1.3-11.5-2.3-17.2-2.1-5.8-.3-11.5 .4-11.5 2.2-28.7-1.7-17.2-2.6-17.3 .5-3.6 7.2 .3 17.3-1.2 10.3 4 17.3 1.7 3.5-.4 10.3 .6 10.3-.2 10.4zM1280.7 600.4l55.1 0-.4-13.8-3-15.8-.6-1.4-5.1-2.5-40.2 1.1-3.5 1.4 2.4 6.8 1.9 3.5-8 6.9-1 6.9-.2 6.9z"/>
<path fill="#ffde00" d="M102.3 600.4l115.2 0-4.8-3.5-7.4-3.4-11-2.1-23-2.5-28.8-1.2-23 .3-5.7 .6-5.4 1.4-4 6.9-2.6 3.5zM407 600.4l239.5 0 .6-13.8-1.6-3.4-5.2-7-7.1-6.8-3.7-7-2.9-3.4-3.7-6.9-3-3.5 1.5-17.2 5.7-10.4-12.9-10.3-11.8-4-5.5 4-2.4 3.5-4.8 3.4-4.5 1.5-12 1.9-22.5 8.8-5.8-.7-21.3-8.1-7.4-1.8-23-3.1-5.8-.3-11.5 .8-11.5 2.7-28.7-2.1-17.2-3-17.3 .6-3.1 6.2 .3 17.3-.6 10.3 3.4 15.2 3.5 5.6-.8 10.3 .8 6.9 0 13.8zM1280.7 600.4l54.8 0-.4-13.8-2.7-12.9-1.9-4.3-3.8-1.9-28.7 .6-11.5 .6-1.8 .7 1.8 4.4 1.9 2.4 1.6 3.5-8 6.9-1.4 6.9 0 6.9z"/>
<path fill="#ffd300" d="M102.3 600.4l114.5 0-4.9-3.5-7.5-3.4-10.1-2-23-2.5-28.8-1.2-23 .2-5.7 .6-5.1 1.4-4 6.9-2.7 3.5zM412.7 600.4l233.5 0 .5-13.8-1.8-3.4-5.4-7-7.2-6.8-3.7-7-3.2-3.4-3.8-6.9-3.1-3.5 .7-17.2 5.2-10.4-12.5-10.3-9.5-3.2-4.4 3.2-2.8 3.5-4.3 3.4-5.7 1.9-9.3 1.5-25.2 9.8-5.8-.6-24.7-9.2-4-.9-23-3.2-5.8-.3-11.5 1.2-11.5 3.2-28.7-2.5-17.2-3.5-17.3 .8-2.6 5.2 .2 27.6 2.4 11.5 4.2 5.8 1.7 3.5-1.2 10.3 1.2 6.9 0 13.8zM1286.5 600.4l48.6 0-.4-13.8-2.3-10.1-3.2-7.1-2.5-1.3-17.3 .2-22.9 1.1 4.3 3.4 1.8 6.9-7.9 6.9-2.2 6.9 0 6.9z"/>
<path fill="#ffcc00" d="M102.3 600.4l113.9 0-5.1-3.5-7.5-3.4-9.3-1.8-23-2.7-28.8-1.1-23 .2-5.7 .6-4.8 1.3-4.1 6.9-2.7 3.5zM412.7 600.4l233.1 0 .4-13.8-1.9-3.4-5.7-7-3-3.4-4.2-3.4-3.8-7-3.2-3.4-1.7-3.4-5.5-7-.7-10.3 1-6.9 2.1-6.5 2.1-3.9-12.2-10.3-7.1-2.4-11.5 9.9-5.7 1.8-6.6 1-4.9 2.5-23 8-5.8-.2-5.7-1.7-23-8.7-23-3.3-5.8-.2-5.7 .7-17.3 3.6-28.7-1.9-7.7-2.2-9.5-1.7-17.3 .9-2.1 4.2 .8 27.6 1.3 6.7 5.1 7.1 3.1 7-1.6 10.3 1.6 6.9 0 13.8zM1286.5 600.4l48.3 0-.4-13.8-.9-3.4-3.9-10.4-1.6-3.4-1.3-.7-27.3 .7-1.4 1-1.5 2.4-1.2 6.9-8 6.9-.8 1.9-2 5 0 6.9z"/>
<path fill="#ffc100" d="M108 600.4l107.6 0-5.3-3.5-7.6-3.4-8.4-1.6-23-2.8-28.8-1.2-23 .3-5.7 .6-4.6 1.2-2.4 3.5-1.6 3.4-2.7 3.5zM412.7 600.4l232.7 0 .3-13.8-2-3.4-8.7-10.4-4.3-3.4-4.1-7-3.1-3.4-1.9-3.4-5.7-7-1.7-10.3 2.5-10.4 2.4-6.9-12-10.3-4.7-1.6-9.3 8.5-2.2 1.2-9.6 2.2-6.7 3.5-6.7 1.7-13.3 5.2-3.9 .5-9.4-.5-28.7-10.4-19.4-2.6-5.8-.1-23 4-28.7-1.3-5.7-1.8-11.5-2.4-17.3 1.1-1.6 3.1 0 10.4 .9 13.8 .7 4.8 6.3 9 1.9 3.4 2.3 7-2 10.3 2 6.9 0 13.8zM1292.2 600.4l42.2 0-.6-10.4 .2-3.4-1.6-5.8-1-1.1-4.7-10.3-11.5 0-5.8 .9-5.7 2.9-3.4 3-2.3 3.5-8 6.9-3.5 6.9 0 6.9z"/>
<path fill="#ffb600" d="M108 600.4l106.9 0-5.3-3.5-7.7-3.4-7.6-1.5-23-2.8-28.8-1.2-23 .2-5.7 .7-4.3 1.1-6.7 10.4zM418.5 600.4l226.6 0 .2-13.8-2.2-3.4-8.7-10.4-4.4-3.4-4.3-7-3.2-3.4-4.7-6.9-3.2-3.5-2.6-10.3 1.9-5.5 2.8-11.8-12-10.3-2.3-.8-8.2 7.7-3.3 1.8-7 1.6-5.3 3.5-10.7 2.8-10.7 4.1-6.5 .8-13.3-.8-27-9.7-17.2-2.5-5.8-.1-23 3.9-28.7-.7-5.7-2-11.5-2.7-17.3 1.3-1.1 2.1 0 10.4 1.1 13.2 5.8 7.1 4.3 7.3 2.8 10.4-2.4 10.3 2.4 6.9 0 13.8zM1292.2 600.4l41.8 0-.6-10.4 .3-3.4-1.3-4.5-2.1-2.4-3.6-7.9-5.8-.1-5.7 .8-5.8 2-6.3 5.2-5.1 2.3-5.4 4.6-2.7 6.9 0 6.9z"/>
<path fill="#ffae00" d="M108 600.4l106.3 0-5.5-3.5-7.8-3.4-6.7-1.3-23-2.9-28.8-1.2-23 .2-5.7 .6-4 1.1-1.8 2.1-2.4 4.8-2.5 3.5zM418.5 600.4l226.2 0 .1-13.8-2.2-3.4-3.6-3.5-5.2-6.9-4.5-3.4-3.9-6.2-3.8-4.2-5-6.9-3.4-3.5-1.9-6.8-1.6-3.5 3-6.9 1.5-10.4-11.8-10.3-2.6 3.5-4.5 3.4-4.4 2.3-4.5 1.1-3.8 3.5-3.2 1.4-11.5 2.4-8 3.1-9.2 1.1-17.3-1.1-17.2-6.7-5.8-1.7-8.9-2-8.3-1-5.8-.1-11.5 2.2-11.5 1.5-11.5-.4-17.2 .4-6.8-2.6-10.4-2.5-17.3 1.4-.6 1.1 0 10.4 .6 7.9 5.7 5.9 2.5 3.4 5.6 10.4 1.4 10.4-2.8 10.3 2.8 6.9 0 13.8zM1298 600.4l35.7 0-.7-10.4 .3-3.4-.9-3.3-3.3-3.6-2.4-5.4-5.8-.3-7.3 2.2-5.3 3.5-8.5 3.5-4.5 3.4-1.9 6.9 0 6.9z"/>
<path fill="#ffa300" d="M108 600.4l105.7 0-5.6-3.5-7.9-3.4-5.9-1.2-23-2.9-28.8-1.3-23 .3-5.7 .6-3.8 1-2 2.4-2.1 4.5-2.5 3.5zM424.2 600.4l220.1 0 0-13.8-2.3-3.4-3.7-3.5-5.2-6.9-4.4-3.4-3.3-5.2-4.8-5.2-5.1-6.9-3.6-3.5-2.4-6.8-1.9-3.5 3.5-6.9 .8-10.4-9.5-8.2-1 1.4-5 3.4-5.5 2.9-2.2 .5-3.5 4.6-5.8 2.2-11.5 1.5-5.3 2.1-11.9 1.4-20.6-1.4-19.7-7.1-17.2-3.6-5.8 0-11.5 2.2-11.5 1.3-11.5-.3-17.2 1-5.7-1.3-4.5-2.6-7-1.7-17.3 1.6 0 11.4 2.6 2.5 8.1 10.4 4 6.9 2.8 6.9 .1 10.4-3.3 10.3 3.2 6.9 .2 13.8zM1298 600.4l35.3 0-.7-10.4 .4-3.4-.6-2-4.4-4.9-1.3-2.9-5.8-.5-7.4 3.4-9.8 3.4-5.7 3.5-1.2 6.9 0 6.9z"/>
<path fill="#ff9c00" d="M108 600.4l105.1 0-5.8-3.5-7.3-3.1-5.7-1.3-23-3-28.8-1.3-23 .2-9.2 1.6-2.3 2.7-1.9 4.2-2.4 3.5zM424.2 600.4l219.7 0 0-13.8-2.4-3.4-4.6-4.4-1.4-2.6-3-3.4-4.5-3.4-4.9-7-3.5-3.4-5.3-6.9-3.7-3.5-2.4-6-2.4-4.3 3.7-6.9 0-10.4-7.1-6.1-3.7 2.7-7.6 3.4-5.9 7.5-5.8 1.1-11.5 .8-2.7 1-14.5 1.7-24-1.7-16.3-5.8-17.2-3.8-5.8-.1-11.5 2.1-11.5 1.1-11.5-.3-17.2 1.6-5.7-.6-4-1.1-1.8-1-2.2-2.5-3.5-.8-9.1 .8 0 10.4 3.1 6.9 6 9.7 3 11-.3 10.4-1.6 3.4-2.1 6.9 3.1 6.9 1.9 13.8zM1303.7 600.4l29.3 0-.2-6.9-.7-3.5 .3-4.2-5.7-6.5-5.8-.6-13.7 4.5-6.4 3.4-.6 13.8z"/>
<path fill="#ff9100" d="M108 600.4l104.4 0-5.8-3.5-8.1-3.4-10-1.8-17.2-2.1-28.8-1.3-23 .2-8.9 1.5-2.6 3-1.7 3.9-2.2 3.5zM430 600.4l213.6 0-.2-13.8-2.5-3.4-4-3.5-1.9-3.5-3.1-3.4-4.6-3.4-2.2-3.5-11.2-13-4.6-4.3-3.1-6.8-2.3-3.5 4-6.9-.2-3.5-.6-6.9-4.7-4.1-9.1 4.1-4.6 6.9-3.5 3.5-17.3 0-17.2 2-17.3-.9-10-1.1-13-4.5-17.2-3.8-5.8-.2-17.2 2.2-17.3 .2-17.2 2.2-16 .4-1.1 3.5 0 6.9 5.8 20.7-.8 10.4-2.1 3.4-2.4 6.9 3.4 6.9 3.7 13.8zM1309.4 600.4l23.2 0-.1-6.9-1.1-3.5 .7-3.4-5.4-6.1-5.8-.2-10 2.9-7.2 3.4 0 13.8z"/>
<path fill="#ff8900" d="M108 600.4l103.8 0-6-3.5-8.1-3.4-9.2-1.7-17.2-2.1-28.8-1.4-23 .2-8.7 1.5-2.8 3.3-1.4 3.6-2.2 3.5zM430 600.4l213.2 0-.2-13.8-2.6-3.4-3.9-3.5-2-3.5-3.2-3.4-4.7-3.4-2.3-3.5-6.6-6.9-3.8-4.9-6-5.5-3.3-6.8-2.5-3.5 4.2-6.9-1.6-10.4-2.3-2-6.9 2-4.6 8-2.2 2.4-3.5 .6-17.3-.1-17.2 1.8-17.3-.8-13.4-1.5-9.6-3.2-17.2-3.8-5.8-.4-17.2 1.8-17.3 .2-5.7 .5-17.2 3-5.6 1.9-2.3 6.9 5.1 20.7-1.2 10.4-2.6 3.4-3 6.9 4 6.9 3.7 10.3zM1309.4 600.4l22.7 0-.3-6.9-1.1-3.5 .5-3.4-4.5-5.1-5.8-.2-6.3 1.9-8 3.4-.4 13.8z"/>
<path fill="#ff7e00" d="M108 600.4l103.2 0-6.1-3.5-8.3-3.4-8.3-1.5-17.2-2.2-28.8-1.4-23 .2-8.4 1.4-3 3.5-1.3 3.4-2.1 3.5zM435.7 600.4l207.1 0-.3-13.8-2.6-3.4-3.8-3.5-2.1-3.5-2.9-3-5.1-3.8-2.5-3.5-9.6-10.6-7.2-6.7-6.1-10.3 4.1-6.9-2.3-10.2-5.7 2.1-4.7 8.1-6.8 1.3-17.3-.4-17.2 1.8-17.3-.9-16.7-1.8-6.3-1.9-17.2-3.9-5.8-.4-23 1.6-11.5-.2-11.5 1.8-11.4 3-2.8 3.4-1.7 3.5 1.7 10.3 2.8 10.4-1.6 10.4-3.3 3.4-3.3 6.9 4.5 6.9 3.7 8 3.7 5.8zM1309.4 600.4l21.9 0-.3-6.9-.9-3.5 .2-3.4-3.6-4.1-5.8-.1-11.5 4.2-.7 6.9 0 6.9z"/>
<path fill="#ff7700" d="M108 600.4l102.6 0-10.6-5.4-4-1.5-7.5-1.4-17.2-2.2-28.8-1.4-23 .2-8.2 1.3-2.8 3.5-3.5 6.9zM435.7 598.6l1.8 1.8 205 0-.4-13.8-2.8-3.4-2.4-2.1-5.8-7.4-5.8-4.3-5.7-7-14.2-13.8-6.4-10.3 .9-3.5 3.3-3.4-.8-3.3-5.7-.2-2.1 3.5-3.7 1.5-5.7 .4-17.3-.5-17.2 1.6-17.3-.8-20.9-2.2-19.3-4.5-5.8-.5-23 1-11.5-.1-11.5 2.1-5.7 2-4.2 3.4-2.6 3.5 1.1 10.3 2.9 10.4-2 10.4-4.1 3.4-3.7 6.9 2 3.5 3.1 3.4 1.8 3.7 4.3 6.6zM1315.2 600.4l15.3 0-1-13.8-2.8-3.1-5.8-.1-8.6 3.2-1.1 6.9 0 6.9z"/>
<path fill="#ff6c00" d="M108 600.4l102 0-10-5.1-4.9-1.8-6.6-1.2-17.2-2.3-28.8-1.5-23 .2-7.9 1.3-2.8 3.5-3.5 6.9zM441.4 600.4l200.7 0-.5-13.8-4.7-5.1-5.8-7.3-6.5-4.8-5.8-7-14.6-13.8-6.8-10.3-.7-4.6-11.5 .3-17.3-.8-17.2 1.5-17.3-.7-25.8-2.6-14.4-3.2-5.8-.6-28.7 .2-5.8 .2-5.7 1-8.6 2.4-6.3 6.9 .6 10.3 2.8 10.4-2.4 10.4-4.8 3.4-2.5 3.4-1.6 3.5 2 3.5 3.6 3.4 5.7 8.2 5.7 5.6zM1315.2 600.4l14.6 0-.2-6.9-1-6.9-1.9-2.1-5.8 0-5.7 2.1-1.4 6.9 0 6.9z"/>
<path fill="#ff6000" d="M108 600.4l101.3 0-9.3-4.7-5.7-2.2-5.8-1.1-17.9-2.4-28.1-1.4-23 .2-7.6 1.2-2.8 3.5-3.4 6.9zM441.4 597.2l4 3.2 196.4 0-.6-13.8-10.1-11.9-7.2-5.3-5.9-7-15.1-13.8-4.3-6.8-2.7-3.5-5-3.3-23-1.3-17.2 1.3-17.3-.7-31.6-2.9-14.4-2.6-34.5-.1-11.5 2.7-1.9 3.4-3.8 3.5 0 10.3 1.3 3.5 .9 6.9-1.1 3.4-1.1 7-5.7 3.6-2.8 3.2-1.8 3.5 2.3 3.5 4.2 3.4 3.8 5.2 5.5 5.1zM1320.9 600.4l8.1 0-.1-6.9-1.2-6.9-1-1.2-5.8 .1-2.8 1.1-1.8 6.9 0 6.9z"/>
<path fill="#ff5900" d="M108 600.4l100.7 0-8.7-4.4-6.5-2.5-5-.9-19.2-2.6-26.8-1.3-23 .2-7.4 1.1-2.7 3.5-3.4 6.9zM447.2 598.8l2.2 1.6 192 0 .1-6.9-.7-6.9-9.7-11.4-7.9-5.8-6-7-4.5-3.4-11-10.4-4.5-6.8-2.9-3.5-3.4-2.3-10.9-1.2-12.1-.6-17.2 1.1-17.3-.6-28.7-2.3-17.3-2.5-28.7-.9-5.8 .4-8.6 2-.9 3.4-2 3.5 0 10.3-1.2 10.4-1.9 3.4-1.6 7-6.7 5.1-3.5 5.2 3.5 4.3 3.8 2.6 2.5 3.4 8.6 6.9zM1320.9 600.4l7.3 0-.1-6.9-1.4-7.1-5.8 .2-.6 3.4-1.5 3.5 0 6.9z"/>
<path fill="#ff4e00" d="M108 600.4l100.1 0-8.1-4.1-7.3-2.8-4.2-.8-20.5-2.7-25.5-1.3-23 .2-7.1 1.1-2.7 3.5-3.4 6.9zM452.9 600.1l188.2 .3 0-6.9-.8-6.9-9.2-10.9-8.6-6.3-6.1-7-4.8-3.4-11.1-10.4-3.8-5.8-4-4.5-1.8-1.2-5.7-1.2-17.3-1.3-17.2 1-17.3-.5-34.5-2.5-17.2-1.9-23-1-5.8 .3-5.7 1.4 0 17.2-2.7 3.5-2.1 6.9-2.5 3.4-2.2 7-7.7 6.6-2.5 3.7 2.9 3.5 5.3 3.4 2.6 3.4 3.1 2.3 3 1.2 4.2 3.4zM1326.7 600.4l.8 0-.1-6.9-.7-3.8-5 3.8 0 6.9z"/>
<path fill="#ff4700" d="M108 600.4l99.5 0-7.5-3.8-8-3.1-3.5-.7-21.8-2.8-24.2-1.2-23 .2-6.8 1-2.7 3.5-3.4 6.9zM452.9 597.4l4.4 3 183.4 0 .1-6.9-.9-6.9-8.8-10.4-9.3-6.8-6.3-7-5.1-3.4-11.1-10.4-4.9-6.8-3.2-3.5-6-1.7-17.3-1.5-23 .7-46-2.4-20.1-2-20.1-1.1-8.6 1.1 .9 3.4 1.9 3.5 0 10.3-4.6 3.5-1.1 1.4-2.6 5.5-3.2 3.6-2.7 6.8-7.7 6.8-2.5 3.5 3.2 3.5 5.4 3.4 3.2 3.4 7.6 3.5 4.4 3.4z"/>
<path fill="#ff3b00" d="M108 600.4l98.8 0-6.8-3.5-8.8-3.4-2.7-.5-23.1-3-22.9-1.1-23 .2-6.6 .9-2.6 3.5-3.4 6.9zM458.7 598.8l2.6 1.6 179.1 0 .1-6.9-1-6.9-8.4-9.9-10-7.3-6.4-7-5.4-3.4-11.2-10.4-7.2-9-1.9-1.3-3.8-1.1-17.3-1.7-17.2 .7-23-.6-51.8-2.5-8.6-1.7-8.6-.5-5.8 .5 5.8 6.9 0 10.3-5.8 2.8-4.1 4.2-1.9 3.4-3.9 3.4-3.3 7-7.4 6.8-2.8 3.5 3.5 3.5 5.6 3.4 3.6 3.4 5 2.5 4.2 1 4.6 3.4z"/>
<path fill="#ff3400" d="M108 600.4l98.2 0-6.9-3.5-10.8-3.8-24.4-3.1-21.6-1.1-23 .2-6.3 .9-2.5 3.5-3.5 6.9zM464.4 599.9l.5 .5 175.1 0 .1-6.9-1.1-6.9-7.9-9.4-10.7-7.8-6.5-7-5.7-3.4-11.3-10.4-6-7.5-4.1-2.8-18.9-2.3-17.2 .6-63.3-1.7-17.2 1-5.8 2.4 0 10.3-5.7 1.9-5.8 3.7-3.8 4.8-4.7 3.4-2.2 3.5-1.5 3.5-10.1 10.3 3.8 3.5 5.6 3.4 3.9 3.4 3.3 1.7 7.6 1.8 4.9 3.4z"/>
<path fill="#ff2900" d="M108 600.4l97.6 0-5.6-2.8-11.5-4.3-25.7-3.3-20.3-1-23 .2-6 .8-2.5 3.5-3.4 6.9zM464.4 597.6l2.7 2.8 172.6 0 .1-6.9-1.2-6.9-7.5-8.9-11.5-8.3-6.6-7-6-3.4-11.3-10.4-5.6-6.8-4.9-3.2-17.3-2.1-17.2 .4-46-1.1-17.3 .4-14.3 2.1-2 3.5-2.1 6.8-10.3 3.7-4.4 3.3-3 3.4-4.1 2.3-4 4.6-1.5 3.5-10.1 10.3 14 10.3 7.3 2.7 5.4 .8 5.1 3.4z"/>
<path fill="#ff1e00" d="M108 600.4l97 0-5-2.5-11.5-4.5-27-3.4-19-1-23 .2-5.8 .8-2.4 3.5-3.4 6.9zM470.2 600.4l169.1 0 .2-6.9-1.3-6.9-7.1-8.4-11.5-8.3-7.4-7.5-6.3-3.4-11.4-10.4-5.8-6.8-3.5-2.4-5.2-1.1-12.1-1.4-17.2 .3-40.3-.7-17.2 .5-11.5 1.3-3.9 3.5-4.2 6.8-3.4 .7-7.9 2.8-5.5 3.5-3.3 3.4-6.3 3.4-2.9 3.5-1.8 3.5-9.9 10.3 4 3.5 6.3 3.4 4.4 3.4 5.6 2.1 8.9 1.4 2.6 1.7 4.9 5.2z"/>
<path fill="#ff1600" d="M113.8 600.4l90.6 0-16.3-6.9-27.9-3.5-17.7-.9-23 .2-5.3 .7-2.6 3.5-3.3 6.9zM470.2 599.2l1.2 1.2 167.6 0 .1-6.9-1.3-6.9-6.7-7.9-5.7-4.6-5.8-3.7-8.3-8-6.6-3.4-7.1-6.9-4.3-3.5-5.9-6.8-2.2-1.5-9.2-2-8.1-.9-57.5-.3-17.2 .9-2.9 .3-5.8 3.5-3.7 3.4-2.6 3.4-8 1.5-5 2-6 3.5-3.8 3.4-2.5 .8-4.6 2.6-3 3.5-1.9 3.5-9.8 10.3 3.9 3.5 6.8 3.4 4.4 3.4 4.2 1.6 12 1.9 3 3.4z"/>
<path fill="#f60b00" d="M113.8 600.4l89.9 0-16.3-6.9-28.3-3.5-16.6-.8-23 .2-4.9 .6-2.7 3.5-3.2 6.9zM470.2 597.2l3.3 3.2 165.1 0 .2-6.9-1.5-6.9-6.2-7.4-5.7-4.6-5.8-3.6-9.2-8.6-6.8-3.4-6.9-6.8-4.6-3.6-2.5-3.4-4.4-4-5.8-1.5-11.5-1.9-57.5-.2-11.5 .7-5.7 .8-4.5 2.7-1.3 2.4-4.6 4.4-12.6 2.4-2.8 1.1-6 3.5-4 3.4-4.5 1.5-3.4 1.9-3.1 3.5-2.2 3.5-9.5 10.3 3.7 3.5 3 1.8 4.4 1.6 4.4 3.4 8.5 2.3 8 1.2 3.2 3.4z"/>
<path fill="#ed0400" d="M113.8 600.4l89.3 0-16.5-6.9-28.5-3.5-15.6-.8-23 .2-4.4 .6-2.9 3.5-3.1 6.9zM475.9 600.4l162.4 0 .2-6.9-1.6-6.9-5.8-6.9-5.7-4.7-5.8-3.5-10-9.1-7.2-3.4-5.7-5.9-5.8-4.4-2.3-3.5-3.4-3.1-5.8-1.7-11.5-2.1-34.5-.3-24.3 .3-10.2 .9-5.7 1.2-2.3 1.4-2.5 3.4-1 3.4-17.8 3.5-5.9 3.5-4.4 3.4-6.4 2.1-2.3 1.3-3.2 3.5-2.4 3.5-6.8 6.8-2.5 3.5 3.6 3.5 7.9 3.4 4.4 3.4 7.1 1.9 9.9 1.6 6.9 6.9z"/>
<path fill="#df0000" d="M113.8 600.4l88.7 0-16.7-6.9-28.8-3.5-14.5-.7-23 .2-4 .5-3 3.5-3 6.9zM475.9 599l1.7 1.4 160.3 0 .2-6.9-1.7-6.9-5.8-6.9-5.2-4.2-5.8-3.4-6.4-6.2-4.5-3.5-7.2-3.4-4.8-4.9-5.8-4.5-3.3-4.4-2.4-2.2-3.8-1.2-13.5-2.6-28.7-.8-28.8 .8-11.5 .8-5.8 1.8-3.4 3.4-1.4 3.4-.9 1-17.2 3.1-4.8 2.9-4.4 3.4-9.3 3.4-3.6 3.5-2.2 3.5-7 6.8-2.5 3.5 3.8 3.5 7 2.9 5.7 3.9 17.5 3.5 3.2 3.4z"/>
<path fill="#d60000" d="M113.8 600.4l88.1 0-16.8-6.9-29.1-3.5-13.5-.6-17.2 0-9.3 .6-3.1 3.5-3 6.9zM475.9 597.4l3.7 3 158 0 .2-6.9-1.9-6.9-5.9-6.9-4.6-3.7-5.8-3.4-7.1-6.7-4.3-3.3-5.8-2.2-1.8-1.4-3.9-4-5.8-4.5-5.7-6.6-5.8-2-11.5-1.7-28.7-.8-28.8 .7-11.5 .8-5.7 2.1-2.2 2.2-1.8 3.4-1.8 1.9-11.5 1.6-5.7 1.5-3.3 2-4.2 3.4-4 1.8-5.9 1.6-4 3.5-2.1 3.5-7 6.8-2.7 3.5 4.1 3.5 6.1 2.3 5.7 4 5.8 1.6 5.7 .5 5.8 1.3 1.9 .6 3.4 3.4z"/>
<path fill="#c80000" d="M113.8 600.4l87.4 0-6.9-3-5.8-1.7-4.2-2.2-24.5-2.5-4.8-1-12.5-.6-17.2 .1-8.8 .5-3.3 3.5-2.8 6.9zM481.7 600.4l155.5 0 .3-6.9-2-6.9-6.1-6.9-4-3.3-6.4-3.6-7.2-6.9-3.6-2.8-5.8-2-2.7-2.1-3-3.1-5.8-4.4-5.7-6.7-5.8-2.1-11.5-1.6-28.7-.7-28.8 .7-11.5 .7-5.7 2.4-5.8 7.3-11.5 1.4-5.7 1.5-5.8 4.6-5.7 2.6-5.8 1.4-3.3 2.9-2.4 3.8-5.8 5.5-3.7 4.5 3.7 3.1 5.8 2.2 5.7 4 5.8 1.7 5.7 .4 9.3 2.4 8 6.9z"/>
<path fill="#bf0000" d="M113.8 600.4l86.8 0-6.3-2.7-5.8-1.6-5-2.6-23.7-2.3-5.8-1.2-11.5-.5-25.6 .5-3.4 3.5-2.7 6.9zM481.7 599.1l1 1.3 154.1 0 .1-8-1.9-5.8-3.9-4.6-5.7-5.1-7.4-4.1-6.9-6.9-2.9-2.2-5.8-1.9-3.7-2.8-8.2-6.9-5.3-6.4-5.8-2.3-11.5-1.3-34.5-.6-34.5 1.1-5.7 2.9-5.8 6.9-11.5 1.2-5.7 1.7-5.8 4.7-5.7 2.3-5.8 1.3-2.6 2.3-3.1 4.8-5.8 5.3-3 3.7 3 2.5 5.8 2.3 5.7 3.9 5.8 1.9 11.5 1.5 5.2 1.7 3.5 3.4z"/>
<path fill="#b20000" d="M113.8 600.4l86.2 0-5.7-2.4-5.8-1.5-5.7-3-23-2.1-6.9-1.4-10.4-.4-25.1 .4-3.6 3.5-2.6 6.9zM481.7 597.8l2 2.6 152.6 0 .5-6.9-2.3-6.9-3.4-4-5.7-5.2-8.3-4.6-6.7-6.9-2.2-1.7-5.8-1.7-4.6-3.5-8.5-6.9-4.1-5.5-5.8-2.4-11.5-1.2-28.7-.5-40.3 1-5.7 3.3-4 5.3-1.8 1.3-11.5 1-3.9 1.2-1.8 .5-5.8 4.9-5.7 2.1-5.8 1.2-1.9 1.6-3.8 5.8-5.8 5.1-2.4 2.9 2.4 2 5.8 2.3 5.7 3.9 5.8 2 11.5 1.3 5.7 1.8 4.7 3.9z"/>
<path fill="#a40000" d="M113.8 600.4l85.5 0-5-2.1-5.8-1.4-6.9-3.4-21.8-1.9-7.9-1.6-9.4-.4-24.7 .4-3.4 3.5-2.8 6.9zM487.4 600.4l148.4 0 .4-6.9-2.2-6.9-2.9-3.4-5.7-5.4-9.3-5-2.8-3.4-5.1-4.7-7.2-2.3-12.8-10.3-3-4.6-5.8-2.6-11.5-1-28.7-.4-40.3 .8-5.7 3.8-2.7 4-3.1 2.2-12.8 1.3-4.4 1.4-5.8 5.1-5.7 1.8-5.8 1-1.1 1-4.6 6.8-5.8 4.9-1.7 2.1 1.7 1.5 5.8 2.2 5.7 4 5.8 2.1 11.5 1.1 5.7 1.6 2.5 1.3 3.3 3 2.9 3.9z"/>
<path fill="#9b0000" d="M113.8 600.4l84.8 0-4.3-1.8-6.9-1.7-6.9-3.4-20.7-1.7-8.9-1.8-8.4-.3-24.2 .3-3.4 3.5-2.9 6.9zM487.4 600.4l147.9 0 .3-6.9-2.1-6.9-2.4-2.9-5.7-5.4-10.3-5.5-2.4-3.4-4.5-4.2-5.8-1.3-2.8-1.5-12.6-10.3-1.8-3.7-5.8-2.7-11.5-.8-28.7-.4-40.3 .7-5 3.4-2 3.5-4.5 3.1-11.5 .7-5.7 2-5.8 5.2-11.9 2.8-2.9 3.5-2.4 4.3-6.9 6 1.1 .9 6.5 2.6 5 3.6 5.8 2.3 11.4 .9 5.8 1.4 4 2.1 1.8 1.6 3.9 5.3z"/>
<path fill="#8d0000" d="M113.8 600.4l84.1 0-3.6-1.5-8.5-2-6.5-3.4-19.5-1.4-5.8-.8-4.1-1.3-7.4-.2-23.7 .2-3.3 3.5-3 6.9zM487.4 600.4l147.4 0 .3-6.9-2-6.9-2-2.3-1.7-1.1-4-4.4-11.2-6-2-3.4-4-3.7-5.8-1.2-4.2-2.1-3.6-3.4-5.3-3.4-3.5-3.5-1.7-3.5-4.7-2.2-40.2-.8-40.3 .5-3.8 2.5-1.9 3.5-4 3.5-1.8 .6-11.5 .5-5.7 2-3.2 3.7-2.6 1.7-11.5 2.1-2.7 3.2-1.4 3.4-1.6 1.9-6.2 5 8.5 3.5 4 3.4 5.2 2 11.5 .9 5.7 1.1 5.8 3.2 4.9 6.6z"/>
<path fill="#840000" d="M113.8 600.4l83.4 0-2.9-1.2-10-2.3-6.1-3.4-18.4-1.2-5.8-.7-5.2-1.6-6.3-.2-23.3 .2-3.1 3.5-3.2 6.9zM487.4 600.1l146.8 .3 .3-6.9-1.9-6.9-1.5-1.7-2.6-1.7-3.1-4-11.5-5.7-2.3-4.1-3.4-3.2-5.8-1-5.6-2.8-5.9-5.3-3.9-1.5-2.9-3.5-1.6-3.5-3.1-1.4-40.2-.6-40.3 .3-2.5 1.7-1.3 3.5-3.2 3.5-4.5 1.5-11.5 .4-4.3 1.5-3 3.4-4.2 2.7-11.5 1.7-2.2 2.6-1.1 3.4-2.4 2.9-5.3 4 9.1 3.5 3.6 3.4 4.1 1.6 11.5 .7 6.4 1.1 5.1 2.5 3.7 4.4z"/>
<path fill="#800000" d="M113.8 600.4l82.7 0-2.2-.9-11.5-2.6-5.8-3.4-23-1.6-6.7-1.9-4.8-.1-23 .4-2.8 3.2-1.3 3.4-2.1 3.5zM487.4 598.4l1.2 2 145.1 0 .3-6.9-1.9-6.9-4.5-3.4-2.2-3.5-11.5-5.1-1.5-1.8-1.4-3.4-2.8-2.6-5.9-.9-5.6-2.4-5.8-5.4-6.8-2.5-2.3-3.5-.8-3.5-1.6-.7-80.5-.1-1.2 .8-.7 3.5-1.9 3.5-1.9 1.1-5.8 1.4-11.5 .1-2.1 .8-3.5 3.4-5.1 3.5-12.3 1.5-1.6 2-.9 3.4-2.5 3.4-4.7 3.5 9.3 3.5 3.1 3.4 3.1 1.2 11.5 .6 9.3 1.6 2.2 1.1 4.8 5.8z"/>
</g>
<g stroke="#b0b0b0" stroke-width="1.3"><line x1="435.7" y1="48.4" x2="435.7" y2="600.4"/><line x1="780.6" y1="48.4" x2="780.6" y2="600.4"/><line x1="1125.5" y1="48.4" x2="1125.5" y2="600.4"/><line x1="90.8" y1="531.4" x2="1470.4" y2="531.4"/><line x1="90.8" y1="462.4" x2="1470.4" y2="462.4"/><line x1="90.8" y1="393.4" x2="1470.4" y2="393.4"/><line x1="90.8" y1="324.4" x2="1470.4" y2="324.4"/><line x1="90.8" y1="255.4" x2="1470.4" y2="255.4"/><line x1="90.8" y1="186.4" x2="1470.4" y2="186.4"/><line x1="90.8" y1="117.4" x2="1470.4" y2="117.4"/></g>
<g stroke="#000" stroke-width="1.1"><line x1="90.8" y1="601.7" x2="90.8" y2="605.4"/><line x1="435.7" y1="601.7" x2="435.7" y2="605.4"/><line x1="780.6" y1="601.7" x2="780.6" y2="605.4"/><line x1="1125.5" y1="601.7" x2="1125.5" y2="605.4"/><line x1="1470.4" y1="601.7" x2="1470.4" y2="605.4"/><line x1="89.5" y1="600.4" x2="85.1" y2="600.4"/><line x1="89.5" y1="531.4" x2="85.1" y2="531.4"/><line x1="89.5" y1="462.4" x2="85.1" y2="462.4"/><line x1="89.5" y1="393.4" x2="85.1" y2="393.4"/><line x1="89.5" y1="324.4" x2="85.1" y2="324.4"/><line x1="89.5" y1="255.4" x2="85.1" y2="255.4"/><line x1="89.5" y1="186.4" x2="85.1" y2="186.4"/><line x1="89.5" y1="117.4" x2="85.1" y2="117.4"/><line x1="89.5" y1="48.4" x2="85.1" y2="48.4"/></g>
<rect x="90.8" y="48.4" width="1379.6" height="552.0" fill="none" stroke="#000" stroke-width="2.7"/>
<text xml:space="preserve" style="white-space:pre" x="780.3" y="40" font-size="35" text-anchor="middle" textLength="1313" lengthAdjust="spacingAndGlyphs">WRF-Chem Bac. Coeff. 300nm  20251206 00UTC 48h fcst at AMOLITE lidar site</text>
<g font-size="29.4" text-anchor="end">
<text x="80.6" y="59">8</text>
<text x="80.6" y="128">7</text>
<text x="80.6" y="197">6</text>
<text x="80.6" y="266">5</text>
<text x="80.6" y="335">4</text>
<text x="80.6" y="404">3</text>
<text x="80.6" y="473">2</text>
<text x="80.6" y="542">1</text>
<text x="80.6" y="611">0</text>
</g>
<g font-size="29.4" text-anchor="middle">
<text x="90.8" y="632">0</text>
<text x="435.7" y="632">12</text>
<text x="780.6" y="632">24</text>
<text x="1125.5" y="632">36</text>
<text x="1470.4" y="632">48</text>
<text x="153.4" y="744">0</text>
<text x="404.2" y="744">2</text>
<text x="655.0" y="744">4</text>
<text x="905.9" y="744">6</text>
<text x="1156.7" y="744">8</text>
<text x="1407.5" y="744">10</text>
</g>
<text x="779.5" y="665" font-size="29.4" text-anchor="middle" textLength="291" lengthAdjust="spacingAndGlyphs">Forecast Time (Hour)</text>
<text transform="translate(50.5,325.6) rotate(-90)" x="0" y="0" font-size="29.4" text-anchor="middle" textLength="171" lengthAdjust="spacingAndGlyphs">Alt AGL (km)</text>
<path d="M156.4 687.7L91.1 699.9L156.4 712.0z" fill="#000080"/>
<path d="M1404.5 687.7L1468.9 699.9L1404.5 712.0z" fill="#800000"/>
<g shape-rendering="crispEdges">
<rect x="153.40" y="687.7" width="13.14" height="24.3" fill="#000084"/>
<rect x="165.94" y="687.7" width="13.14" height="24.3" fill="#00008d"/>
<rect x="178.48" y="687.7" width="13.14" height="24.3" fill="#00009b"/>
<rect x="191.02" y="687.7" width="13.14" height="24.3" fill="#0000a4"/>
<rect x="203.56" y="687.7" width="13.14" height="24.3" fill="#0000b2"/>
<rect x="216.10" y="687.7" width="13.14" height="24.3" fill="#0000bf"/>
<rect x="228.65" y="687.7" width="13.14" height="24.3" fill="#0000c8"/>
<rect x="241.19" y="687.7" width="13.14" height="24.3" fill="#0000d6"/>
<rect x="253.73" y="687.7" width="13.14" height="24.3" fill="#0000df"/>
<rect x="266.27" y="687.7" width="13.14" height="24.3" fill="#0000ed"/>
<rect x="278.81" y="687.7" width="13.14" height="24.3" fill="#0000f6"/>
<rect x="291.35" y="687.7" width="13.14" height="24.3" fill="#0000ff"/>
<rect x="303.89" y="687.7" width="13.14" height="24.3" fill="#0000ff"/>
<rect x="316.43" y="687.7" width="13.14" height="24.3" fill="#0008ff"/>
<rect x="328.97" y="687.7" width="13.14" height="24.3" fill="#0014ff"/>
<rect x="341.51" y="687.7" width="13.14" height="24.3" fill="#001cff"/>
<rect x="354.06" y="687.7" width="13.14" height="24.3" fill="#0028ff"/>
<rect x="366.60" y="687.7" width="13.14" height="24.3" fill="#0030ff"/>
<rect x="379.14" y="687.7" width="13.14" height="24.3" fill="#003cff"/>
<rect x="391.68" y="687.7" width="13.14" height="24.3" fill="#0044ff"/>
<rect x="404.22" y="687.7" width="13.14" height="24.3" fill="#0050ff"/>
<rect x="416.76" y="687.7" width="13.14" height="24.3" fill="#005cff"/>
<rect x="429.30" y="687.7" width="13.14" height="24.3" fill="#0064ff"/>
<rect x="441.84" y="687.7" width="13.14" height="24.3" fill="#0070ff"/>
<rect x="454.38" y="687.7" width="13.14" height="24.3" fill="#0078ff"/>
<rect x="466.92" y="687.7" width="13.14" height="24.3" fill="#0084ff"/>
<rect x="479.47" y="687.7" width="13.14" height="24.3" fill="#008cff"/>
<rect x="492.01" y="687.7" width="13.14" height="24.3" fill="#0098ff"/>
<rect x="504.55" y="687.7" width="13.14" height="24.3" fill="#00a0ff"/>
<rect x="517.09" y="687.7" width="13.14" height="24.3" fill="#00acff"/>
<rect x="529.63" y="687.7" width="13.14" height="24.3" fill="#00b8ff"/>
<rect x="542.17" y="687.7" width="13.14" height="24.3" fill="#00c0ff"/>
<rect x="554.71" y="687.7" width="13.14" height="24.3" fill="#00ccff"/>
<rect x="567.25" y="687.7" width="13.14" height="24.3" fill="#00d4ff"/>
<rect x="579.79" y="687.7" width="13.14" height="24.3" fill="#00e0fb"/>
<rect x="592.33" y="687.7" width="13.14" height="24.3" fill="#02e8f4"/>
<rect x="604.88" y="687.7" width="13.14" height="24.3" fill="#0cf4eb"/>
<rect x="617.42" y="687.7" width="13.14" height="24.3" fill="#16ffe1"/>
<rect x="629.96" y="687.7" width="13.14" height="24.3" fill="#1cffdb"/>
<rect x="642.50" y="687.7" width="13.14" height="24.3" fill="#26ffd1"/>
<rect x="655.04" y="687.7" width="13.14" height="24.3" fill="#2cffca"/>
<rect x="667.58" y="687.7" width="13.14" height="24.3" fill="#36ffc1"/>
<rect x="680.12" y="687.7" width="13.14" height="24.3" fill="#3cffba"/>
<rect x="692.66" y="687.7" width="13.14" height="24.3" fill="#46ffb1"/>
<rect x="705.20" y="687.7" width="13.14" height="24.3" fill="#4dffaa"/>
<rect x="717.74" y="687.7" width="13.14" height="24.3" fill="#56ffa0"/>
<rect x="730.29" y="687.7" width="13.14" height="24.3" fill="#60ff97"/>
<rect x="742.83" y="687.7" width="13.14" height="24.3" fill="#66ff90"/>
<rect x="755.37" y="687.7" width="13.14" height="24.3" fill="#70ff87"/>
<rect x="767.91" y="687.7" width="13.14" height="24.3" fill="#77ff80"/>
<rect x="780.45" y="687.7" width="13.14" height="24.3" fill="#80ff77"/>
<rect x="792.99" y="687.7" width="13.14" height="24.3" fill="#87ff70"/>
<rect x="805.53" y="687.7" width="13.14" height="24.3" fill="#90ff66"/>
<rect x="818.07" y="687.7" width="13.14" height="24.3" fill="#97ff60"/>
<rect x="830.61" y="687.7" width="13.14" height="24.3" fill="#a0ff56"/>
<rect x="843.15" y="687.7" width="13.14" height="24.3" fill="#aaff4d"/>
<rect x="855.70" y="687.7" width="13.14" height="24.3" fill="#b1ff46"/>
<rect x="868.24" y="687.7" width="13.14" height="24.3" fill="#baff3c"/>
<rect x="880.78" y="687.7" width="13.14" height="24.3" fill="#c1ff36"/>
<rect x="893.32" y="687.7" width="13.14" height="24.3" fill="#caff2c"/>
<rect x="905.86" y="687.7" width="13.14" height="24.3" fill="#d1ff26"/>
<rect x="918.40" y="687.7" width="13.14" height="24.3" fill="#dbff1c"/>
<rect x="930.94" y="687.7" width="13.14" height="24.3" fill="#e4ff13"/>
<rect x="943.48" y="687.7" width="13.14" height="24.3" fill="#ebff0c"/>
<rect x="956.02" y="687.7" width="13.14" height="24.3" fill="#f4f802"/>
<rect x="968.56" y="687.7" width="13.14" height="24.3" fill="#fbf100"/>
<rect x="981.11" y="687.7" width="13.14" height="24.3" fill="#ffe600"/>
<rect x="993.65" y="687.7" width="13.14" height="24.3" fill="#ffde00"/>
<rect x="1006.19" y="687.7" width="13.14" height="24.3" fill="#ffd300"/>
<rect x="1018.73" y="687.7" width="13.14" height="24.3" fill="#ffcc00"/>
<rect x="1031.27" y="687.7" width="13.14" height="24.3" fill="#ffc100"/>
<rect x="1043.81" y="687.7" width="13.14" height="24.3" fill="#ffb600"/>
<rect x="1056.35" y="687.7" width="13.14" height="24.3" fill="#ffae00"/>
<rect x="1068.89" y="687.7" width="13.14" height="24.3" fill="#ffa300"/>
<rect x="1081.43" y="687.7" width="13.14" height="24.3" fill="#ff9c00"/>
<rect x="1093.97" y="687.7" width="13.14" height="24.3" fill="#ff9100"/>
<rect x="1106.52" y="687.7" width="13.14" height="24.3" fill="#ff8900"/>
<rect x="1119.06" y="687.7" width="13.14" height="24.3" fill="#ff7e00"/>
<rect x="1131.60" y="687.7" width="13.14" height="24.3" fill="#ff7700"/>
<rect x="1144.14" y="687.7" width="13.14" height="24.3" fill="#ff6c00"/>
<rect x="1156.68" y="687.7" width="13.14" height="24.3" fill="#ff6000"/>
<rect x="1169.22" y="687.7" width="13.14" height="24.3" fill="#ff5900"/>
<rect x="1181.76" y="687.7" width="13.14" height="24.3" fill="#ff4e00"/>
<rect x="1194.30" y="687.7" width="13.14" height="24.3" fill="#ff4700"/>
<rect x="1206.84" y="687.7" width="13.14" height="24.3" fill="#ff3b00"/>
<rect x="1219.38" y="687.7" width="13.14" height="24.3" fill="#ff3400"/>
<rect x="1231.93" y="687.7" width="13.14" height="24.3" fill="#ff2900"/>
<rect x="1244.47" y="687.7" width="13.14" height="24.3" fill="#ff1e00"/>
<rect x="1257.01" y="687.7" width="13.14" height="24.3" fill="#ff1600"/>
<rect x="1269.55" y="687.7" width="13.14" height="24.3" fill="#f60b00"/>
<rect x="1282.09" y="687.7" width="13.14" height="24.3" fill="#ed0400"/>
<rect x="1294.63" y="687.7" width="13.14" height="24.3" fill="#df0000"/>
<rect x="1307.17" y="687.7" width="13.14" height="24.3" fill="#d60000"/>
<rect x="1319.71" y="687.7" width="13.14" height="24.3" fill="#c80000"/>
<rect x="1332.25" y="687.7" width="13.14" height="24.3" fill="#bf0000"/>
<rect x="1344.79" y="687.7" width="13.14" height="24.3" fill="#b20000"/>
<rect x="1357.34" y="687.7" width="13.14" height="24.3" fill="#a40000"/>
<rect x="1369.88" y="687.7" width="13.14" height="24.3" fill="#9b0000"/>
<rect x="1382.42" y="687.7" width="13.14" height="24.3" fill="#8d0000"/>
<rect x="1394.96" y="687.7" width="13.14" height="24.3" fill="#840000"/>
</g>
<path d="M153.4 687.7L1407.5 687.7L1468.9 699.9L1407.5 712.0L153.4 712.0L91.1 699.9z" fill="none" stroke="#000" stroke-width="2.6" stroke-linejoin="round"/>
<line x1="153.4" y1="713.3" x2="153.4" y2="717.3" stroke="#000" stroke-width="1.1"/>
<line x1="404.2" y1="713.3" x2="404.2" y2="717.3" stroke="#000" stroke-width="1.1"/>
<line x1="655.0" y1="713.3" x2="655.0" y2="717.3" stroke="#000" stroke-width="1.1"/>
<line x1="905.9" y1="713.3" x2="905.9" y2="717.3" stroke="#000" stroke-width="1.1"/>
<line x1="1156.7" y1="713.3" x2="1156.7" y2="717.3" stroke="#000" stroke-width="1.1"/>
<line x1="1407.5" y1="713.3" x2="1407.5" y2="717.3" stroke="#000" stroke-width="1.1"/>
<g font-size="29.4">
<text x="536" y="781.3" textLength="255" lengthAdjust="spacingAndGlyphs">Bac. Coeff. 300nm</text>
<text x="810.5" y="781.3">(</text>
<text x="822" y="781.3" textLength="35" lengthAdjust="spacingAndGlyphs">10</text>
<text x="895" y="781.3" textLength="26" lengthAdjust="spacingAndGlyphs">m</text>
<text x="960" y="781.3" textLength="27" lengthAdjust="spacingAndGlyphs">sr</text>
<text x="1017.5" y="781.3">)</text>
</g>
<g font-size="20">
<text x="857.5" y="770.5" textLength="27" lengthAdjust="spacingAndGlyphs">&#8722;6</text>
<text x="922.5" y="770.5" textLength="28" lengthAdjust="spacingAndGlyphs">&#8722;1</text>
<text x="988" y="770.5" textLength="27.5" lengthAdjust="spacingAndGlyphs">&#8722;1</text>
</g>
</svg>
</body></html>
